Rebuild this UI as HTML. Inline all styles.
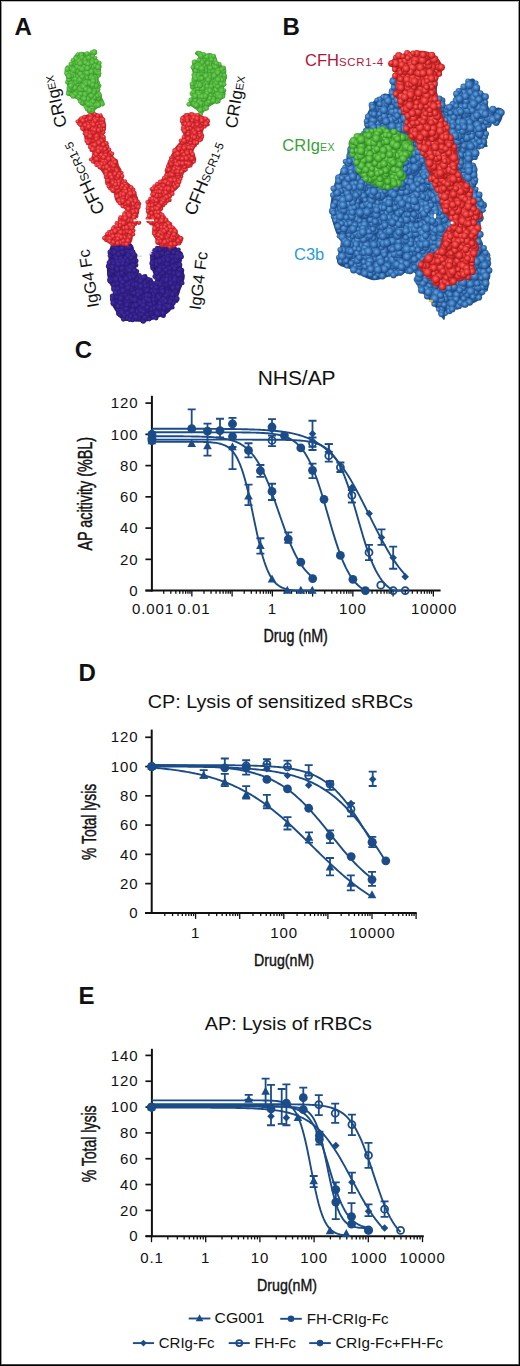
<!DOCTYPE html>
<html><head><meta charset="utf-8"><title>Figure</title>
<style>html,body{margin:0;padding:0;background:#fff;width:520px;height:1366px;overflow:hidden}svg{display:block}</style>
</head><body>
<svg width="520" height="1366" viewBox="0 0 520 1366">
<defs>
<style>
text{font-family:"Liberation Sans",sans-serif;fill:#111}
.tk{font-size:15px;letter-spacing:0.9px}
.lab{font-size:24px;font-weight:bold}
</style>
</defs>
<rect x="0" y="0" width="520" height="1366" fill="#fff"/>
<defs><radialGradient id="bB" cx="0.42" cy="0.4" r="0.62"><stop offset="0" stop-color="#6aa6e0"/><stop offset="0.55" stop-color="#3572b5"/><stop offset="1" stop-color="#1a4580"/></radialGradient>
<radialGradient id="rB" cx="0.42" cy="0.4" r="0.62"><stop offset="0" stop-color="#ff6a6a"/><stop offset="0.55" stop-color="#e0302f"/><stop offset="1" stop-color="#9a1418"/></radialGradient>
<radialGradient id="gB" cx="0.42" cy="0.4" r="0.62"><stop offset="0" stop-color="#86d65e"/><stop offset="0.55" stop-color="#4cb33a"/><stop offset="1" stop-color="#2a7d1e"/></radialGradient>
<radialGradient id="gA" cx="0.42" cy="0.4" r="0.62"><stop offset="0" stop-color="#76d058"/><stop offset="0.55" stop-color="#52b93e"/><stop offset="1" stop-color="#399329"/></radialGradient>
<radialGradient id="rA" cx="0.42" cy="0.4" r="0.62"><stop offset="0" stop-color="#ff6666"/><stop offset="0.55" stop-color="#e22c32"/><stop offset="1" stop-color="#ad1a20"/></radialGradient>
<radialGradient id="iA" cx="0.42" cy="0.4" r="0.62"><stop offset="0" stop-color="#4231a0"/><stop offset="0.55" stop-color="#33208a"/><stop offset="1" stop-color="#261870"/></radialGradient><filter id="sb" x="-5%" y="-5%" width="110%" height="110%"><feGaussianBlur stdDeviation="0.45"/></filter></defs>
<path d="M110.4,247.1 C112.1,244.7 116.1,243.7 119.0,242.8 C121.9,241.9 125.4,241.5 127.7,241.9 C130.0,242.3 131.8,243.7 132.9,245.4 C134.1,247.1 133.9,250.0 134.6,252.3 C135.3,254.6 136.9,256.6 137.2,259.2 C137.5,261.8 135.9,265.3 136.3,267.9 C136.7,270.5 138.1,273.4 139.8,274.8 C141.5,276.2 144.7,275.6 146.7,276.5 C148.7,277.4 150.7,278.3 151.9,280.0 C153.1,281.7 153.1,286.9 153.7,286.9 C154.3,286.9 155.7,282.9 155.4,280.0 C155.1,277.1 152.8,272.8 151.9,269.6 C151.0,266.4 150.2,263.6 150.2,261.0 C150.2,258.4 150.8,256.3 151.9,254.0 C153.1,251.7 155.1,248.8 157.1,247.1 C159.1,245.4 161.4,244.3 164.0,243.7 C166.6,243.1 170.4,242.8 172.7,243.7 C175.0,244.5 176.2,247.1 177.9,248.8 C179.6,250.5 182.5,251.4 183.1,254.0 C183.7,256.6 181.0,260.6 181.3,264.4 C181.6,268.1 184.8,272.8 184.8,276.5 C184.8,280.2 182.5,283.4 181.3,286.9 C180.2,290.4 179.3,293.8 177.9,297.3 C176.5,300.8 174.7,304.8 172.7,307.7 C170.7,310.6 168.4,312.9 165.8,314.6 C163.2,316.3 160.3,317.0 157.1,318.1 C153.9,319.2 150.4,320.9 146.7,321.5 C142.9,322.1 138.6,321.8 134.6,321.5 C130.6,321.2 125.7,321.5 122.5,319.8 C119.3,318.1 117.6,314.4 115.6,311.2 C113.6,308.0 110.7,304.0 110.4,300.8 C110.1,297.6 114.1,295.3 113.8,292.1 C113.5,288.9 109.8,285.4 108.7,281.7 C107.6,277.9 106.9,273.6 106.9,269.6 C106.9,265.6 108.1,261.2 108.7,257.5 C109.3,253.8 108.7,249.5 110.4,247.1Z" fill="#2a1a78"/>
<g fill="url(#iA)" filter="url(#sb)"><circle cx="118.2" cy="294.3" r="2.8"/><circle cx="115.1" cy="285.2" r="3.2"/><circle cx="152.0" cy="290.7" r="2.5"/><circle cx="122.5" cy="294.5" r="3.0"/><circle cx="167.7" cy="300.0" r="2.9"/><circle cx="119.2" cy="312.9" r="3.2"/><circle cx="156.7" cy="263.0" r="3.0"/><circle cx="142.9" cy="320.9" r="2.5"/><circle cx="120.7" cy="258.4" r="3.0"/><circle cx="110.0" cy="253.3" r="2.1"/><circle cx="142.2" cy="296.2" r="3.1"/><circle cx="155.1" cy="283.3" r="2.2"/><circle cx="157.1" cy="307.5" r="2.6"/><circle cx="128.1" cy="262.7" r="2.4"/><circle cx="121.4" cy="274.6" r="3.0"/><circle cx="108.5" cy="266.2" r="2.6"/><circle cx="113.0" cy="246.6" r="2.5"/><circle cx="164.4" cy="250.1" r="3.0"/><circle cx="122.8" cy="266.9" r="2.9"/><circle cx="170.8" cy="299.2" r="3.2"/><circle cx="123.6" cy="274.4" r="2.6"/><circle cx="160.3" cy="311.9" r="3.0"/><circle cx="132.5" cy="273.9" r="2.3"/><circle cx="163.3" cy="315.6" r="2.5"/><circle cx="175.2" cy="264.4" r="2.7"/><circle cx="144.9" cy="290.1" r="2.8"/><circle cx="115.5" cy="256.4" r="3.1"/><circle cx="115.6" cy="274.0" r="3.0"/><circle cx="120.0" cy="267.0" r="2.9"/><circle cx="177.5" cy="253.3" r="3.0"/><circle cx="178.7" cy="285.8" r="3.1"/><circle cx="155.4" cy="311.1" r="2.6"/><circle cx="166.8" cy="297.3" r="2.5"/><circle cx="114.3" cy="288.7" r="3.2"/><circle cx="165.3" cy="248.3" r="2.7"/><circle cx="128.1" cy="267.4" r="3.1"/><circle cx="131.7" cy="286.8" r="2.4"/><circle cx="113.9" cy="274.7" r="2.7"/><circle cx="171.1" cy="305.6" r="3.0"/><circle cx="139.5" cy="275.3" r="2.2"/><circle cx="170.4" cy="269.3" r="2.7"/><circle cx="167.8" cy="280.6" r="2.5"/><circle cx="139.9" cy="288.9" r="3.0"/><circle cx="125.1" cy="282.2" r="2.8"/><circle cx="126.2" cy="292.5" r="2.9"/><circle cx="174.7" cy="276.7" r="2.8"/><circle cx="138.8" cy="299.8" r="2.8"/><circle cx="156.5" cy="300.0" r="3.0"/><circle cx="129.5" cy="283.6" r="2.7"/><circle cx="165.4" cy="267.7" r="2.5"/><circle cx="156.6" cy="284.0" r="2.6"/><circle cx="126.2" cy="258.2" r="3.0"/><circle cx="125.3" cy="244.4" r="2.3"/><circle cx="123.0" cy="297.7" r="2.7"/><circle cx="161.0" cy="300.0" r="2.7"/><circle cx="154.8" cy="276.5" r="2.4"/><circle cx="173.8" cy="250.0" r="3.2"/><circle cx="145.9" cy="287.2" r="2.4"/><circle cx="176.2" cy="292.7" r="3.1"/><circle cx="169.2" cy="249.2" r="2.9"/><circle cx="138.6" cy="313.4" r="2.6"/><circle cx="139.6" cy="277.7" r="2.8"/><circle cx="173.2" cy="303.3" r="2.4"/><circle cx="146.1" cy="281.8" r="3.1"/><circle cx="140.3" cy="303.1" r="2.8"/><circle cx="128.2" cy="295.0" r="2.3"/><circle cx="116.5" cy="247.8" r="2.5"/><circle cx="134.9" cy="305.6" r="2.9"/><circle cx="126.9" cy="285.4" r="2.6"/><circle cx="163.7" cy="299.4" r="3.1"/><circle cx="134.4" cy="316.1" r="3.0"/><circle cx="119.2" cy="286.0" r="3.1"/><circle cx="145.2" cy="298.8" r="2.6"/><circle cx="126.3" cy="271.6" r="2.7"/><circle cx="118.4" cy="274.1" r="2.3"/><circle cx="180.7" cy="255.1" r="2.4"/><circle cx="118.4" cy="277.1" r="2.3"/><circle cx="160.5" cy="267.1" r="2.7"/><circle cx="121.0" cy="287.7" r="2.9"/><circle cx="117.7" cy="244.5" r="2.2"/><circle cx="118.4" cy="249.5" r="2.5"/><circle cx="127.1" cy="308.5" r="2.7"/><circle cx="123.8" cy="271.2" r="2.7"/><circle cx="161.7" cy="282.1" r="2.6"/><circle cx="151.4" cy="307.1" r="3.1"/><circle cx="178.9" cy="282.9" r="2.9"/><circle cx="126.5" cy="301.6" r="2.6"/><circle cx="112.3" cy="261.4" r="2.4"/><circle cx="147.0" cy="295.7" r="3.0"/><circle cx="112.1" cy="274.4" r="2.8"/><circle cx="172.8" cy="263.4" r="3.2"/><circle cx="116.1" cy="302.4" r="2.6"/><circle cx="153.5" cy="317.1" r="2.4"/><circle cx="135.7" cy="282.4" r="2.8"/><circle cx="129.1" cy="256.0" r="2.7"/><circle cx="120.6" cy="300.7" r="2.8"/><circle cx="127.9" cy="261.5" r="3.2"/><circle cx="133.2" cy="306.2" r="2.4"/><circle cx="142.6" cy="308.8" r="3.0"/><circle cx="113.8" cy="284.4" r="2.3"/><circle cx="124.1" cy="287.5" r="2.6"/><circle cx="157.7" cy="274.2" r="2.8"/><circle cx="156.1" cy="318.1" r="2.4"/><circle cx="139.3" cy="308.8" r="3.1"/><circle cx="143.6" cy="321.4" r="2.2"/><circle cx="125.2" cy="251.9" r="2.6"/><circle cx="149.3" cy="287.1" r="2.8"/><circle cx="112.2" cy="252.7" r="2.9"/><circle cx="126.7" cy="311.4" r="3.2"/><circle cx="168.9" cy="246.4" r="2.9"/><circle cx="159.7" cy="255.9" r="2.5"/><circle cx="116.5" cy="258.4" r="2.3"/><circle cx="162.2" cy="251.0" r="3.1"/><circle cx="114.7" cy="280.5" r="2.4"/><circle cx="166.6" cy="276.9" r="2.9"/><circle cx="132.5" cy="281.5" r="2.6"/><circle cx="134.9" cy="255.7" r="2.7"/><circle cx="121.0" cy="248.7" r="2.8"/><circle cx="174.6" cy="283.8" r="2.5"/><circle cx="136.8" cy="271.5" r="2.4"/><circle cx="181.6" cy="270.3" r="2.6"/><circle cx="144.5" cy="282.9" r="2.8"/><circle cx="136.0" cy="260.8" r="2.5"/><circle cx="120.8" cy="244.7" r="2.9"/><circle cx="115.4" cy="304.2" r="2.4"/><circle cx="175.4" cy="286.9" r="2.6"/><circle cx="160.7" cy="314.1" r="2.6"/><circle cx="161.3" cy="309.7" r="3.1"/><circle cx="116.6" cy="296.5" r="2.6"/><circle cx="163.1" cy="303.3" r="2.9"/><circle cx="157.0" cy="247.9" r="2.1"/><circle cx="155.9" cy="298.6" r="3.1"/><circle cx="145.5" cy="314.1" r="2.6"/><circle cx="151.5" cy="313.2" r="2.7"/><circle cx="122.7" cy="280.4" r="2.9"/><circle cx="134.5" cy="279.2" r="3.1"/><circle cx="173.1" cy="266.5" r="3.0"/><circle cx="170.0" cy="284.4" r="3.0"/><circle cx="136.7" cy="311.9" r="2.8"/><circle cx="165.6" cy="256.8" r="2.7"/><circle cx="168.5" cy="267.6" r="2.8"/><circle cx="143.9" cy="277.7" r="2.5"/><circle cx="112.5" cy="296.1" r="2.7"/><circle cx="177.7" cy="287.6" r="3.0"/><circle cx="166.9" cy="305.4" r="2.8"/><circle cx="169.3" cy="292.1" r="2.4"/><circle cx="163.1" cy="313.2" r="2.9"/><circle cx="175.7" cy="294.7" r="2.4"/><circle cx="132.4" cy="320.0" r="2.2"/><circle cx="149.3" cy="303.7" r="3.1"/><circle cx="164.4" cy="280.9" r="2.6"/><circle cx="163.4" cy="278.3" r="3.1"/><circle cx="166.8" cy="287.5" r="2.9"/><circle cx="135.8" cy="287.0" r="2.6"/><circle cx="162.1" cy="253.4" r="2.8"/><circle cx="128.9" cy="305.1" r="2.6"/><circle cx="121.8" cy="285.6" r="3.2"/><circle cx="110.2" cy="280.0" r="3.1"/><circle cx="126.4" cy="278.9" r="3.2"/><circle cx="172.6" cy="307.4" r="2.0"/><circle cx="118.9" cy="309.4" r="3.1"/><circle cx="109.7" cy="273.9" r="2.6"/><circle cx="122.4" cy="305.1" r="2.8"/><circle cx="158.2" cy="296.0" r="2.6"/><circle cx="122.6" cy="249.9" r="3.0"/><circle cx="175.1" cy="257.7" r="3.0"/><circle cx="163.2" cy="275.4" r="2.8"/><circle cx="118.7" cy="292.1" r="2.5"/><circle cx="171.8" cy="257.1" r="2.9"/><circle cx="159.2" cy="297.5" r="2.3"/><circle cx="139.7" cy="296.8" r="3.0"/><circle cx="112.0" cy="270.3" r="3.1"/><circle cx="136.5" cy="278.7" r="3.0"/><circle cx="172.4" cy="298.1" r="2.8"/><circle cx="146.9" cy="309.6" r="3.0"/><circle cx="111.9" cy="273.0" r="3.1"/><circle cx="176.1" cy="300.6" r="2.5"/><circle cx="116.7" cy="266.5" r="3.0"/><circle cx="154.6" cy="250.4" r="2.4"/><circle cx="135.8" cy="264.9" r="2.5"/><circle cx="122.5" cy="252.5" r="3.1"/><circle cx="134.1" cy="285.0" r="2.9"/><circle cx="130.1" cy="297.9" r="2.8"/><circle cx="120.4" cy="279.7" r="3.0"/><circle cx="133.0" cy="312.1" r="3.0"/><circle cx="122.0" cy="309.1" r="2.6"/><circle cx="160.0" cy="303.7" r="2.7"/><circle cx="177.9" cy="273.5" r="3.0"/><circle cx="165.7" cy="301.2" r="2.8"/><circle cx="166.4" cy="271.3" r="2.6"/><circle cx="174.8" cy="290.4" r="3.1"/><circle cx="147.2" cy="300.4" r="2.4"/><circle cx="123.4" cy="319.3" r="2.4"/><circle cx="130.5" cy="259.2" r="2.5"/><circle cx="137.6" cy="291.8" r="2.8"/><circle cx="135.1" cy="275.6" r="2.5"/><circle cx="149.3" cy="319.3" r="2.1"/><circle cx="163.3" cy="266.8" r="2.5"/><circle cx="170.4" cy="249.6" r="3.1"/><circle cx="160.3" cy="249.2" r="2.9"/><circle cx="152.9" cy="260.6" r="2.5"/><circle cx="159.8" cy="275.5" r="2.8"/><circle cx="155.1" cy="253.3" r="2.6"/><circle cx="156.8" cy="261.7" r="2.4"/><circle cx="114.0" cy="302.5" r="2.5"/><circle cx="140.5" cy="315.0" r="2.6"/><circle cx="154.4" cy="288.6" r="2.9"/><circle cx="137.0" cy="306.5" r="2.3"/><circle cx="167.5" cy="309.1" r="2.7"/><circle cx="119.8" cy="315.1" r="2.3"/><circle cx="147.9" cy="285.8" r="2.6"/><circle cx="133.6" cy="292.1" r="2.9"/><circle cx="152.2" cy="257.6" r="2.3"/><circle cx="125.2" cy="294.4" r="3.1"/><circle cx="173.7" cy="252.6" r="2.4"/><circle cx="168.8" cy="244.4" r="2.2"/><circle cx="131.4" cy="310.7" r="2.3"/><circle cx="171.1" cy="275.2" r="2.6"/><circle cx="181.9" cy="275.3" r="2.4"/><circle cx="170.3" cy="301.9" r="2.4"/><circle cx="116.8" cy="261.5" r="2.6"/><circle cx="114.0" cy="252.4" r="2.5"/><circle cx="136.3" cy="284.5" r="2.6"/><circle cx="132.0" cy="293.2" r="2.9"/><circle cx="123.3" cy="315.0" r="2.3"/><circle cx="152.4" cy="268.6" r="2.0"/><circle cx="128.0" cy="250.2" r="3.1"/><circle cx="173.3" cy="273.3" r="2.9"/><circle cx="151.4" cy="282.7" r="2.6"/><circle cx="131.4" cy="291.9" r="3.1"/><circle cx="144.2" cy="287.8" r="2.7"/><circle cx="122.0" cy="312.6" r="3.1"/><circle cx="118.0" cy="306.2" r="2.8"/><circle cx="127.3" cy="318.0" r="2.9"/><circle cx="169.6" cy="271.8" r="3.1"/><circle cx="134.2" cy="313.6" r="2.5"/><circle cx="113.7" cy="280.0" r="2.4"/><circle cx="175.9" cy="260.6" r="2.7"/><circle cx="179.9" cy="269.5" r="2.8"/><circle cx="153.9" cy="302.8" r="2.5"/><circle cx="157.6" cy="270.9" r="2.5"/><circle cx="114.4" cy="252.4" r="3.2"/><circle cx="133.1" cy="262.1" r="3.0"/><circle cx="162.2" cy="273.1" r="2.8"/><circle cx="169.2" cy="268.4" r="2.9"/><circle cx="172.7" cy="294.5" r="2.9"/><circle cx="138.7" cy="318.4" r="2.7"/><circle cx="162.7" cy="247.3" r="2.6"/><circle cx="126.1" cy="308.8" r="3.0"/><circle cx="140.8" cy="292.8" r="2.9"/><circle cx="144.0" cy="301.8" r="2.9"/><circle cx="147.4" cy="315.2" r="2.4"/><circle cx="173.0" cy="285.2" r="2.3"/><circle cx="172.3" cy="261.5" r="3.2"/><circle cx="121.4" cy="306.2" r="2.6"/><circle cx="126.9" cy="247.1" r="2.9"/><circle cx="113.4" cy="263.6" r="2.5"/><circle cx="120.6" cy="303.1" r="2.7"/><circle cx="162.1" cy="294.2" r="2.9"/><circle cx="165.6" cy="285.3" r="3.1"/><circle cx="166.6" cy="254.3" r="2.5"/><circle cx="156.0" cy="264.9" r="2.8"/><circle cx="131.3" cy="269.7" r="2.4"/><circle cx="158.5" cy="255.1" r="3.1"/><circle cx="131.8" cy="299.9" r="2.7"/><circle cx="128.6" cy="300.8" r="2.8"/><circle cx="127.1" cy="304.9" r="2.5"/><circle cx="169.7" cy="279.6" r="2.8"/><circle cx="115.6" cy="292.9" r="2.9"/><circle cx="147.2" cy="299.3" r="3.0"/><circle cx="128.9" cy="247.0" r="3.2"/><circle cx="133.4" cy="265.7" r="2.9"/><circle cx="120.1" cy="261.4" r="2.6"/><circle cx="153.3" cy="296.2" r="2.7"/><circle cx="117.1" cy="269.4" r="3.0"/><circle cx="131.2" cy="267.5" r="2.8"/><circle cx="153.9" cy="308.5" r="2.7"/><circle cx="145.0" cy="317.5" r="3.1"/><circle cx="121.0" cy="298.3" r="3.0"/><circle cx="176.9" cy="298.8" r="2.7"/><circle cx="163.8" cy="308.4" r="3.0"/><circle cx="111.9" cy="298.9" r="2.1"/><circle cx="161.5" cy="263.3" r="2.9"/><circle cx="162.9" cy="287.8" r="2.9"/><circle cx="167.0" cy="292.1" r="2.3"/><circle cx="162.4" cy="286.5" r="3.2"/><circle cx="151.9" cy="286.6" r="2.4"/><circle cx="153.9" cy="294.2" r="2.4"/><circle cx="149.3" cy="295.7" r="2.5"/><circle cx="157.8" cy="291.1" r="2.9"/><circle cx="142.6" cy="314.0" r="2.5"/><circle cx="145.2" cy="276.4" r="2.3"/><circle cx="129.4" cy="254.3" r="3.2"/><circle cx="112.6" cy="270.9" r="2.9"/><circle cx="109.5" cy="262.7" r="2.8"/><circle cx="133.0" cy="260.4" r="3.0"/><circle cx="122.0" cy="273.3" r="2.4"/><circle cx="136.2" cy="305.2" r="2.9"/><circle cx="179.7" cy="279.8" r="3.0"/><circle cx="176.0" cy="267.0" r="2.9"/><circle cx="132.5" cy="310.8" r="3.0"/><circle cx="109.9" cy="255.8" r="2.3"/><circle cx="112.6" cy="267.2" r="3.1"/><circle cx="127.6" cy="243.5" r="2.4"/><circle cx="137.1" cy="296.5" r="2.3"/><circle cx="179.9" cy="274.3" r="2.4"/><circle cx="122.2" cy="268.6" r="2.9"/><circle cx="156.4" cy="249.5" r="2.2"/><circle cx="166.6" cy="280.2" r="3.1"/><circle cx="135.9" cy="319.0" r="2.3"/><circle cx="170.9" cy="283.3" r="2.8"/><circle cx="127.6" cy="298.5" r="2.5"/><circle cx="179.0" cy="274.7" r="3.1"/><circle cx="130.7" cy="316.2" r="2.7"/><circle cx="166.0" cy="270.0" r="2.6"/><circle cx="178.6" cy="249.6" r="2.1"/><circle cx="152.7" cy="266.2" r="2.6"/><circle cx="153.6" cy="299.8" r="2.4"/><circle cx="131.4" cy="274.1" r="2.3"/><circle cx="172.8" cy="247.7" r="2.6"/><circle cx="122.8" cy="282.3" r="2.8"/><circle cx="164.1" cy="262.4" r="2.3"/><circle cx="168.5" cy="256.2" r="2.3"/><circle cx="129.7" cy="319.8" r="2.2"/><circle cx="117.1" cy="283.4" r="3.0"/><circle cx="141.3" cy="310.7" r="2.4"/><circle cx="147.2" cy="290.6" r="2.7"/><circle cx="150.5" cy="280.2" r="2.4"/><circle cx="155.6" cy="291.5" r="2.7"/><circle cx="178.1" cy="280.6" r="2.5"/><circle cx="169.0" cy="306.9" r="3.2"/><circle cx="179.7" cy="264.9" r="2.6"/><circle cx="132.4" cy="252.3" r="3.1"/><circle cx="110.0" cy="252.1" r="2.5"/><circle cx="138.1" cy="294.7" r="2.6"/><circle cx="173.3" cy="287.9" r="2.8"/><circle cx="167.4" cy="263.7" r="3.1"/><circle cx="118.8" cy="254.3" r="2.7"/><circle cx="159.8" cy="307.5" r="3.1"/><circle cx="169.7" cy="259.1" r="2.6"/><circle cx="131.0" cy="257.8" r="2.9"/><circle cx="117.8" cy="288.8" r="2.4"/><circle cx="157.7" cy="314.0" r="3.2"/><circle cx="167.9" cy="294.3" r="2.6"/><circle cx="167.8" cy="259.8" r="3.0"/><circle cx="145.6" cy="285.9" r="2.4"/><circle cx="134.0" cy="254.6" r="2.5"/><circle cx="143.8" cy="277.4" r="2.8"/><circle cx="162.1" cy="288.2" r="2.3"/><circle cx="135.9" cy="317.4" r="3.0"/><circle cx="126.1" cy="264.2" r="2.8"/><circle cx="152.2" cy="311.9" r="2.4"/><circle cx="143.6" cy="311.7" r="2.5"/><circle cx="157.6" cy="278.6" r="3.1"/><circle cx="129.8" cy="270.4" r="2.8"/><circle cx="174.9" cy="268.5" r="2.5"/><circle cx="149.3" cy="300.5" r="2.6"/><circle cx="152.4" cy="254.4" r="2.7"/><circle cx="179.5" cy="259.6" r="2.5"/><circle cx="123.8" cy="261.0" r="2.8"/><circle cx="163.3" cy="260.0" r="3.1"/><circle cx="113.4" cy="303.2" r="2.9"/><circle cx="143.5" cy="305.4" r="2.9"/><circle cx="131.1" cy="289.6" r="2.9"/><circle cx="118.3" cy="264.3" r="3.0"/><circle cx="160.0" cy="261.3" r="2.9"/><circle cx="151.1" cy="309.4" r="2.5"/><circle cx="166.1" cy="295.6" r="2.4"/><circle cx="178.1" cy="257.1" r="2.7"/><circle cx="135.3" cy="298.9" r="2.4"/><circle cx="127.7" cy="313.6" r="2.3"/><circle cx="122.8" cy="263.5" r="2.7"/><circle cx="129.3" cy="275.3" r="2.4"/><circle cx="181.6" cy="256.8" r="2.4"/><circle cx="124.4" cy="315.7" r="2.7"/><circle cx="122.2" cy="248.2" r="2.7"/><circle cx="162.8" cy="291.7" r="3.1"/><circle cx="156.4" cy="287.4" r="2.8"/><circle cx="157.2" cy="283.1" r="2.6"/><circle cx="158.6" cy="277.0" r="2.6"/><circle cx="148.7" cy="279.1" r="2.0"/><circle cx="174.9" cy="280.0" r="3.0"/><circle cx="128.4" cy="287.9" r="2.8"/><circle cx="182.3" cy="283.0" r="2.3"/><circle cx="110.4" cy="281.1" r="2.6"/><circle cx="116.0" cy="279.3" r="3.2"/><circle cx="133.1" cy="276.9" r="3.1"/><circle cx="134.1" cy="293.2" r="2.4"/><circle cx="157.0" cy="273.2" r="2.5"/><circle cx="160.4" cy="284.3" r="2.8"/><circle cx="128.2" cy="255.5" r="2.4"/><circle cx="134.5" cy="270.3" r="2.6"/><circle cx="157.5" cy="255.7" r="2.6"/><circle cx="150.7" cy="304.8" r="2.5"/><circle cx="135.3" cy="300.0" r="3.0"/><circle cx="152.1" cy="263.2" r="2.7"/><circle cx="130.4" cy="277.9" r="2.4"/><circle cx="123.1" cy="291.0" r="3.2"/><circle cx="159.4" cy="270.3" r="3.0"/><circle cx="141.0" cy="286.2" r="3.1"/><circle cx="168.3" cy="253.1" r="2.4"/><circle cx="140.8" cy="281.1" r="2.9"/><circle cx="147.6" cy="307.7" r="2.7"/></g>
<path d="M94.0,49.6 C95.0,49.7 96.8,50.9 96.9,51.9 C97.0,52.9 94.4,54.0 94.6,55.4 C94.8,56.8 97.0,58.6 98.1,60.0 C99.2,61.4 100.7,62.1 101.0,63.5 C101.3,64.8 99.9,66.6 99.8,68.1 C99.7,69.6 100.6,71.0 100.4,72.7 C100.2,74.4 98.8,76.4 98.7,78.5 C98.6,80.6 99.5,82.9 99.8,85.4 C100.1,87.9 99.6,90.6 100.4,93.5 C101.2,96.4 104.0,100.8 104.4,102.7 C104.8,104.6 104.1,103.8 102.7,105.0 C101.3,106.2 97.2,108.2 95.8,109.6 C94.4,110.9 95.9,112.5 94.6,113.1 C93.2,113.7 89.2,114.1 87.7,113.1 C86.2,112.1 86.6,108.6 85.4,107.3 C84.2,106.0 82.2,106.3 80.8,105.0 C79.4,103.7 78.8,100.5 77.3,99.2 C75.8,97.9 73.2,97.7 71.5,96.9 C69.8,96.1 67.7,96.5 66.9,94.6 C66.1,92.7 67.0,88.1 66.9,85.4 C66.8,82.7 66.7,80.8 66.3,78.5 C65.9,76.2 64.6,73.6 64.6,71.5 C64.6,69.4 65.3,66.8 66.3,65.8 C67.3,64.8 69.3,66.2 70.4,65.2 C71.5,64.2 72.0,61.6 72.7,60.0 C73.4,58.4 73.1,56.8 74.4,55.4 C75.8,54.0 78.6,52.3 80.8,51.9 C83.0,51.5 86.0,53.2 87.7,53.1 C89.4,53.0 90.2,51.9 91.2,51.3 C92.2,50.7 93.0,49.5 94.0,49.6Z" fill="#44a033"/>
<g fill="url(#gA)" filter="url(#sb)"><circle cx="75.1" cy="63.3" r="3.0"/><circle cx="81.8" cy="59.6" r="2.5"/><circle cx="95.4" cy="77.2" r="2.5"/><circle cx="72.0" cy="69.7" r="2.6"/><circle cx="97.6" cy="83.1" r="2.5"/><circle cx="67.1" cy="73.3" r="2.8"/><circle cx="84.9" cy="70.5" r="2.5"/><circle cx="68.2" cy="93.4" r="2.4"/><circle cx="92.8" cy="56.0" r="2.3"/><circle cx="77.5" cy="84.3" r="2.4"/><circle cx="78.8" cy="57.9" r="2.4"/><circle cx="76.9" cy="61.9" r="2.8"/><circle cx="81.9" cy="54.7" r="2.3"/><circle cx="82.9" cy="81.7" r="2.8"/><circle cx="89.9" cy="109.2" r="2.3"/><circle cx="84.6" cy="83.4" r="2.3"/><circle cx="79.0" cy="68.6" r="2.6"/><circle cx="67.1" cy="82.2" r="2.1"/><circle cx="87.3" cy="74.7" r="2.5"/><circle cx="71.6" cy="67.4" r="2.8"/><circle cx="98.2" cy="89.5" r="2.3"/><circle cx="76.9" cy="76.6" r="2.3"/><circle cx="88.9" cy="60.0" r="2.4"/><circle cx="76.9" cy="71.3" r="2.6"/><circle cx="93.1" cy="86.3" r="2.4"/><circle cx="85.5" cy="61.7" r="2.4"/><circle cx="73.6" cy="78.4" r="2.9"/><circle cx="89.3" cy="84.2" r="2.4"/><circle cx="77.5" cy="90.6" r="2.7"/><circle cx="86.4" cy="82.4" r="2.8"/><circle cx="89.9" cy="70.7" r="2.7"/><circle cx="76.0" cy="58.8" r="2.9"/><circle cx="87.1" cy="102.1" r="2.5"/><circle cx="99.4" cy="63.0" r="2.3"/><circle cx="83.4" cy="66.8" r="3.0"/><circle cx="81.5" cy="87.3" r="2.6"/><circle cx="91.7" cy="75.2" r="2.2"/><circle cx="99.0" cy="93.7" r="2.3"/><circle cx="69.5" cy="87.3" r="2.6"/><circle cx="70.8" cy="72.0" r="2.7"/><circle cx="95.6" cy="78.6" r="2.3"/><circle cx="85.5" cy="76.7" r="2.9"/><circle cx="70.1" cy="68.3" r="2.8"/><circle cx="98.7" cy="75.4" r="2.2"/><circle cx="90.7" cy="69.7" r="2.2"/><circle cx="89.5" cy="83.0" r="2.8"/><circle cx="77.8" cy="62.5" r="2.7"/><circle cx="82.0" cy="102.9" r="2.3"/><circle cx="91.5" cy="102.1" r="2.6"/><circle cx="99.5" cy="95.5" r="2.6"/><circle cx="90.7" cy="59.4" r="2.4"/><circle cx="98.2" cy="98.1" r="2.7"/><circle cx="92.8" cy="66.7" r="2.7"/><circle cx="82.7" cy="98.5" r="2.5"/><circle cx="99.2" cy="85.7" r="2.2"/><circle cx="94.3" cy="71.9" r="2.8"/><circle cx="77.2" cy="66.9" r="2.5"/><circle cx="72.9" cy="60.2" r="2.3"/><circle cx="84.3" cy="71.3" r="3.0"/><circle cx="84.8" cy="59.2" r="2.3"/><circle cx="75.7" cy="82.1" r="2.5"/><circle cx="94.1" cy="98.4" r="2.7"/><circle cx="72.8" cy="73.3" r="3.0"/><circle cx="74.1" cy="75.8" r="2.2"/><circle cx="85.8" cy="83.9" r="2.5"/><circle cx="71.8" cy="89.7" r="2.9"/><circle cx="85.5" cy="62.5" r="2.6"/><circle cx="71.4" cy="76.3" r="2.5"/><circle cx="101.7" cy="102.9" r="2.2"/><circle cx="79.8" cy="67.8" r="2.4"/><circle cx="96.8" cy="96.0" r="2.6"/><circle cx="97.0" cy="103.4" r="2.3"/><circle cx="95.5" cy="71.0" r="2.3"/><circle cx="95.7" cy="81.3" r="2.5"/><circle cx="76.8" cy="93.7" r="2.4"/><circle cx="92.6" cy="61.1" r="2.6"/><circle cx="79.7" cy="89.1" r="2.9"/><circle cx="85.4" cy="106.7" r="1.9"/><circle cx="94.7" cy="91.2" r="2.6"/><circle cx="95.7" cy="105.3" r="3.0"/><circle cx="71.0" cy="82.6" r="2.4"/><circle cx="92.3" cy="52.4" r="2.4"/><circle cx="86.6" cy="77.9" r="2.4"/><circle cx="77.2" cy="96.3" r="2.7"/><circle cx="92.8" cy="98.0" r="2.7"/><circle cx="79.2" cy="98.8" r="2.2"/><circle cx="86.8" cy="96.2" r="2.6"/><circle cx="88.6" cy="55.8" r="2.2"/><circle cx="79.2" cy="60.8" r="2.6"/><circle cx="92.1" cy="108.6" r="3.0"/><circle cx="89.5" cy="66.1" r="2.6"/><circle cx="81.1" cy="54.8" r="2.8"/><circle cx="80.0" cy="101.6" r="2.0"/><circle cx="77.6" cy="54.3" r="2.0"/><circle cx="98.1" cy="86.6" r="2.3"/><circle cx="91.7" cy="110.9" r="3.0"/><circle cx="80.5" cy="74.0" r="2.7"/><circle cx="94.8" cy="65.3" r="2.3"/><circle cx="91.5" cy="77.6" r="2.9"/><circle cx="87.3" cy="89.0" r="2.7"/><circle cx="97.2" cy="71.9" r="2.8"/><circle cx="92.8" cy="94.6" r="2.7"/><circle cx="84.6" cy="95.6" r="2.5"/><circle cx="82.1" cy="57.5" r="2.3"/><circle cx="96.5" cy="85.5" r="2.2"/><circle cx="69.9" cy="89.5" r="2.6"/><circle cx="80.3" cy="83.6" r="2.5"/><circle cx="96.3" cy="61.4" r="2.4"/><circle cx="72.2" cy="95.0" r="2.4"/><circle cx="72.9" cy="84.8" r="2.4"/><circle cx="80.7" cy="93.8" r="2.7"/><circle cx="83.7" cy="78.2" r="2.4"/><circle cx="99.1" cy="66.5" r="2.5"/><circle cx="82.3" cy="69.1" r="2.9"/><circle cx="88.6" cy="104.1" r="2.7"/><circle cx="75.4" cy="94.1" r="2.7"/><circle cx="95.5" cy="57.8" r="1.9"/><circle cx="88.7" cy="57.7" r="2.6"/><circle cx="87.4" cy="73.1" r="2.9"/><circle cx="80.4" cy="63.4" r="2.9"/><circle cx="87.2" cy="53.8" r="2.5"/><circle cx="75.3" cy="79.1" r="2.5"/><circle cx="98.6" cy="69.8" r="2.5"/><circle cx="94.3" cy="52.2" r="2.9"/><circle cx="85.4" cy="94.3" r="2.8"/><circle cx="102.3" cy="104.2" r="2.4"/><circle cx="79.2" cy="81.2" r="2.9"/><circle cx="73.3" cy="96.2" r="2.5"/><circle cx="80.0" cy="79.8" r="2.8"/><circle cx="71.8" cy="87.1" r="2.9"/><circle cx="93.1" cy="78.3" r="2.5"/><circle cx="82.4" cy="76.7" r="2.5"/><circle cx="86.8" cy="108.7" r="2.2"/><circle cx="94.1" cy="97.4" r="2.6"/><circle cx="88.3" cy="92.1" r="2.8"/><circle cx="87.9" cy="99.3" r="2.5"/><circle cx="75.1" cy="87.9" r="2.6"/><circle cx="73.6" cy="70.0" r="3.0"/><circle cx="91.3" cy="71.6" r="2.9"/><circle cx="87.6" cy="68.2" r="2.9"/><circle cx="67.4" cy="69.0" r="2.7"/><circle cx="93.3" cy="81.1" r="2.7"/><circle cx="91.6" cy="104.3" r="2.4"/><circle cx="81.0" cy="89.5" r="2.6"/><circle cx="93.1" cy="101.5" r="2.4"/><circle cx="71.0" cy="64.0" r="2.5"/><circle cx="82.2" cy="89.4" r="2.3"/><circle cx="78.7" cy="97.1" r="2.4"/><circle cx="89.7" cy="110.1" r="2.5"/><circle cx="96.1" cy="86.1" r="2.3"/><circle cx="92.1" cy="62.6" r="2.4"/><circle cx="92.7" cy="85.0" r="2.5"/><circle cx="99.2" cy="73.2" r="2.2"/><circle cx="93.8" cy="92.6" r="2.3"/><circle cx="88.1" cy="63.9" r="2.4"/><circle cx="83.6" cy="86.4" r="3.0"/><circle cx="71.0" cy="85.8" r="2.8"/><circle cx="69.1" cy="79.2" r="2.8"/><circle cx="85.8" cy="89.2" r="2.4"/><circle cx="98.2" cy="67.2" r="2.9"/><circle cx="91.4" cy="95.6" r="2.8"/><circle cx="84.4" cy="98.7" r="2.8"/><circle cx="69.0" cy="76.3" r="2.8"/><circle cx="89.7" cy="90.9" r="2.9"/><circle cx="98.2" cy="104.9" r="2.9"/></g>
<path d="M197.3,50.8 C198.3,50.5 199.7,51.3 200.8,51.9 C202.0,52.5 202.7,54.0 204.2,54.2 C205.7,54.4 208.1,52.7 210.0,53.1 C211.9,53.5 214.5,55.0 215.8,56.5 C217.2,58.0 216.9,60.8 218.1,62.3 C219.2,63.8 221.4,64.8 222.7,65.8 C223.9,66.8 225.0,65.8 225.6,68.1 C226.2,70.4 226.5,76.5 226.2,79.6 C225.9,82.7 223.9,84.2 223.8,86.5 C223.7,88.8 225.6,91.6 225.6,93.5 C225.6,95.4 225.1,96.8 223.8,98.1 C222.6,99.4 220.0,100.3 218.1,101.5 C216.2,102.7 214.2,103.8 212.3,105.0 C210.4,106.2 208.0,107.2 206.5,108.5 C205.0,109.8 204.2,112.1 203.1,113.1 C202.0,114.0 201.2,114.6 200.2,114.2 C199.2,113.8 198.6,112.0 197.3,110.8 C196.1,109.6 194.2,108.5 192.7,107.3 C191.2,106.1 188.3,105.5 188.1,103.8 C187.9,102.1 190.7,99.4 191.5,96.9 C192.3,94.4 192.7,91.7 192.7,88.8 C192.7,85.9 191.5,82.1 191.5,79.6 C191.5,77.1 192.7,75.7 192.7,73.8 C192.7,71.9 191.5,69.8 191.5,68.1 C191.5,66.4 191.5,65.2 192.7,63.5 C193.9,61.8 198.1,59.3 198.5,57.7 C198.9,56.1 195.2,54.9 195.0,53.7 C194.8,52.6 196.3,51.1 197.3,50.8Z" fill="#44a033"/>
<g fill="url(#gA)" filter="url(#sb)"><circle cx="214.6" cy="75.4" r="2.7"/><circle cx="194.1" cy="96.6" r="2.6"/><circle cx="197.3" cy="70.7" r="2.7"/><circle cx="209.5" cy="63.1" r="2.7"/><circle cx="201.1" cy="91.7" r="2.7"/><circle cx="205.9" cy="94.7" r="2.3"/><circle cx="193.7" cy="74.7" r="2.3"/><circle cx="192.7" cy="67.2" r="2.2"/><circle cx="205.4" cy="67.4" r="2.4"/><circle cx="201.2" cy="62.0" r="2.4"/><circle cx="195.6" cy="61.7" r="2.3"/><circle cx="195.4" cy="74.3" r="2.2"/><circle cx="204.5" cy="109.0" r="2.3"/><circle cx="196.2" cy="64.3" r="2.8"/><circle cx="205.5" cy="106.8" r="2.2"/><circle cx="203.8" cy="65.4" r="2.4"/><circle cx="223.4" cy="70.7" r="2.9"/><circle cx="215.4" cy="71.7" r="2.3"/><circle cx="204.3" cy="59.1" r="2.7"/><circle cx="210.1" cy="81.0" r="2.9"/><circle cx="213.3" cy="97.4" r="2.2"/><circle cx="190.7" cy="99.9" r="2.4"/><circle cx="217.5" cy="82.2" r="2.7"/><circle cx="207.9" cy="58.8" r="2.5"/><circle cx="198.1" cy="83.6" r="2.3"/><circle cx="208.5" cy="71.7" r="2.5"/><circle cx="198.9" cy="74.9" r="2.2"/><circle cx="222.8" cy="76.0" r="2.4"/><circle cx="200.7" cy="113.8" r="2.4"/><circle cx="201.1" cy="64.7" r="2.4"/><circle cx="211.9" cy="82.0" r="2.7"/><circle cx="195.6" cy="70.7" r="2.3"/><circle cx="207.3" cy="89.7" r="2.8"/><circle cx="222.8" cy="84.5" r="2.8"/><circle cx="203.9" cy="88.1" r="2.3"/><circle cx="212.5" cy="66.4" r="2.9"/><circle cx="203.0" cy="95.8" r="2.5"/><circle cx="203.9" cy="86.1" r="2.3"/><circle cx="194.2" cy="103.8" r="2.9"/><circle cx="213.8" cy="79.9" r="2.8"/><circle cx="224.6" cy="77.2" r="2.5"/><circle cx="204.7" cy="83.1" r="2.7"/><circle cx="211.9" cy="77.4" r="2.9"/><circle cx="200.2" cy="99.2" r="2.3"/><circle cx="223.0" cy="80.6" r="2.7"/><circle cx="202.4" cy="104.3" r="2.7"/><circle cx="200.4" cy="54.4" r="3.0"/><circle cx="215.4" cy="94.5" r="2.7"/><circle cx="216.8" cy="92.0" r="3.0"/><circle cx="209.1" cy="104.2" r="2.2"/><circle cx="219.5" cy="64.1" r="2.1"/><circle cx="194.2" cy="62.0" r="2.5"/><circle cx="220.9" cy="85.7" r="2.4"/><circle cx="209.4" cy="63.8" r="2.9"/><circle cx="204.1" cy="90.2" r="2.8"/><circle cx="197.8" cy="76.7" r="2.3"/><circle cx="218.1" cy="101.0" r="2.5"/><circle cx="214.5" cy="61.7" r="2.3"/><circle cx="214.4" cy="66.6" r="2.2"/><circle cx="199.6" cy="78.9" r="2.5"/><circle cx="221.2" cy="88.9" r="2.7"/><circle cx="207.7" cy="63.2" r="2.3"/><circle cx="216.5" cy="65.4" r="2.2"/><circle cx="201.3" cy="69.0" r="2.9"/><circle cx="204.1" cy="99.2" r="2.2"/><circle cx="207.0" cy="82.4" r="2.5"/><circle cx="200.9" cy="105.2" r="2.3"/><circle cx="212.5" cy="70.9" r="2.4"/><circle cx="214.9" cy="84.8" r="2.5"/><circle cx="214.9" cy="60.1" r="2.2"/><circle cx="196.2" cy="103.3" r="2.4"/><circle cx="200.4" cy="59.8" r="3.0"/><circle cx="199.3" cy="65.6" r="2.6"/><circle cx="215.9" cy="67.0" r="2.3"/><circle cx="220.9" cy="84.1" r="2.9"/><circle cx="192.1" cy="93.6" r="2.5"/><circle cx="195.7" cy="96.8" r="2.3"/><circle cx="198.1" cy="92.3" r="2.4"/><circle cx="207.2" cy="86.3" r="2.3"/><circle cx="199.0" cy="94.2" r="2.8"/><circle cx="220.0" cy="77.0" r="2.6"/><circle cx="194.6" cy="76.6" r="2.5"/><circle cx="224.6" cy="75.4" r="2.2"/><circle cx="207.4" cy="103.3" r="2.6"/><circle cx="200.5" cy="83.9" r="2.4"/><circle cx="188.8" cy="104.3" r="2.4"/><circle cx="224.3" cy="84.2" r="2.1"/><circle cx="216.0" cy="89.8" r="2.8"/><circle cx="194.1" cy="89.6" r="2.5"/><circle cx="216.6" cy="102.0" r="1.9"/><circle cx="210.3" cy="67.9" r="2.6"/><circle cx="192.6" cy="87.4" r="2.2"/><circle cx="218.1" cy="94.6" r="2.8"/><circle cx="219.0" cy="87.7" r="2.5"/><circle cx="214.2" cy="75.7" r="2.8"/><circle cx="198.9" cy="102.1" r="2.7"/><circle cx="200.9" cy="103.5" r="2.4"/><circle cx="202.2" cy="62.3" r="2.4"/><circle cx="210.9" cy="94.7" r="2.8"/><circle cx="202.9" cy="80.8" r="2.3"/><circle cx="217.7" cy="86.2" r="2.6"/><circle cx="216.4" cy="63.1" r="2.4"/><circle cx="207.3" cy="91.7" r="2.6"/><circle cx="194.2" cy="84.0" r="2.5"/><circle cx="204.6" cy="55.9" r="2.6"/><circle cx="209.0" cy="75.1" r="2.7"/><circle cx="221.8" cy="93.8" r="2.9"/><circle cx="195.3" cy="100.2" r="2.3"/><circle cx="199.7" cy="96.7" r="2.2"/><circle cx="212.2" cy="91.8" r="2.7"/><circle cx="200.4" cy="110.0" r="2.8"/><circle cx="205.8" cy="72.6" r="2.9"/><circle cx="209.3" cy="77.5" r="2.6"/><circle cx="197.8" cy="88.5" r="2.6"/><circle cx="216.7" cy="82.6" r="2.6"/><circle cx="197.6" cy="67.1" r="2.8"/><circle cx="209.0" cy="101.9" r="2.4"/><circle cx="223.8" cy="67.5" r="2.1"/><circle cx="220.4" cy="74.7" r="2.3"/><circle cx="223.3" cy="96.5" r="1.9"/><circle cx="202.5" cy="88.4" r="2.9"/><circle cx="194.3" cy="80.2" r="2.4"/><circle cx="221.8" cy="79.8" r="2.4"/><circle cx="210.4" cy="56.6" r="3.0"/><circle cx="210.9" cy="87.9" r="2.5"/><circle cx="205.5" cy="70.9" r="2.5"/><circle cx="210.1" cy="90.8" r="2.6"/><circle cx="193.4" cy="92.0" r="2.3"/><circle cx="195.7" cy="78.5" r="2.6"/><circle cx="213.3" cy="100.6" r="2.8"/><circle cx="201.7" cy="78.4" r="2.5"/><circle cx="218.5" cy="70.8" r="2.9"/><circle cx="207.1" cy="93.4" r="2.4"/><circle cx="198.9" cy="60.0" r="2.2"/><circle cx="197.1" cy="105.3" r="2.7"/><circle cx="192.5" cy="86.6" r="2.5"/><circle cx="224.2" cy="90.4" r="2.1"/><circle cx="202.2" cy="72.8" r="2.9"/><circle cx="199.3" cy="53.5" r="2.4"/><circle cx="211.5" cy="59.5" r="2.4"/><circle cx="202.6" cy="70.7" r="2.8"/><circle cx="206.9" cy="56.7" r="2.7"/><circle cx="218.4" cy="96.8" r="2.3"/><circle cx="221.9" cy="69.2" r="2.3"/><circle cx="209.9" cy="98.3" r="2.2"/><circle cx="201.9" cy="68.5" r="2.9"/><circle cx="201.1" cy="55.7" r="3.0"/><circle cx="203.8" cy="54.2" r="2.1"/><circle cx="202.2" cy="96.7" r="2.6"/><circle cx="205.9" cy="75.9" r="2.8"/><circle cx="218.1" cy="79.6" r="2.8"/><circle cx="197.1" cy="86.0" r="2.3"/><circle cx="211.4" cy="86.3" r="2.3"/><circle cx="206.6" cy="108.3" r="2.4"/><circle cx="213.6" cy="56.1" r="2.4"/><circle cx="196.3" cy="105.4" r="2.7"/><circle cx="208.3" cy="79.9" r="2.7"/><circle cx="200.0" cy="85.4" r="2.8"/><circle cx="217.9" cy="72.6" r="2.8"/><circle cx="220.3" cy="96.7" r="2.7"/><circle cx="205.5" cy="96.2" r="2.6"/><circle cx="195.2" cy="96.0" r="2.8"/><circle cx="221.6" cy="90.7" r="2.8"/><circle cx="192.1" cy="84.0" r="2.5"/></g>
<path d="M76.4,120.9 C77.4,119.9 80.0,117.7 82.2,116.5 C84.4,115.3 87.0,114.3 89.4,113.7 C91.8,113.1 94.4,112.6 96.6,112.9 C98.8,113.2 101.0,114.5 102.4,115.8 C103.9,117.1 104.7,118.9 105.3,120.9 C105.9,123.0 106.2,125.7 106.0,128.1 C105.8,130.5 103.8,133.1 103.8,135.3 C103.8,137.5 105.0,138.9 106.0,141.1 C107.0,143.3 108.3,145.7 109.6,148.3 C110.9,150.9 112.6,155.0 113.9,156.9 C115.2,158.8 116.8,158.4 117.6,159.8 C118.4,161.2 118.3,163.9 119.0,165.6 C119.7,167.3 120.7,167.7 121.5,170.0 C122.3,172.3 122.2,176.7 123.8,179.2 C125.3,181.7 128.9,182.9 130.8,185.0 C132.7,187.1 134.0,188.8 135.4,191.9 C136.8,195.0 138.8,199.8 139.4,203.5 C140.0,207.2 139.4,211.3 138.8,213.8 C138.2,216.3 135.9,217.1 136.0,218.5 C136.1,219.9 139.7,221.6 139.4,222.5 C139.1,223.4 135.2,222.2 134.2,224.2 C133.1,226.2 133.5,231.7 133.1,234.6 C132.7,237.5 132.7,239.8 131.9,241.5 C131.1,243.2 130.8,243.9 128.5,244.5 C126.2,245.1 120.5,244.8 118.0,245.0 C115.5,245.2 115.8,246.3 113.5,245.5 C111.2,244.7 105.9,241.8 104.2,240.4 C102.5,239.0 102.3,238.4 103.1,236.9 C103.9,235.4 106.7,233.3 108.8,231.2 C110.9,229.1 113.9,226.5 115.8,224.2 C117.7,221.9 118.9,219.4 120.4,217.3 C121.9,215.2 124.4,213.0 125.0,211.5 C125.6,210.0 125.3,209.8 123.8,208.1 C122.3,206.4 117.5,203.7 115.8,201.2 C114.1,198.7 114.8,195.3 113.5,193.0 C112.2,190.7 108.9,189.2 107.7,187.3 C106.5,185.4 107.4,183.9 106.5,181.5 C105.6,179.1 104.1,175.5 102.4,172.8 C100.8,170.2 98.3,167.3 96.6,165.6 C94.9,163.9 93.2,163.7 92.3,162.7 C91.3,161.7 90.9,161.5 90.9,159.8 C90.9,158.1 92.5,154.8 92.3,152.6 C92.0,150.4 90.6,148.7 89.4,146.8 C88.2,144.9 86.0,143.3 85.1,141.1 C84.1,138.9 84.4,136.0 83.7,133.8 C83.0,131.6 82.0,130.0 80.8,128.1 C79.6,126.2 77.1,123.5 76.4,122.3 C75.7,121.1 75.4,121.9 76.4,120.9Z" fill="#c4242a"/>
<g fill="url(#rA)" filter="url(#sb)"><circle cx="135.1" cy="198.5" r="2.7"/><circle cx="116.7" cy="239.9" r="2.3"/><circle cx="93.7" cy="135.1" r="2.0"/><circle cx="128.7" cy="228.5" r="2.3"/><circle cx="98.2" cy="153.2" r="2.3"/><circle cx="103.6" cy="139.0" r="2.2"/><circle cx="95.5" cy="148.2" r="2.2"/><circle cx="99.9" cy="163.8" r="2.6"/><circle cx="128.3" cy="192.8" r="2.5"/><circle cx="83.3" cy="127.1" r="2.5"/><circle cx="122.3" cy="181.8" r="2.1"/><circle cx="103.8" cy="129.2" r="2.1"/><circle cx="129.3" cy="236.0" r="2.5"/><circle cx="99.7" cy="158.8" r="2.6"/><circle cx="104.9" cy="159.9" r="2.5"/><circle cx="103.3" cy="161.1" r="2.6"/><circle cx="92.5" cy="144.4" r="2.7"/><circle cx="124.6" cy="229.1" r="2.3"/><circle cx="109.4" cy="149.5" r="1.9"/><circle cx="139.2" cy="203.9" r="2.1"/><circle cx="118.2" cy="192.4" r="2.4"/><circle cx="134.5" cy="213.3" r="2.3"/><circle cx="88.7" cy="119.2" r="2.7"/><circle cx="116.2" cy="228.0" r="2.2"/><circle cx="99.0" cy="145.3" r="2.4"/><circle cx="107.3" cy="182.9" r="2.3"/><circle cx="109.6" cy="165.2" r="2.3"/><circle cx="136.0" cy="206.0" r="2.2"/><circle cx="120.0" cy="180.1" r="2.4"/><circle cx="133.0" cy="234.2" r="2.2"/><circle cx="109.2" cy="155.6" r="2.7"/><circle cx="108.9" cy="156.3" r="2.1"/><circle cx="135.0" cy="196.0" r="2.0"/><circle cx="125.3" cy="183.8" r="2.5"/><circle cx="86.7" cy="140.7" r="2.3"/><circle cx="124.1" cy="225.3" r="2.3"/><circle cx="91.5" cy="135.7" r="2.2"/><circle cx="130.1" cy="210.2" r="2.4"/><circle cx="101.4" cy="134.2" r="2.6"/><circle cx="99.0" cy="157.0" r="2.3"/><circle cx="124.1" cy="191.0" r="2.3"/><circle cx="129.4" cy="213.2" r="2.8"/><circle cx="126.1" cy="200.6" r="2.4"/><circle cx="110.3" cy="188.3" r="2.2"/><circle cx="136.3" cy="216.1" r="2.2"/><circle cx="109.1" cy="231.7" r="2.0"/><circle cx="116.9" cy="191.3" r="2.5"/><circle cx="94.9" cy="142.6" r="2.4"/><circle cx="128.0" cy="239.0" r="2.2"/><circle cx="94.4" cy="119.0" r="2.4"/><circle cx="118.2" cy="197.6" r="2.4"/><circle cx="79.7" cy="119.5" r="1.7"/><circle cx="125.0" cy="221.6" r="2.1"/><circle cx="108.8" cy="179.0" r="2.4"/><circle cx="111.7" cy="158.6" r="2.2"/><circle cx="107.2" cy="176.3" r="2.4"/><circle cx="109.5" cy="234.1" r="2.5"/><circle cx="106.6" cy="166.1" r="2.6"/><circle cx="93.0" cy="125.9" r="2.2"/><circle cx="99.8" cy="132.4" r="2.2"/><circle cx="90.2" cy="146.9" r="2.3"/><circle cx="114.8" cy="187.9" r="2.6"/><circle cx="94.7" cy="151.7" r="2.4"/><circle cx="118.4" cy="241.3" r="2.5"/><circle cx="78.6" cy="123.6" r="1.8"/><circle cx="121.9" cy="172.8" r="1.7"/><circle cx="133.1" cy="194.6" r="2.7"/><circle cx="107.7" cy="180.4" r="2.8"/><circle cx="112.6" cy="180.4" r="2.3"/><circle cx="121.7" cy="187.6" r="2.5"/><circle cx="134.9" cy="214.9" r="2.7"/><circle cx="95.1" cy="126.8" r="2.8"/><circle cx="109.5" cy="170.2" r="2.8"/><circle cx="125.1" cy="206.7" r="2.3"/><circle cx="118.5" cy="190.3" r="2.3"/><circle cx="115.0" cy="176.6" r="2.5"/><circle cx="85.1" cy="133.4" r="2.4"/><circle cx="112.7" cy="183.8" r="2.5"/><circle cx="106.1" cy="161.5" r="2.5"/><circle cx="120.3" cy="219.8" r="2.6"/><circle cx="101.3" cy="154.9" r="2.5"/><circle cx="137.6" cy="203.6" r="2.1"/><circle cx="101.1" cy="143.0" r="2.1"/><circle cx="123.0" cy="217.9" r="2.4"/><circle cx="107.3" cy="146.3" r="2.0"/><circle cx="99.9" cy="126.1" r="2.3"/><circle cx="133.4" cy="207.2" r="2.3"/><circle cx="126.6" cy="211.4" r="2.2"/><circle cx="94.8" cy="114.0" r="1.7"/><circle cx="106.3" cy="143.4" r="2.4"/><circle cx="90.0" cy="114.9" r="2.2"/><circle cx="124.7" cy="223.3" r="2.6"/><circle cx="101.2" cy="123.2" r="2.5"/><circle cx="113.6" cy="159.7" r="2.1"/><circle cx="102.5" cy="122.4" r="2.1"/><circle cx="107.1" cy="238.9" r="2.7"/><circle cx="96.3" cy="157.9" r="2.2"/><circle cx="126.5" cy="186.6" r="2.5"/><circle cx="101.3" cy="141.0" r="2.8"/><circle cx="96.9" cy="136.1" r="2.6"/><circle cx="87.0" cy="125.8" r="2.7"/><circle cx="135.9" cy="221.9" r="2.1"/><circle cx="100.1" cy="150.3" r="2.3"/><circle cx="122.4" cy="185.8" r="2.2"/><circle cx="117.0" cy="187.4" r="2.6"/><circle cx="113.9" cy="226.9" r="1.9"/><circle cx="137.8" cy="201.5" r="2.1"/><circle cx="125.5" cy="197.0" r="2.2"/><circle cx="102.9" cy="125.8" r="2.3"/><circle cx="114.2" cy="238.0" r="2.1"/><circle cx="113.2" cy="162.6" r="2.8"/><circle cx="106.4" cy="176.7" r="2.6"/><circle cx="128.3" cy="196.2" r="2.4"/><circle cx="124.1" cy="212.9" r="1.7"/><circle cx="124.1" cy="228.1" r="2.2"/><circle cx="83.4" cy="128.0" r="2.0"/><circle cx="91.0" cy="159.5" r="2.1"/><circle cx="113.8" cy="170.2" r="2.5"/><circle cx="97.2" cy="163.5" r="2.4"/><circle cx="122.6" cy="206.3" r="2.0"/><circle cx="113.0" cy="190.1" r="2.8"/><circle cx="108.9" cy="185.8" r="2.4"/><circle cx="87.0" cy="132.2" r="2.1"/><circle cx="121.2" cy="193.8" r="2.2"/><circle cx="120.5" cy="222.9" r="2.6"/><circle cx="81.6" cy="118.9" r="2.6"/><circle cx="105.7" cy="151.3" r="2.6"/><circle cx="121.4" cy="198.6" r="2.6"/><circle cx="120.2" cy="195.7" r="2.1"/><circle cx="112.4" cy="241.9" r="2.7"/><circle cx="133.2" cy="227.0" r="1.9"/><circle cx="86.3" cy="119.8" r="2.3"/><circle cx="106.3" cy="171.8" r="2.6"/><circle cx="128.2" cy="214.1" r="2.5"/><circle cx="112.1" cy="232.3" r="2.1"/><circle cx="133.8" cy="217.4" r="2.4"/><circle cx="96.8" cy="136.3" r="2.7"/><circle cx="133.4" cy="230.6" r="2.1"/><circle cx="92.8" cy="133.1" r="2.5"/><circle cx="84.4" cy="116.9" r="2.2"/><circle cx="134.1" cy="210.9" r="2.1"/><circle cx="108.0" cy="156.6" r="2.5"/><circle cx="88.1" cy="123.9" r="2.3"/><circle cx="116.2" cy="169.3" r="2.1"/><circle cx="104.3" cy="163.5" r="2.4"/><circle cx="105.7" cy="155.6" r="2.6"/><circle cx="94.3" cy="156.1" r="2.0"/><circle cx="108.7" cy="158.9" r="2.7"/><circle cx="120.4" cy="217.5" r="2.2"/><circle cx="110.7" cy="152.6" r="1.9"/><circle cx="112.9" cy="169.0" r="2.4"/><circle cx="115.4" cy="182.3" r="2.2"/><circle cx="98.3" cy="120.1" r="2.4"/><circle cx="85.2" cy="125.0" r="2.5"/><circle cx="113.0" cy="228.4" r="2.1"/><circle cx="129.9" cy="199.9" r="2.7"/><circle cx="129.4" cy="218.0" r="2.6"/><circle cx="97.5" cy="123.5" r="2.1"/><circle cx="116.6" cy="236.1" r="2.0"/><circle cx="98.4" cy="147.3" r="2.0"/><circle cx="92.9" cy="161.7" r="1.9"/><circle cx="90.4" cy="140.9" r="2.8"/><circle cx="114.4" cy="174.7" r="2.7"/><circle cx="117.2" cy="196.5" r="2.6"/><circle cx="98.3" cy="148.1" r="2.3"/><circle cx="129.9" cy="237.0" r="2.2"/><circle cx="120.7" cy="242.7" r="2.2"/><circle cx="105.5" cy="240.0" r="1.7"/><circle cx="87.4" cy="136.6" r="2.2"/><circle cx="119.3" cy="200.7" r="2.7"/><circle cx="91.2" cy="116.7" r="2.3"/><circle cx="96.3" cy="165.1" r="2.0"/><circle cx="133.2" cy="189.6" r="2.2"/><circle cx="131.2" cy="200.5" r="2.5"/><circle cx="124.8" cy="215.1" r="2.6"/><circle cx="102.8" cy="150.1" r="2.2"/><circle cx="103.8" cy="157.3" r="2.6"/><circle cx="129.0" cy="206.7" r="2.1"/><circle cx="118.8" cy="181.6" r="2.7"/><circle cx="98.4" cy="165.0" r="2.5"/><circle cx="92.0" cy="123.5" r="2.7"/><circle cx="126.0" cy="240.2" r="2.2"/><circle cx="101.7" cy="164.3" r="2.4"/><circle cx="125.3" cy="234.4" r="2.3"/><circle cx="103.8" cy="125.5" r="2.4"/><circle cx="110.3" cy="238.4" r="2.6"/><circle cx="89.5" cy="133.2" r="2.2"/><circle cx="96.7" cy="159.2" r="2.7"/><circle cx="100.7" cy="115.2" r="1.9"/><circle cx="119.4" cy="233.6" r="2.4"/><circle cx="110.7" cy="163.8" r="2.7"/><circle cx="123.8" cy="233.7" r="2.6"/><circle cx="94.3" cy="132.4" r="2.2"/><circle cx="127.2" cy="231.0" r="2.6"/><circle cx="103.1" cy="132.3" r="2.3"/><circle cx="129.8" cy="190.0" r="2.3"/><circle cx="118.5" cy="229.1" r="2.3"/><circle cx="128.0" cy="240.8" r="2.5"/><circle cx="125.1" cy="203.4" r="2.5"/><circle cx="106.1" cy="174.6" r="2.1"/><circle cx="104.8" cy="149.1" r="2.3"/><circle cx="94.9" cy="145.0" r="2.7"/><circle cx="125.2" cy="188.7" r="2.4"/><circle cx="133.0" cy="204.1" r="2.6"/><circle cx="117.6" cy="178.1" r="2.4"/><circle cx="80.5" cy="124.6" r="2.3"/><circle cx="123.6" cy="232.6" r="2.3"/><circle cx="110.5" cy="174.9" r="2.6"/><circle cx="118.8" cy="184.1" r="2.1"/><circle cx="138.4" cy="207.1" r="2.3"/><circle cx="120.0" cy="203.4" r="2.1"/><circle cx="131.3" cy="220.6" r="2.3"/><circle cx="128.2" cy="220.3" r="2.4"/><circle cx="124.4" cy="237.4" r="2.4"/><circle cx="124.9" cy="199.0" r="2.7"/><circle cx="126.6" cy="197.9" r="2.2"/><circle cx="123.5" cy="223.2" r="2.7"/><circle cx="103.4" cy="167.5" r="2.1"/><circle cx="77.5" cy="121.6" r="2.0"/><circle cx="82.5" cy="128.5" r="2.4"/><circle cx="136.5" cy="211.3" r="2.5"/><circle cx="93.1" cy="139.9" r="2.8"/><circle cx="134.0" cy="193.1" r="2.6"/><circle cx="111.8" cy="177.5" r="2.4"/><circle cx="129.0" cy="204.1" r="2.8"/><circle cx="100.6" cy="129.7" r="2.6"/><circle cx="112.9" cy="182.8" r="2.2"/><circle cx="112.4" cy="164.2" r="2.6"/><circle cx="83.1" cy="120.8" r="2.7"/><circle cx="133.3" cy="211.8" r="2.4"/><circle cx="126.0" cy="191.6" r="2.4"/><circle cx="101.2" cy="148.6" r="2.2"/><circle cx="117.0" cy="170.7" r="2.3"/><circle cx="90.0" cy="120.9" r="2.0"/><circle cx="92.2" cy="128.6" r="2.7"/><circle cx="96.4" cy="154.2" r="2.6"/><circle cx="97.9" cy="138.2" r="2.0"/><circle cx="123.9" cy="243.3" r="2.7"/><circle cx="128.4" cy="209.0" r="2.6"/><circle cx="87.1" cy="128.1" r="2.0"/><circle cx="93.4" cy="121.8" r="2.1"/><circle cx="103.4" cy="144.7" r="2.5"/><circle cx="119.4" cy="174.4" r="2.6"/><circle cx="88.2" cy="142.7" r="2.5"/><circle cx="138.9" cy="222.6" r="2.3"/><circle cx="102.8" cy="136.6" r="2.2"/><circle cx="103.9" cy="137.0" r="1.9"/><circle cx="117.7" cy="243.3" r="2.5"/><circle cx="126.8" cy="227.7" r="2.7"/><circle cx="110.7" cy="169.8" r="2.4"/><circle cx="122.2" cy="176.1" r="2.2"/><circle cx="119.9" cy="225.5" r="2.4"/><circle cx="123.6" cy="197.1" r="2.4"/><circle cx="107.0" cy="167.0" r="2.7"/><circle cx="95.7" cy="120.5" r="2.6"/><circle cx="120.8" cy="232.4" r="2.6"/><circle cx="119.1" cy="236.1" r="2.5"/><circle cx="131.3" cy="187.5" r="2.2"/><circle cx="116.9" cy="223.4" r="2.3"/><circle cx="135.1" cy="223.7" r="2.2"/><circle cx="133.1" cy="225.1" r="2.3"/><circle cx="130.5" cy="193.7" r="2.8"/><circle cx="130.3" cy="232.4" r="2.4"/><circle cx="130.1" cy="225.1" r="2.4"/><circle cx="113.8" cy="165.7" r="2.4"/><circle cx="104.3" cy="237.9" r="2.2"/><circle cx="97.6" cy="118.6" r="2.2"/><circle cx="135.6" cy="201.0" r="2.4"/><circle cx="91.3" cy="150.0" r="1.9"/><circle cx="123.6" cy="194.3" r="2.5"/><circle cx="93.4" cy="124.7" r="2.6"/><circle cx="109.6" cy="241.2" r="2.4"/><circle cx="90.3" cy="118.5" r="2.6"/><circle cx="125.4" cy="218.3" r="2.7"/><circle cx="115.3" cy="231.2" r="2.7"/><circle cx="130.1" cy="203.9" r="2.1"/><circle cx="100.1" cy="166.9" r="2.5"/><circle cx="123.3" cy="241.0" r="2.4"/><circle cx="118.2" cy="176.2" r="2.2"/><circle cx="91.8" cy="137.7" r="2.5"/><circle cx="101.6" cy="119.4" r="2.1"/><circle cx="109.4" cy="169.3" r="2.1"/><circle cx="125.3" cy="181.1" r="1.8"/><circle cx="92.9" cy="149.3" r="2.8"/><circle cx="115.6" cy="184.5" r="2.4"/><circle cx="112.3" cy="243.7" r="2.2"/><circle cx="96.4" cy="139.0" r="2.2"/><circle cx="113.0" cy="236.3" r="2.4"/><circle cx="103.3" cy="119.7" r="2.1"/><circle cx="121.2" cy="237.3" r="2.5"/><circle cx="108.4" cy="186.7" r="1.7"/><circle cx="115.1" cy="173.8" r="2.2"/><circle cx="97.8" cy="115.8" r="2.1"/><circle cx="129.4" cy="215.5" r="2.7"/><circle cx="98.5" cy="151.3" r="2.6"/><circle cx="98.5" cy="130.3" r="2.6"/><circle cx="86.6" cy="134.4" r="2.7"/><circle cx="135.0" cy="221.5" r="2.7"/><circle cx="122.9" cy="201.1" r="2.8"/><circle cx="112.3" cy="153.8" r="2.0"/><circle cx="131.9" cy="227.8" r="2.4"/><circle cx="107.1" cy="233.7" r="2.0"/><circle cx="115.2" cy="162.2" r="2.4"/><circle cx="117.8" cy="238.9" r="2.3"/><circle cx="98.9" cy="142.7" r="2.7"/><circle cx="88.9" cy="126.7" r="2.7"/><circle cx="126.7" cy="244.2" r="2.2"/><circle cx="128.5" cy="202.6" r="2.6"/><circle cx="90.2" cy="136.4" r="2.8"/><circle cx="113.4" cy="242.2" r="2.3"/><circle cx="116.7" cy="225.9" r="2.3"/><circle cx="94.6" cy="129.9" r="2.5"/></g>
<path d="M180.4,119.4 C180.5,117.2 181.6,116.2 183.3,115.1 C185.0,114.0 187.6,112.9 190.5,112.9 C193.4,112.9 197.5,114.0 200.6,115.1 C203.7,116.2 208.0,117.7 209.2,119.4 C210.4,121.1 208.8,123.5 207.8,125.2 C206.9,126.9 204.5,127.1 203.5,129.5 C202.5,131.9 203.2,136.9 202.0,139.6 C200.8,142.2 197.7,143.2 196.3,145.4 C194.9,147.6 193.4,150.2 193.4,152.6 C193.4,155.0 196.6,157.6 196.3,159.8 C196.1,162.0 193.8,163.7 191.9,165.6 C190.0,167.5 186.8,168.7 185.0,171.0 C183.2,173.3 182.2,176.5 181.2,179.2 C180.2,181.9 180.2,185.0 178.8,187.3 C177.5,189.6 174.6,191.0 173.1,193.1 C171.6,195.2 171.3,197.5 169.6,200.0 C167.9,202.5 164.2,206.2 162.7,208.1 C161.2,210.0 160.0,210.2 160.4,211.5 C160.8,212.8 163.5,214.5 165.0,216.2 C166.5,217.9 167.9,219.8 169.6,221.9 C171.3,224.0 173.9,226.7 175.4,228.8 C176.9,230.9 177.5,233.1 178.8,234.6 C180.2,236.1 183.3,236.6 183.5,238.1 C183.7,239.6 181.7,242.3 180.0,243.8 C178.3,245.3 176.2,246.9 173.1,247.3 C170.0,247.7 164.2,246.8 161.5,246.2 C158.8,245.6 158.1,245.4 156.9,243.8 C155.8,242.2 155.4,239.0 154.6,236.9 C153.8,234.8 152.7,233.1 152.3,231.2 C151.9,229.3 153.3,226.9 152.3,225.4 C151.3,223.9 147.3,223.4 146.5,221.9 C145.7,220.4 147.7,219.5 147.7,216.2 C147.7,212.9 145.9,205.6 146.5,202.3 C147.1,199.0 150.4,198.8 151.2,196.5 C152.0,194.2 149.9,191.0 151.2,188.5 C152.5,186.0 157.2,183.4 159.2,181.5 C161.2,179.6 162.0,179.0 163.1,177.1 C164.2,175.2 165.3,172.3 166.0,169.9 C166.7,167.5 166.7,164.9 167.4,162.7 C168.1,160.5 169.1,159.3 170.3,156.9 C171.5,154.5 172.9,150.9 174.6,148.3 C176.3,145.7 178.9,143.5 180.4,141.1 C181.9,138.7 183.0,136.0 183.3,133.8 C183.7,131.6 183.0,130.5 182.5,128.1 C182.0,125.7 180.3,121.6 180.4,119.4Z" fill="#c4242a"/>
<g fill="url(#rA)" filter="url(#sb)"><circle cx="178.7" cy="159.1" r="2.4"/><circle cx="154.8" cy="232.8" r="2.8"/><circle cx="183.8" cy="170.1" r="2.6"/><circle cx="166.9" cy="170.4" r="2.3"/><circle cx="163.7" cy="217.5" r="2.3"/><circle cx="173.7" cy="184.4" r="2.4"/><circle cx="184.7" cy="146.8" r="2.7"/><circle cx="197.3" cy="137.9" r="2.6"/><circle cx="183.7" cy="127.4" r="2.6"/><circle cx="194.9" cy="144.7" r="2.3"/><circle cx="186.2" cy="115.6" r="2.6"/><circle cx="173.8" cy="229.6" r="2.5"/><circle cx="175.3" cy="166.5" r="2.4"/><circle cx="158.1" cy="242.1" r="2.8"/><circle cx="158.1" cy="199.6" r="2.5"/><circle cx="155.1" cy="191.8" r="2.5"/><circle cx="167.1" cy="175.1" r="2.1"/><circle cx="162.3" cy="234.5" r="2.4"/><circle cx="152.4" cy="201.5" r="2.3"/><circle cx="168.1" cy="194.4" r="2.1"/><circle cx="191.6" cy="139.4" r="2.2"/><circle cx="173.8" cy="239.2" r="2.5"/><circle cx="162.6" cy="199.6" r="2.7"/><circle cx="181.6" cy="176.6" r="1.7"/><circle cx="192.3" cy="132.0" r="2.5"/><circle cx="168.1" cy="179.9" r="2.7"/><circle cx="168.1" cy="181.5" r="2.7"/><circle cx="171.0" cy="235.3" r="2.3"/><circle cx="188.5" cy="132.8" r="2.3"/><circle cx="163.4" cy="189.2" r="2.1"/><circle cx="156.8" cy="237.3" r="2.1"/><circle cx="190.6" cy="145.5" r="2.5"/><circle cx="181.8" cy="152.9" r="2.3"/><circle cx="160.8" cy="183.7" r="2.7"/><circle cx="172.0" cy="238.2" r="2.4"/><circle cx="181.3" cy="149.8" r="2.2"/><circle cx="157.7" cy="228.5" r="2.4"/><circle cx="163.6" cy="185.4" r="2.4"/><circle cx="192.6" cy="136.1" r="2.3"/><circle cx="173.9" cy="177.3" r="2.1"/><circle cx="171.0" cy="188.4" r="2.6"/><circle cx="170.7" cy="161.8" r="2.4"/><circle cx="167.7" cy="169.2" r="2.5"/><circle cx="195.6" cy="134.7" r="2.2"/><circle cx="200.6" cy="118.1" r="2.4"/><circle cx="159.2" cy="187.1" r="2.5"/><circle cx="190.6" cy="152.1" r="2.7"/><circle cx="158.5" cy="210.3" r="2.3"/><circle cx="157.0" cy="226.8" r="2.2"/><circle cx="187.1" cy="146.4" r="2.4"/><circle cx="156.5" cy="223.9" r="2.2"/><circle cx="157.2" cy="184.0" r="2.2"/><circle cx="190.9" cy="113.8" r="1.9"/><circle cx="154.7" cy="228.5" r="2.4"/><circle cx="192.3" cy="114.7" r="2.4"/><circle cx="174.9" cy="237.5" r="2.0"/><circle cx="173.4" cy="170.9" r="2.4"/><circle cx="172.3" cy="157.8" r="2.3"/><circle cx="158.9" cy="239.1" r="2.0"/><circle cx="165.4" cy="245.6" r="1.8"/><circle cx="153.5" cy="222.7" r="2.4"/><circle cx="192.8" cy="156.4" r="2.5"/><circle cx="201.5" cy="119.0" r="2.7"/><circle cx="184.4" cy="156.0" r="2.6"/><circle cx="152.2" cy="214.1" r="2.5"/><circle cx="207.8" cy="124.4" r="1.9"/><circle cx="151.3" cy="208.0" r="2.1"/><circle cx="191.5" cy="123.7" r="2.2"/><circle cx="188.0" cy="144.2" r="2.3"/><circle cx="166.8" cy="236.8" r="2.1"/><circle cx="192.3" cy="136.7" r="2.0"/><circle cx="201.4" cy="128.4" r="2.3"/><circle cx="151.4" cy="223.2" r="2.2"/><circle cx="164.2" cy="234.4" r="2.4"/><circle cx="155.9" cy="203.2" r="2.2"/><circle cx="171.5" cy="191.3" r="2.2"/><circle cx="161.7" cy="192.4" r="2.5"/><circle cx="147.4" cy="202.1" r="2.1"/><circle cx="162.8" cy="182.2" r="2.1"/><circle cx="169.5" cy="200.1" r="2.2"/><circle cx="174.9" cy="150.7" r="2.6"/><circle cx="185.5" cy="158.4" r="2.6"/><circle cx="147.6" cy="218.7" r="2.1"/><circle cx="182.6" cy="118.5" r="2.4"/><circle cx="193.4" cy="146.0" r="2.2"/><circle cx="193.2" cy="159.5" r="2.3"/><circle cx="194.0" cy="161.7" r="1.8"/><circle cx="166.0" cy="177.3" r="2.4"/><circle cx="169.4" cy="175.3" r="2.2"/><circle cx="163.0" cy="204.9" r="2.4"/><circle cx="181.1" cy="174.2" r="2.3"/><circle cx="163.8" cy="177.9" r="2.0"/><circle cx="188.9" cy="156.8" r="2.2"/><circle cx="187.2" cy="133.8" r="2.2"/><circle cx="170.9" cy="182.2" r="2.2"/><circle cx="177.4" cy="179.8" r="2.7"/><circle cx="199.6" cy="133.1" r="2.4"/><circle cx="187.0" cy="115.1" r="1.8"/><circle cx="169.7" cy="240.0" r="2.7"/><circle cx="150.5" cy="198.7" r="2.3"/><circle cx="175.2" cy="187.0" r="2.1"/><circle cx="195.9" cy="116.3" r="2.8"/><circle cx="196.5" cy="130.6" r="2.2"/><circle cx="154.0" cy="221.4" r="2.7"/><circle cx="152.7" cy="199.0" r="2.8"/><circle cx="201.9" cy="123.9" r="2.4"/><circle cx="185.6" cy="169.4" r="2.2"/><circle cx="196.6" cy="139.7" r="2.1"/><circle cx="183.3" cy="123.0" r="2.4"/><circle cx="204.9" cy="126.9" r="1.7"/><circle cx="149.2" cy="205.6" r="2.4"/><circle cx="189.3" cy="118.5" r="2.6"/><circle cx="155.4" cy="235.2" r="2.2"/><circle cx="199.7" cy="125.6" r="2.7"/><circle cx="161.7" cy="223.2" r="2.7"/><circle cx="167.2" cy="200.5" r="2.4"/><circle cx="157.6" cy="189.1" r="2.1"/><circle cx="179.8" cy="238.4" r="2.1"/><circle cx="178.4" cy="176.3" r="2.6"/><circle cx="179.2" cy="243.5" r="2.1"/><circle cx="197.6" cy="115.2" r="2.2"/><circle cx="188.5" cy="165.8" r="2.1"/><circle cx="171.0" cy="180.1" r="2.7"/><circle cx="169.9" cy="184.2" r="2.7"/><circle cx="165.5" cy="181.9" r="2.7"/><circle cx="165.3" cy="203.3" r="2.0"/><circle cx="190.3" cy="165.4" r="2.2"/><circle cx="163.3" cy="229.8" r="2.4"/><circle cx="159.7" cy="195.6" r="2.6"/><circle cx="164.7" cy="198.7" r="2.5"/><circle cx="182.8" cy="129.5" r="2.0"/><circle cx="155.5" cy="212.1" r="2.5"/><circle cx="175.5" cy="161.2" r="2.2"/><circle cx="170.9" cy="174.5" r="2.6"/><circle cx="169.8" cy="195.9" r="2.4"/><circle cx="194.6" cy="137.5" r="2.5"/><circle cx="171.5" cy="163.9" r="2.6"/><circle cx="173.1" cy="175.5" r="2.0"/><circle cx="160.4" cy="208.4" r="2.7"/><circle cx="194.7" cy="142.7" r="2.6"/><circle cx="176.5" cy="171.2" r="2.4"/><circle cx="154.1" cy="186.1" r="1.8"/><circle cx="196.7" cy="126.7" r="2.6"/><circle cx="196.4" cy="128.5" r="2.4"/><circle cx="176.6" cy="167.7" r="2.1"/><circle cx="172.4" cy="193.8" r="2.2"/><circle cx="152.5" cy="194.6" r="2.4"/><circle cx="149.4" cy="209.3" r="2.6"/><circle cx="167.8" cy="166.1" r="1.9"/><circle cx="194.8" cy="119.7" r="2.4"/><circle cx="180.8" cy="140.5" r="2.0"/><circle cx="147.9" cy="208.3" r="2.3"/><circle cx="180.7" cy="179.1" r="1.8"/><circle cx="174.1" cy="245.2" r="2.4"/><circle cx="188.3" cy="134.0" r="2.1"/><circle cx="201.8" cy="135.3" r="2.3"/><circle cx="187.9" cy="159.8" r="2.5"/><circle cx="165.6" cy="220.2" r="2.8"/><circle cx="153.9" cy="194.7" r="2.2"/><circle cx="170.4" cy="224.0" r="1.9"/><circle cx="204.5" cy="120.5" r="2.1"/><circle cx="152.9" cy="209.0" r="2.7"/><circle cx="168.5" cy="223.8" r="2.7"/><circle cx="160.7" cy="204.7" r="2.4"/><circle cx="198.6" cy="122.6" r="2.8"/><circle cx="166.5" cy="188.9" r="2.8"/><circle cx="176.6" cy="235.9" r="2.2"/><circle cx="160.1" cy="221.7" r="2.4"/><circle cx="168.7" cy="191.1" r="2.7"/><circle cx="161.9" cy="229.8" r="2.3"/><circle cx="189.2" cy="147.7" r="2.5"/><circle cx="164.5" cy="194.6" r="2.2"/><circle cx="198.6" cy="129.9" r="2.4"/><circle cx="160.4" cy="214.1" r="2.5"/><circle cx="169.9" cy="227.1" r="2.7"/><circle cx="175.8" cy="182.4" r="2.1"/><circle cx="180.0" cy="240.9" r="2.5"/><circle cx="171.0" cy="232.7" r="2.3"/><circle cx="177.9" cy="174.2" r="2.3"/><circle cx="187.2" cy="152.1" r="2.7"/><circle cx="158.8" cy="206.6" r="2.8"/><circle cx="161.9" cy="245.2" r="2.0"/><circle cx="163.0" cy="243.5" r="2.6"/><circle cx="201.8" cy="120.6" r="2.7"/><circle cx="179.8" cy="158.5" r="2.6"/><circle cx="169.2" cy="169.5" r="2.3"/><circle cx="184.5" cy="164.2" r="2.3"/><circle cx="182.3" cy="151.8" r="2.1"/><circle cx="192.1" cy="147.9" r="2.1"/><circle cx="177.9" cy="151.4" r="2.1"/><circle cx="172.8" cy="227.3" r="1.9"/><circle cx="155.9" cy="191.3" r="2.2"/><circle cx="193.8" cy="117.6" r="2.7"/><circle cx="160.2" cy="181.9" r="2.3"/><circle cx="197.2" cy="121.1" r="2.8"/><circle cx="148.9" cy="216.0" r="2.2"/><circle cx="190.5" cy="142.5" r="2.2"/><circle cx="207.6" cy="121.0" r="2.4"/><circle cx="160.1" cy="232.8" r="2.4"/><circle cx="184.1" cy="154.7" r="2.1"/><circle cx="186.3" cy="158.4" r="2.8"/><circle cx="197.2" cy="118.6" r="2.8"/><circle cx="148.5" cy="212.1" r="2.3"/><circle cx="156.7" cy="220.7" r="2.1"/><circle cx="160.1" cy="241.6" r="2.5"/><circle cx="175.9" cy="163.9" r="2.2"/><circle cx="180.8" cy="238.6" r="2.4"/><circle cx="158.8" cy="235.0" r="2.5"/><circle cx="168.6" cy="244.7" r="2.8"/><circle cx="178.0" cy="158.0" r="2.7"/><circle cx="184.4" cy="166.9" r="2.2"/><circle cx="186.1" cy="119.4" r="2.3"/><circle cx="175.2" cy="231.4" r="2.6"/><circle cx="166.8" cy="243.7" r="2.3"/><circle cx="162.9" cy="233.4" r="2.4"/><circle cx="153.8" cy="201.2" r="2.0"/><circle cx="156.9" cy="215.7" r="2.8"/><circle cx="152.7" cy="217.8" r="2.3"/><circle cx="201.2" cy="139.3" r="1.9"/><circle cx="156.4" cy="188.7" r="2.1"/><circle cx="184.6" cy="130.9" r="2.7"/><circle cx="164.5" cy="231.2" r="2.8"/><circle cx="185.4" cy="124.0" r="2.4"/><circle cx="179.5" cy="163.4" r="2.6"/><circle cx="181.6" cy="171.7" r="2.5"/><circle cx="194.6" cy="126.4" r="2.3"/><circle cx="162.7" cy="214.9" r="1.9"/><circle cx="177.9" cy="185.1" r="2.4"/><circle cx="162.2" cy="218.3" r="2.6"/><circle cx="172.4" cy="161.4" r="2.3"/><circle cx="178.8" cy="168.8" r="2.3"/><circle cx="165.9" cy="192.6" r="2.6"/><circle cx="186.3" cy="141.8" r="2.5"/><circle cx="182.6" cy="142.9" r="2.0"/><circle cx="155.8" cy="208.2" r="2.4"/><circle cx="169.0" cy="169.9" r="2.0"/><circle cx="154.3" cy="233.4" r="2.1"/><circle cx="158.7" cy="217.3" r="2.2"/><circle cx="186.2" cy="163.0" r="2.2"/><circle cx="161.4" cy="188.8" r="2.3"/><circle cx="161.5" cy="227.3" r="2.2"/><circle cx="187.2" cy="140.9" r="2.2"/><circle cx="192.1" cy="158.5" r="2.4"/><circle cx="168.6" cy="188.7" r="2.8"/><circle cx="184.3" cy="148.0" r="2.5"/><circle cx="167.5" cy="237.3" r="2.6"/><circle cx="184.2" cy="140.8" r="2.8"/><circle cx="163.4" cy="201.0" r="2.5"/><circle cx="187.4" cy="118.5" r="2.6"/><circle cx="153.4" cy="218.8" r="2.1"/><circle cx="177.9" cy="171.7" r="2.2"/><circle cx="190.6" cy="140.0" r="2.1"/><circle cx="197.4" cy="124.4" r="2.2"/><circle cx="180.0" cy="146.5" r="2.3"/><circle cx="151.4" cy="189.1" r="1.9"/><circle cx="205.6" cy="118.6" r="2.2"/><circle cx="155.6" cy="199.4" r="2.8"/><circle cx="192.9" cy="130.4" r="2.4"/><circle cx="182.0" cy="121.1" r="2.2"/><circle cx="183.7" cy="137.0" r="2.1"/><circle cx="197.0" cy="142.7" r="2.2"/><circle cx="188.2" cy="138.8" r="2.5"/><circle cx="170.1" cy="246.6" r="2.3"/><circle cx="157.7" cy="241.9" r="2.1"/><circle cx="200.1" cy="140.5" r="1.7"/><circle cx="187.9" cy="125.8" r="2.6"/><circle cx="158.5" cy="216.2" r="2.3"/><circle cx="174.9" cy="180.1" r="2.3"/><circle cx="177.5" cy="164.6" r="2.2"/><circle cx="178.3" cy="240.9" r="2.4"/><circle cx="174.1" cy="168.8" r="2.2"/><circle cx="161.7" cy="202.8" r="2.3"/><circle cx="172.3" cy="175.0" r="2.2"/><circle cx="150.8" cy="222.0" r="2.0"/><circle cx="168.6" cy="235.5" r="2.2"/><circle cx="190.3" cy="128.2" r="2.5"/><circle cx="156.7" cy="195.7" r="2.7"/><circle cx="153.9" cy="194.1" r="2.2"/><circle cx="206.1" cy="123.9" r="2.6"/><circle cx="167.6" cy="241.3" r="2.4"/><circle cx="169.5" cy="233.4" r="2.1"/><circle cx="192.5" cy="125.4" r="2.4"/><circle cx="171.7" cy="159.4" r="2.4"/><circle cx="158.5" cy="191.8" r="2.2"/><circle cx="147.8" cy="211.2" r="1.9"/><circle cx="175.9" cy="155.1" r="2.5"/><circle cx="156.6" cy="200.6" r="2.3"/><circle cx="170.9" cy="230.5" r="2.3"/><circle cx="172.7" cy="189.8" r="2.1"/><circle cx="164.9" cy="242.0" r="2.6"/><circle cx="187.4" cy="153.1" r="2.4"/><circle cx="179.2" cy="150.5" r="2.1"/><circle cx="183.0" cy="164.5" r="2.1"/><circle cx="177.9" cy="153.8" r="2.7"/><circle cx="189.0" cy="163.7" r="2.4"/><circle cx="174.2" cy="234.6" r="2.6"/><circle cx="168.4" cy="183.6" r="2.2"/><circle cx="202.1" cy="137.0" r="2.0"/><circle cx="152.3" cy="205.2" r="2.2"/><circle cx="166.7" cy="197.1" r="2.4"/><circle cx="187.8" cy="128.8" r="2.0"/><circle cx="151.6" cy="213.3" r="2.1"/><circle cx="171.1" cy="244.2" r="2.5"/><circle cx="187.5" cy="120.6" r="2.1"/><circle cx="192.7" cy="154.4" r="2.3"/><circle cx="192.3" cy="120.5" r="2.0"/><circle cx="200.0" cy="135.4" r="2.1"/><circle cx="152.9" cy="188.7" r="2.3"/><circle cx="182.6" cy="163.5" r="2.5"/><circle cx="161.8" cy="220.7" r="2.7"/><circle cx="157.3" cy="208.6" r="2.4"/><circle cx="161.9" cy="237.2" r="2.4"/><circle cx="165.4" cy="225.1" r="2.2"/><circle cx="189.1" cy="124.4" r="2.7"/><circle cx="174.8" cy="243.9" r="2.2"/><circle cx="158.1" cy="225.9" r="2.1"/><circle cx="170.9" cy="157.4" r="1.7"/><circle cx="164.7" cy="227.0" r="2.1"/><circle cx="179.0" cy="148.8" r="2.6"/><circle cx="158.4" cy="212.2" r="2.2"/><circle cx="166.7" cy="229.3" r="2.3"/><circle cx="194.7" cy="132.7" r="2.3"/><circle cx="182.4" cy="158.8" r="2.4"/><circle cx="179.2" cy="181.8" r="2.3"/><circle cx="160.0" cy="191.8" r="2.2"/></g>
<rect x="133.5" y="219.4" width="20.5" height="1.7" fill="#fff" opacity="0.9"/>
<path d="M392.5,79.0 C390.9,82.5 392.1,90.5 390.6,92.9 C389.1,95.4 385.7,92.8 383.7,93.7 C381.7,94.6 380.2,96.8 378.5,98.1 C376.8,99.4 374.8,99.8 373.3,101.5 C371.9,103.2 371.0,106.2 369.8,108.5 C368.6,110.8 367.2,113.1 366.3,115.4 C365.4,117.7 364.8,119.7 364.6,122.3 C364.4,124.9 365.9,128.6 365.0,130.8 C364.1,133.0 361.4,133.9 359.2,135.4 C357.0,136.9 353.9,137.6 352.0,140.0 C350.1,142.4 349.0,146.7 348.0,150.0 C347.0,153.3 346.8,157.1 346.0,160.0 C345.2,162.9 344.7,164.5 343.1,167.7 C341.5,170.9 337.9,175.3 336.2,179.2 C334.5,183.0 333.7,185.5 332.7,190.8 C331.7,196.1 329.9,204.0 330.4,210.8 C330.9,217.6 333.9,226.3 335.6,231.5 C337.3,236.7 340.5,236.7 340.8,241.9 C341.1,247.1 335.6,258.1 337.3,262.7 C339.0,267.3 345.4,266.7 351.2,269.6 C357.0,272.5 365.6,278.9 371.9,280.0 C378.2,281.1 384.5,277.4 389.2,276.5 C393.9,275.6 397.2,275.2 400.0,274.6 C402.8,274.0 403.6,273.3 405.8,272.7 C408.1,272.1 411.9,270.5 413.5,270.8 C415.1,271.1 414.8,272.4 415.4,274.6 C416.0,276.8 416.0,281.0 417.3,284.2 C418.6,287.4 420.5,290.6 423.1,293.8 C425.7,297.0 429.8,300.0 432.7,303.5 C435.6,307.0 438.5,312.2 440.4,315.0 C442.3,317.8 443.2,320.3 444.2,320.0 C445.2,319.7 444.6,314.9 446.2,313.1 C447.8,311.3 450.9,310.5 453.8,309.2 C456.7,307.9 459.6,306.7 463.5,305.4 C467.4,304.1 473.4,303.8 476.9,301.5 C480.4,299.2 482.7,295.1 484.6,291.9 C486.5,288.7 487.5,285.8 488.5,282.3 C489.5,278.8 490.4,275.0 490.4,270.8 C490.4,266.6 489.5,261.2 488.5,257.3 C487.5,253.5 485.9,250.9 484.6,247.7 C483.3,244.5 481.4,242.5 480.8,238.0 C480.2,233.5 480.2,225.9 480.8,220.8 C481.4,215.7 484.3,210.8 484.6,207.3 C484.9,203.8 483.9,202.5 482.7,199.6 C481.5,196.7 478.5,192.5 477.4,190.0 C476.2,187.5 475.8,186.7 475.8,184.4 C475.8,182.1 477.4,178.9 477.4,176.2 C477.4,173.5 476.9,170.8 475.8,168.1 C474.7,165.4 470.6,161.8 470.9,159.9 C471.2,158.0 476.0,158.0 477.4,156.6 C478.8,155.2 479.6,153.3 479.0,151.7 C478.4,150.1 472.7,147.6 474.1,146.8 C475.5,146.0 485.3,147.6 487.2,146.8 C489.1,146.0 485.6,143.8 485.6,141.9 C485.6,140.0 486.9,137.8 487.2,135.4 C487.5,133.0 486.6,129.4 487.2,127.2 C487.8,125.0 489.4,122.8 490.5,122.3 C491.6,121.8 492.3,123.6 493.7,123.9 C495.1,124.2 497.3,124.7 498.7,123.9 C500.1,123.1 501.1,121.2 501.9,119.0 C502.7,116.8 504.1,112.8 503.6,110.9 C503.1,109.0 500.9,107.9 498.7,107.6 C496.5,107.3 492.4,110.0 490.5,109.2 C488.6,108.4 488.0,105.2 487.2,102.7 C486.4,100.2 486.7,96.4 485.6,94.5 C484.5,92.6 482.1,92.8 480.7,91.2 C479.3,89.6 478.5,86.7 477.4,84.7 C476.3,82.7 475.5,79.8 474.1,79.0 C472.7,78.2 471.1,78.6 469.2,79.8 C467.3,81.0 465.1,83.8 462.7,86.3 C460.2,88.8 455.9,92.0 454.5,94.5 C453.1,97.0 455.6,98.8 454.5,101.0 C453.4,103.2 449.9,107.0 448.0,107.6 C446.1,108.1 444.2,105.9 443.1,104.3 C442.0,102.7 442.5,98.9 441.4,97.8 C440.3,96.7 437.4,100.8 436.5,97.8 C435.6,94.8 438.8,84.3 436.0,80.0 C433.2,75.7 426.0,73.3 420.0,72.0 C414.0,70.7 404.6,70.8 400.0,72.0 C395.4,73.2 394.1,75.5 392.5,79.0Z" fill="#1f4d86"/>
<g fill="url(#bB)" filter="url(#sb)"><circle cx="476.3" cy="294.1" r="4.1"/><circle cx="444.6" cy="224.2" r="3.8"/><circle cx="401.4" cy="174.5" r="3.1"/><circle cx="424.3" cy="136.9" r="4.3"/><circle cx="421.4" cy="147.6" r="4.4"/><circle cx="383.2" cy="111.7" r="3.6"/><circle cx="372.5" cy="207.4" r="3.9"/><circle cx="467.2" cy="118.6" r="3.8"/><circle cx="396.2" cy="136.1" r="3.9"/><circle cx="375.2" cy="266.0" r="4.2"/><circle cx="430.1" cy="169.9" r="3.6"/><circle cx="427.2" cy="213.5" r="3.5"/><circle cx="432.6" cy="95.2" r="3.1"/><circle cx="445.9" cy="152.5" r="3.5"/><circle cx="421.2" cy="99.9" r="3.4"/><circle cx="392.6" cy="203.5" r="3.3"/><circle cx="375.1" cy="137.5" r="4.2"/><circle cx="381.5" cy="161.0" r="4.1"/><circle cx="417.6" cy="257.0" r="3.5"/><circle cx="393.6" cy="142.7" r="4.2"/><circle cx="430.1" cy="201.2" r="4.0"/><circle cx="380.1" cy="202.1" r="3.5"/><circle cx="403.1" cy="138.4" r="3.1"/><circle cx="474.7" cy="297.3" r="4.0"/><circle cx="427.5" cy="224.5" r="2.8"/><circle cx="409.9" cy="161.4" r="2.6"/><circle cx="463.7" cy="174.8" r="4.2"/><circle cx="473.8" cy="287.2" r="2.7"/><circle cx="346.2" cy="229.2" r="3.2"/><circle cx="474.3" cy="231.2" r="2.8"/><circle cx="451.0" cy="285.0" r="3.9"/><circle cx="351.2" cy="193.2" r="3.0"/><circle cx="401.0" cy="178.7" r="3.3"/><circle cx="479.8" cy="218.5" r="3.1"/><circle cx="353.9" cy="259.5" r="2.8"/><circle cx="460.6" cy="160.8" r="2.8"/><circle cx="471.8" cy="283.0" r="4.3"/><circle cx="401.7" cy="73.7" r="3.0"/><circle cx="485.1" cy="111.0" r="3.8"/><circle cx="393.0" cy="158.3" r="4.3"/><circle cx="366.3" cy="131.1" r="3.5"/><circle cx="465.0" cy="252.6" r="2.9"/><circle cx="471.4" cy="151.9" r="3.5"/><circle cx="454.7" cy="243.5" r="2.8"/><circle cx="450.2" cy="271.7" r="3.5"/><circle cx="457.4" cy="192.6" r="4.3"/><circle cx="355.7" cy="147.1" r="4.1"/><circle cx="445.6" cy="313.5" r="2.4"/><circle cx="460.0" cy="101.8" r="3.2"/><circle cx="378.3" cy="125.7" r="4.2"/><circle cx="379.3" cy="187.2" r="4.2"/><circle cx="335.7" cy="210.5" r="3.2"/><circle cx="421.5" cy="285.6" r="4.1"/><circle cx="344.8" cy="260.8" r="3.7"/><circle cx="410.8" cy="173.3" r="3.8"/><circle cx="347.4" cy="211.8" r="4.1"/><circle cx="425.4" cy="277.8" r="2.7"/><circle cx="409.8" cy="227.3" r="4.3"/><circle cx="339.0" cy="214.5" r="4.0"/><circle cx="468.5" cy="280.7" r="2.6"/><circle cx="381.8" cy="154.5" r="3.1"/><circle cx="481.4" cy="265.2" r="3.2"/><circle cx="408.0" cy="113.9" r="3.5"/><circle cx="421.2" cy="221.3" r="2.6"/><circle cx="424.5" cy="126.0" r="3.2"/><circle cx="445.2" cy="201.0" r="2.7"/><circle cx="451.0" cy="221.8" r="3.3"/><circle cx="408.2" cy="138.6" r="3.4"/><circle cx="435.5" cy="147.7" r="2.9"/><circle cx="473.0" cy="220.9" r="3.5"/><circle cx="424.8" cy="287.4" r="3.3"/><circle cx="365.2" cy="215.2" r="3.3"/><circle cx="478.9" cy="249.6" r="3.2"/><circle cx="458.8" cy="270.0" r="3.2"/><circle cx="407.1" cy="187.6" r="2.9"/><circle cx="469.4" cy="95.0" r="3.7"/><circle cx="376.5" cy="177.6" r="3.1"/><circle cx="369.0" cy="157.0" r="3.8"/><circle cx="407.3" cy="192.0" r="4.0"/><circle cx="467.4" cy="291.0" r="2.7"/><circle cx="398.8" cy="236.6" r="3.9"/><circle cx="439.3" cy="173.0" r="2.9"/><circle cx="469.4" cy="217.3" r="3.6"/><circle cx="390.5" cy="213.1" r="3.5"/><circle cx="403.9" cy="81.7" r="3.7"/><circle cx="368.8" cy="119.5" r="2.6"/><circle cx="459.0" cy="172.6" r="2.7"/><circle cx="386.3" cy="135.0" r="4.3"/><circle cx="421.9" cy="153.5" r="2.8"/><circle cx="434.8" cy="261.4" r="4.3"/><circle cx="434.4" cy="96.5" r="3.6"/><circle cx="432.4" cy="237.1" r="3.2"/><circle cx="479.0" cy="297.5" r="3.1"/><circle cx="485.5" cy="269.9" r="2.8"/><circle cx="400.5" cy="193.2" r="3.6"/><circle cx="408.7" cy="135.9" r="3.8"/><circle cx="368.0" cy="116.6" r="3.1"/><circle cx="448.5" cy="293.6" r="3.1"/><circle cx="472.6" cy="113.8" r="4.2"/><circle cx="468.0" cy="89.6" r="4.0"/><circle cx="344.4" cy="198.9" r="4.3"/><circle cx="350.0" cy="155.7" r="3.6"/><circle cx="364.7" cy="256.1" r="3.8"/><circle cx="439.0" cy="264.0" r="2.8"/><circle cx="369.7" cy="185.6" r="3.4"/><circle cx="404.7" cy="142.9" r="3.3"/><circle cx="448.8" cy="307.0" r="3.0"/><circle cx="466.7" cy="152.7" r="3.2"/><circle cx="403.3" cy="199.9" r="4.4"/><circle cx="441.1" cy="222.6" r="2.8"/><circle cx="430.0" cy="231.4" r="3.5"/><circle cx="419.9" cy="193.9" r="4.2"/><circle cx="437.7" cy="259.2" r="4.0"/><circle cx="426.7" cy="109.7" r="4.1"/><circle cx="451.2" cy="143.9" r="4.0"/><circle cx="463.9" cy="177.3" r="3.0"/><circle cx="356.4" cy="221.8" r="2.6"/><circle cx="460.6" cy="223.4" r="3.8"/><circle cx="428.1" cy="248.1" r="3.6"/><circle cx="380.1" cy="235.8" r="3.2"/><circle cx="381.9" cy="124.9" r="3.1"/><circle cx="466.4" cy="235.4" r="3.7"/><circle cx="385.7" cy="189.7" r="3.4"/><circle cx="413.0" cy="107.8" r="3.7"/><circle cx="460.9" cy="107.4" r="3.7"/><circle cx="472.2" cy="186.0" r="3.2"/><circle cx="401.0" cy="151.6" r="4.4"/><circle cx="441.3" cy="120.7" r="3.2"/><circle cx="387.5" cy="174.6" r="3.7"/><circle cx="484.7" cy="136.8" r="3.3"/><circle cx="419.4" cy="129.4" r="4.1"/><circle cx="409.2" cy="151.0" r="4.2"/><circle cx="436.8" cy="107.0" r="3.9"/><circle cx="419.5" cy="197.9" r="3.5"/><circle cx="421.3" cy="202.0" r="2.8"/><circle cx="468.1" cy="100.6" r="2.6"/><circle cx="438.3" cy="248.8" r="2.7"/><circle cx="359.6" cy="146.0" r="3.2"/><circle cx="463.2" cy="244.2" r="3.2"/><circle cx="379.5" cy="107.8" r="2.7"/><circle cx="442.5" cy="253.2" r="4.1"/><circle cx="380.7" cy="229.4" r="3.3"/><circle cx="421.5" cy="140.1" r="2.8"/><circle cx="444.4" cy="128.3" r="3.5"/><circle cx="398.3" cy="87.1" r="3.7"/><circle cx="470.9" cy="186.4" r="3.7"/><circle cx="429.4" cy="285.8" r="3.1"/><circle cx="470.0" cy="194.7" r="3.6"/><circle cx="465.1" cy="303.0" r="3.7"/><circle cx="410.3" cy="115.6" r="4.3"/><circle cx="424.6" cy="128.8" r="3.6"/><circle cx="350.7" cy="205.9" r="3.0"/><circle cx="473.3" cy="176.9" r="2.9"/><circle cx="395.8" cy="226.7" r="3.6"/><circle cx="417.8" cy="103.2" r="3.4"/><circle cx="427.9" cy="185.8" r="2.9"/><circle cx="380.1" cy="226.2" r="3.9"/><circle cx="479.3" cy="275.8" r="3.7"/><circle cx="380.6" cy="165.2" r="3.4"/><circle cx="455.3" cy="196.7" r="3.4"/><circle cx="393.2" cy="198.7" r="2.9"/><circle cx="343.1" cy="231.5" r="3.2"/><circle cx="389.5" cy="115.8" r="2.8"/><circle cx="408.3" cy="226.0" r="4.1"/><circle cx="383.3" cy="97.2" r="2.9"/><circle cx="452.8" cy="176.6" r="3.3"/><circle cx="428.1" cy="254.3" r="3.3"/><circle cx="440.9" cy="136.1" r="3.6"/><circle cx="424.5" cy="132.3" r="2.8"/><circle cx="374.8" cy="241.6" r="3.8"/><circle cx="351.0" cy="220.8" r="3.4"/><circle cx="472.3" cy="166.5" r="4.0"/><circle cx="465.4" cy="115.7" r="2.8"/><circle cx="477.6" cy="103.3" r="2.7"/><circle cx="381.2" cy="215.7" r="4.1"/><circle cx="377.5" cy="274.2" r="3.3"/><circle cx="450.7" cy="241.3" r="4.3"/><circle cx="452.5" cy="201.2" r="3.0"/><circle cx="449.1" cy="282.4" r="4.2"/><circle cx="452.0" cy="295.6" r="3.2"/><circle cx="393.3" cy="133.1" r="3.8"/><circle cx="401.6" cy="90.1" r="4.2"/><circle cx="426.7" cy="164.8" r="4.1"/><circle cx="436.3" cy="224.0" r="3.9"/><circle cx="447.6" cy="222.8" r="3.2"/><circle cx="349.0" cy="184.4" r="3.9"/><circle cx="352.7" cy="256.3" r="2.7"/><circle cx="463.8" cy="110.3" r="3.6"/><circle cx="386.7" cy="232.3" r="4.0"/><circle cx="369.1" cy="149.3" r="3.6"/><circle cx="444.2" cy="296.7" r="3.4"/><circle cx="359.8" cy="198.5" r="3.4"/><circle cx="467.6" cy="113.0" r="4.3"/><circle cx="384.2" cy="104.4" r="4.3"/><circle cx="405.8" cy="203.6" r="4.2"/><circle cx="426.4" cy="288.9" r="3.2"/><circle cx="368.0" cy="142.3" r="3.8"/><circle cx="351.9" cy="142.7" r="3.1"/><circle cx="484.0" cy="256.1" r="3.4"/><circle cx="405.1" cy="75.2" r="2.7"/><circle cx="373.5" cy="154.5" r="4.3"/><circle cx="420.6" cy="187.8" r="3.1"/><circle cx="355.0" cy="156.0" r="2.6"/><circle cx="480.0" cy="283.1" r="3.0"/><circle cx="412.8" cy="191.1" r="4.4"/><circle cx="426.5" cy="117.4" r="3.3"/><circle cx="406.0" cy="258.7" r="2.7"/><circle cx="361.4" cy="150.4" r="2.7"/><circle cx="445.9" cy="133.4" r="3.2"/><circle cx="434.3" cy="82.0" r="3.3"/><circle cx="357.1" cy="217.2" r="3.6"/><circle cx="433.4" cy="188.8" r="2.6"/><circle cx="481.3" cy="103.0" r="3.0"/><circle cx="423.1" cy="139.8" r="3.4"/><circle cx="478.6" cy="111.4" r="4.4"/><circle cx="370.8" cy="245.2" r="4.3"/><circle cx="378.2" cy="217.6" r="4.3"/><circle cx="346.2" cy="247.4" r="3.9"/><circle cx="465.2" cy="154.9" r="3.2"/><circle cx="439.4" cy="159.8" r="4.0"/><circle cx="418.7" cy="257.3" r="2.8"/><circle cx="364.4" cy="271.6" r="3.0"/><circle cx="446.8" cy="147.9" r="3.4"/><circle cx="401.9" cy="104.0" r="2.7"/><circle cx="344.0" cy="201.8" r="3.2"/><circle cx="461.6" cy="140.0" r="3.6"/><circle cx="474.2" cy="224.1" r="2.8"/><circle cx="386.2" cy="213.0" r="3.0"/><circle cx="438.4" cy="205.0" r="2.7"/><circle cx="363.1" cy="133.3" r="2.2"/><circle cx="422.9" cy="144.5" r="3.4"/><circle cx="454.3" cy="159.9" r="4.3"/><circle cx="399.4" cy="120.9" r="3.0"/><circle cx="424.7" cy="95.9" r="4.2"/><circle cx="374.9" cy="147.6" r="2.8"/><circle cx="338.6" cy="257.4" r="2.6"/><circle cx="412.4" cy="236.1" r="2.9"/><circle cx="441.2" cy="295.1" r="2.7"/><circle cx="470.5" cy="284.1" r="4.0"/><circle cx="346.3" cy="174.2" r="4.0"/><circle cx="440.3" cy="272.7" r="3.0"/><circle cx="395.3" cy="252.9" r="3.3"/><circle cx="445.4" cy="216.9" r="4.1"/><circle cx="391.7" cy="241.0" r="3.0"/><circle cx="458.9" cy="250.4" r="4.3"/><circle cx="432.3" cy="228.1" r="3.5"/><circle cx="441.3" cy="310.1" r="3.4"/><circle cx="431.4" cy="136.5" r="4.2"/><circle cx="377.0" cy="263.6" r="4.2"/><circle cx="355.9" cy="263.3" r="3.6"/><circle cx="372.0" cy="255.8" r="4.3"/><circle cx="344.8" cy="167.3" r="2.5"/><circle cx="446.7" cy="184.4" r="4.2"/><circle cx="487.3" cy="255.2" r="3.0"/><circle cx="340.9" cy="187.8" r="2.8"/><circle cx="344.1" cy="255.1" r="4.2"/><circle cx="383.7" cy="249.1" r="3.2"/><circle cx="461.1" cy="150.0" r="3.8"/><circle cx="464.7" cy="192.3" r="3.0"/><circle cx="404.3" cy="115.5" r="3.7"/><circle cx="425.1" cy="271.1" r="3.4"/><circle cx="372.1" cy="223.4" r="4.0"/><circle cx="469.7" cy="139.8" r="2.8"/><circle cx="415.9" cy="174.1" r="3.8"/><circle cx="370.5" cy="142.9" r="3.2"/><circle cx="375.2" cy="167.3" r="3.4"/><circle cx="382.1" cy="259.8" r="3.5"/><circle cx="466.7" cy="297.1" r="3.5"/><circle cx="388.2" cy="126.8" r="3.1"/><circle cx="424.7" cy="121.7" r="3.5"/><circle cx="450.7" cy="297.6" r="3.2"/><circle cx="459.0" cy="181.9" r="3.2"/><circle cx="400.8" cy="112.0" r="2.7"/><circle cx="405.9" cy="208.4" r="3.6"/><circle cx="410.9" cy="221.7" r="4.2"/><circle cx="371.9" cy="218.2" r="3.5"/><circle cx="414.2" cy="143.2" r="3.0"/><circle cx="456.0" cy="131.2" r="3.3"/><circle cx="388.8" cy="273.7" r="2.9"/><circle cx="442.9" cy="172.5" r="3.8"/><circle cx="433.5" cy="213.7" r="3.9"/><circle cx="483.6" cy="142.2" r="3.6"/><circle cx="465.7" cy="138.5" r="3.0"/><circle cx="472.6" cy="274.5" r="4.3"/><circle cx="361.8" cy="159.0" r="4.2"/><circle cx="438.3" cy="180.1" r="3.6"/><circle cx="447.0" cy="184.9" r="2.8"/><circle cx="480.6" cy="123.9" r="2.9"/><circle cx="484.7" cy="106.4" r="3.3"/><circle cx="395.1" cy="196.7" r="4.0"/><circle cx="437.1" cy="237.3" r="2.6"/><circle cx="366.3" cy="193.3" r="2.7"/><circle cx="393.7" cy="268.6" r="4.0"/><circle cx="454.0" cy="228.6" r="3.2"/><circle cx="416.8" cy="279.5" r="3.1"/><circle cx="393.5" cy="244.1" r="3.1"/><circle cx="446.1" cy="113.2" r="2.6"/><circle cx="356.5" cy="218.8" r="3.1"/><circle cx="374.3" cy="258.3" r="4.1"/><circle cx="430.0" cy="196.7" r="4.0"/><circle cx="379.9" cy="133.1" r="2.7"/><circle cx="405.4" cy="132.0" r="3.8"/><circle cx="428.4" cy="152.1" r="4.1"/><circle cx="450.1" cy="205.7" r="3.8"/><circle cx="419.2" cy="281.4" r="3.9"/><circle cx="411.2" cy="226.2" r="3.7"/><circle cx="358.0" cy="142.1" r="4.2"/><circle cx="349.7" cy="238.7" r="3.2"/><circle cx="468.1" cy="81.3" r="2.9"/><circle cx="439.3" cy="252.5" r="3.4"/><circle cx="474.2" cy="141.0" r="3.3"/><circle cx="459.9" cy="151.3" r="3.3"/><circle cx="371.1" cy="199.5" r="3.6"/><circle cx="399.3" cy="169.6" r="3.0"/><circle cx="456.1" cy="186.6" r="3.1"/><circle cx="339.3" cy="203.6" r="3.1"/><circle cx="368.4" cy="191.8" r="3.9"/><circle cx="487.6" cy="275.9" r="2.8"/><circle cx="396.9" cy="202.2" r="2.6"/><circle cx="397.4" cy="127.7" r="4.3"/><circle cx="369.6" cy="238.0" r="3.7"/><circle cx="419.2" cy="256.6" r="3.8"/><circle cx="441.4" cy="312.8" r="3.3"/><circle cx="457.7" cy="248.8" r="4.4"/><circle cx="345.7" cy="179.2" r="3.0"/><circle cx="444.4" cy="271.9" r="4.3"/><circle cx="365.2" cy="168.1" r="4.3"/><circle cx="473.4" cy="94.9" r="2.6"/><circle cx="402.8" cy="245.6" r="3.2"/><circle cx="396.3" cy="121.0" r="2.9"/><circle cx="396.7" cy="157.1" r="3.8"/><circle cx="472.2" cy="183.4" r="4.3"/><circle cx="405.2" cy="159.9" r="3.9"/><circle cx="415.4" cy="219.3" r="3.5"/><circle cx="426.4" cy="191.7" r="2.9"/><circle cx="450.1" cy="294.6" r="2.9"/><circle cx="366.6" cy="245.2" r="4.3"/><circle cx="342.0" cy="194.4" r="3.2"/><circle cx="408.9" cy="128.1" r="2.9"/><circle cx="358.9" cy="209.1" r="3.7"/><circle cx="439.7" cy="303.0" r="4.1"/><circle cx="407.9" cy="196.0" r="3.1"/><circle cx="454.5" cy="276.2" r="3.0"/><circle cx="389.1" cy="264.7" r="3.8"/><circle cx="481.1" cy="119.8" r="4.1"/><circle cx="355.3" cy="165.8" r="3.0"/><circle cx="358.3" cy="160.5" r="2.8"/><circle cx="443.0" cy="196.3" r="4.3"/><circle cx="392.5" cy="241.1" r="4.0"/><circle cx="357.4" cy="144.6" r="4.2"/><circle cx="421.6" cy="172.9" r="3.5"/><circle cx="408.5" cy="167.0" r="4.3"/><circle cx="429.1" cy="141.7" r="2.9"/><circle cx="352.8" cy="265.1" r="2.8"/><circle cx="419.1" cy="90.4" r="3.2"/><circle cx="388.4" cy="220.7" r="2.6"/><circle cx="410.4" cy="261.5" r="2.9"/><circle cx="412.1" cy="154.3" r="2.7"/><circle cx="461.1" cy="293.4" r="4.2"/><circle cx="382.3" cy="226.7" r="3.6"/><circle cx="439.2" cy="166.1" r="4.3"/><circle cx="472.0" cy="133.9" r="4.1"/><circle cx="377.0" cy="265.9" r="3.6"/><circle cx="483.6" cy="127.0" r="3.1"/><circle cx="438.3" cy="123.9" r="3.6"/><circle cx="432.4" cy="250.4" r="3.5"/><circle cx="389.3" cy="159.2" r="3.3"/><circle cx="350.7" cy="153.2" r="2.6"/><circle cx="431.3" cy="291.3" r="3.5"/><circle cx="456.2" cy="208.8" r="2.6"/><circle cx="352.2" cy="236.0" r="3.1"/><circle cx="386.2" cy="125.7" r="2.7"/><circle cx="480.9" cy="219.5" r="2.3"/><circle cx="348.4" cy="191.0" r="2.8"/><circle cx="405.8" cy="177.6" r="3.5"/><circle cx="391.0" cy="272.1" r="3.4"/><circle cx="398.0" cy="90.1" r="3.2"/><circle cx="381.8" cy="212.5" r="2.9"/><circle cx="456.4" cy="241.6" r="4.3"/><circle cx="401.2" cy="136.9" r="4.3"/><circle cx="341.4" cy="208.5" r="4.0"/><circle cx="434.5" cy="145.9" r="2.8"/><circle cx="407.0" cy="111.6" r="3.9"/><circle cx="478.4" cy="271.5" r="3.6"/><circle cx="451.1" cy="258.3" r="4.3"/><circle cx="478.5" cy="288.6" r="3.0"/><circle cx="425.4" cy="280.7" r="3.2"/><circle cx="446.9" cy="207.9" r="3.6"/><circle cx="441.1" cy="131.6" r="4.1"/><circle cx="453.2" cy="288.4" r="3.1"/><circle cx="460.9" cy="266.3" r="4.3"/><circle cx="334.2" cy="216.2" r="3.4"/><circle cx="353.4" cy="161.1" r="4.1"/><circle cx="463.2" cy="279.1" r="3.3"/><circle cx="412.4" cy="194.1" r="3.5"/><circle cx="430.1" cy="194.8" r="3.7"/><circle cx="458.5" cy="117.2" r="3.2"/><circle cx="409.8" cy="190.6" r="3.5"/><circle cx="475.3" cy="292.4" r="3.4"/><circle cx="404.1" cy="135.6" r="3.3"/><circle cx="362.6" cy="144.3" r="3.2"/><circle cx="348.6" cy="201.6" r="4.3"/><circle cx="472.0" cy="241.0" r="2.8"/><circle cx="468.8" cy="175.3" r="2.9"/><circle cx="439.5" cy="191.1" r="3.8"/><circle cx="343.7" cy="244.0" r="2.9"/><circle cx="481.2" cy="217.8" r="2.6"/><circle cx="411.5" cy="249.5" r="4.2"/><circle cx="460.0" cy="264.0" r="3.9"/><circle cx="462.7" cy="233.9" r="3.3"/><circle cx="355.3" cy="174.5" r="3.0"/><circle cx="381.5" cy="269.4" r="2.7"/><circle cx="467.3" cy="294.2" r="4.0"/><circle cx="368.1" cy="271.3" r="3.6"/><circle cx="366.1" cy="200.3" r="3.5"/><circle cx="462.2" cy="123.8" r="3.8"/><circle cx="433.0" cy="195.4" r="3.3"/><circle cx="455.7" cy="172.7" r="2.9"/><circle cx="392.0" cy="266.3" r="3.3"/><circle cx="401.4" cy="209.7" r="3.8"/><circle cx="404.5" cy="250.1" r="2.9"/><circle cx="426.5" cy="168.6" r="4.1"/><circle cx="418.9" cy="144.5" r="3.9"/><circle cx="412.5" cy="218.8" r="3.6"/><circle cx="483.1" cy="264.3" r="4.3"/><circle cx="479.6" cy="244.1" r="3.3"/><circle cx="417.0" cy="168.2" r="3.8"/><circle cx="414.5" cy="242.8" r="3.4"/><circle cx="354.8" cy="241.8" r="3.2"/><circle cx="431.9" cy="139.2" r="2.7"/><circle cx="456.7" cy="100.8" r="4.1"/><circle cx="417.6" cy="175.0" r="3.4"/><circle cx="417.7" cy="164.3" r="4.1"/><circle cx="486.2" cy="133.7" r="2.8"/><circle cx="391.0" cy="256.2" r="4.0"/><circle cx="339.3" cy="230.1" r="2.7"/><circle cx="354.9" cy="177.9" r="2.6"/><circle cx="444.2" cy="219.2" r="4.3"/><circle cx="381.8" cy="141.0" r="2.8"/><circle cx="467.7" cy="110.1" r="4.4"/><circle cx="399.4" cy="188.2" r="3.9"/><circle cx="476.8" cy="201.4" r="3.6"/><circle cx="418.6" cy="206.8" r="3.2"/><circle cx="424.3" cy="223.4" r="3.1"/><circle cx="454.5" cy="283.6" r="3.5"/><circle cx="409.0" cy="146.6" r="3.3"/><circle cx="395.0" cy="101.4" r="4.0"/><circle cx="429.2" cy="149.2" r="3.0"/><circle cx="397.2" cy="74.6" r="2.3"/><circle cx="346.8" cy="266.2" r="2.4"/><circle cx="378.1" cy="123.1" r="3.5"/><circle cx="457.1" cy="159.2" r="2.9"/><circle cx="362.4" cy="210.9" r="3.4"/><circle cx="459.2" cy="284.0" r="3.7"/><circle cx="471.6" cy="86.8" r="4.2"/><circle cx="373.2" cy="141.8" r="4.0"/><circle cx="474.6" cy="156.9" r="3.2"/><circle cx="439.9" cy="289.4" r="4.1"/><circle cx="461.8" cy="190.8" r="3.7"/><circle cx="445.8" cy="117.9" r="2.9"/><circle cx="405.6" cy="215.7" r="3.4"/><circle cx="423.3" cy="202.4" r="2.6"/><circle cx="360.7" cy="167.9" r="3.0"/><circle cx="469.5" cy="302.1" r="3.6"/><circle cx="381.8" cy="152.1" r="2.7"/><circle cx="425.7" cy="128.8" r="3.2"/><circle cx="459.1" cy="277.4" r="2.6"/><circle cx="414.6" cy="261.2" r="4.1"/><circle cx="440.0" cy="215.9" r="4.0"/><circle cx="357.4" cy="240.3" r="3.4"/><circle cx="411.3" cy="98.5" r="3.2"/><circle cx="447.3" cy="175.4" r="3.5"/><circle cx="450.1" cy="129.7" r="2.8"/><circle cx="441.9" cy="202.5" r="3.8"/><circle cx="397.9" cy="242.2" r="2.9"/><circle cx="384.6" cy="154.8" r="3.6"/><circle cx="450.6" cy="194.9" r="2.6"/><circle cx="357.4" cy="198.4" r="3.6"/><circle cx="346.6" cy="259.7" r="2.7"/><circle cx="477.1" cy="255.1" r="3.6"/><circle cx="456.6" cy="179.6" r="4.3"/><circle cx="474.1" cy="126.5" r="3.1"/><circle cx="410.2" cy="231.0" r="4.3"/><circle cx="394.5" cy="150.8" r="3.4"/><circle cx="426.7" cy="233.1" r="3.7"/><circle cx="438.6" cy="209.4" r="4.2"/><circle cx="478.6" cy="211.8" r="2.9"/><circle cx="409.0" cy="103.9" r="3.7"/><circle cx="476.8" cy="138.4" r="3.1"/><circle cx="446.6" cy="145.9" r="3.3"/><circle cx="386.5" cy="112.0" r="3.4"/><circle cx="437.9" cy="222.3" r="4.3"/><circle cx="344.5" cy="189.0" r="4.4"/><circle cx="408.5" cy="106.0" r="3.5"/><circle cx="357.6" cy="201.3" r="2.7"/><circle cx="443.9" cy="241.6" r="3.5"/><circle cx="484.5" cy="257.1" r="3.3"/><circle cx="421.7" cy="74.2" r="3.1"/><circle cx="448.8" cy="262.0" r="2.8"/><circle cx="422.6" cy="92.5" r="2.6"/><circle cx="417.7" cy="121.2" r="3.1"/><circle cx="379.4" cy="99.6" r="3.1"/><circle cx="460.3" cy="233.0" r="3.1"/><circle cx="454.9" cy="236.8" r="2.6"/><circle cx="370.3" cy="159.4" r="4.0"/><circle cx="345.2" cy="182.9" r="3.6"/><circle cx="364.9" cy="158.9" r="3.6"/><circle cx="342.3" cy="211.2" r="3.6"/><circle cx="380.8" cy="241.6" r="3.4"/><circle cx="367.6" cy="163.8" r="3.5"/><circle cx="460.0" cy="253.3" r="2.9"/><circle cx="432.0" cy="257.4" r="3.7"/><circle cx="390.3" cy="234.1" r="4.1"/><circle cx="394.5" cy="179.5" r="2.9"/><circle cx="408.1" cy="270.9" r="2.9"/><circle cx="348.9" cy="234.8" r="2.7"/><circle cx="442.0" cy="161.3" r="2.9"/><circle cx="488.2" cy="124.3" r="3.4"/><circle cx="431.2" cy="263.7" r="3.7"/><circle cx="410.3" cy="208.9" r="3.0"/><circle cx="445.2" cy="299.2" r="3.2"/><circle cx="403.7" cy="104.3" r="2.9"/><circle cx="414.6" cy="171.7" r="4.3"/><circle cx="458.4" cy="241.4" r="2.9"/><circle cx="474.2" cy="181.6" r="3.7"/><circle cx="415.8" cy="246.5" r="2.7"/><circle cx="445.1" cy="268.3" r="3.4"/><circle cx="457.0" cy="283.5" r="2.9"/><circle cx="364.7" cy="183.8" r="3.1"/><circle cx="388.6" cy="145.6" r="3.7"/><circle cx="394.8" cy="232.9" r="2.6"/><circle cx="426.3" cy="80.9" r="4.2"/><circle cx="398.4" cy="95.5" r="4.0"/><circle cx="386.7" cy="164.1" r="2.6"/><circle cx="445.7" cy="275.9" r="3.9"/><circle cx="453.0" cy="148.2" r="4.2"/><circle cx="426.0" cy="114.6" r="4.2"/><circle cx="474.8" cy="216.6" r="3.6"/><circle cx="402.4" cy="231.8" r="3.6"/><circle cx="413.2" cy="169.6" r="4.3"/><circle cx="476.4" cy="225.2" r="4.2"/><circle cx="411.2" cy="177.3" r="2.7"/><circle cx="465.3" cy="270.3" r="2.9"/><circle cx="395.7" cy="172.4" r="3.1"/><circle cx="470.6" cy="85.7" r="2.6"/><circle cx="336.5" cy="196.7" r="4.1"/><circle cx="485.6" cy="102.2" r="2.6"/><circle cx="365.3" cy="174.9" r="2.6"/><circle cx="481.7" cy="259.2" r="4.2"/><circle cx="447.4" cy="227.5" r="3.7"/><circle cx="435.1" cy="288.6" r="2.7"/><circle cx="462.6" cy="180.5" r="3.7"/><circle cx="390.5" cy="108.3" r="3.5"/><circle cx="364.4" cy="141.3" r="4.2"/><circle cx="403.2" cy="161.5" r="4.2"/><circle cx="407.1" cy="80.4" r="2.7"/><circle cx="431.5" cy="280.9" r="3.5"/><circle cx="470.9" cy="291.4" r="4.2"/><circle cx="480.6" cy="203.4" r="3.8"/><circle cx="464.1" cy="228.4" r="3.2"/><circle cx="469.3" cy="276.3" r="4.3"/><circle cx="476.1" cy="206.3" r="3.0"/><circle cx="405.4" cy="228.7" r="3.5"/><circle cx="463.8" cy="170.0" r="3.1"/><circle cx="332.8" cy="195.0" r="2.8"/><circle cx="413.5" cy="138.1" r="3.1"/><circle cx="353.4" cy="198.6" r="3.9"/><circle cx="378.7" cy="127.8" r="3.5"/><circle cx="394.1" cy="93.7" r="3.8"/><circle cx="478.9" cy="277.0" r="2.8"/><circle cx="443.4" cy="179.2" r="2.8"/><circle cx="448.8" cy="161.6" r="4.2"/><circle cx="433.5" cy="164.7" r="2.7"/><circle cx="405.9" cy="198.8" r="3.8"/><circle cx="462.8" cy="149.4" r="3.9"/><circle cx="375.1" cy="277.3" r="2.7"/><circle cx="481.0" cy="116.1" r="2.8"/><circle cx="388.6" cy="167.2" r="3.4"/><circle cx="471.9" cy="100.2" r="3.0"/><circle cx="489.6" cy="114.9" r="3.7"/><circle cx="483.6" cy="272.1" r="3.7"/><circle cx="472.4" cy="228.5" r="3.7"/><circle cx="393.0" cy="248.7" r="3.0"/><circle cx="442.6" cy="108.1" r="3.4"/><circle cx="473.9" cy="255.3" r="2.8"/><circle cx="335.4" cy="217.4" r="2.6"/><circle cx="377.6" cy="249.0" r="3.8"/><circle cx="428.2" cy="249.5" r="3.1"/><circle cx="405.0" cy="216.5" r="3.3"/><circle cx="429.5" cy="108.1" r="3.7"/><circle cx="419.1" cy="212.8" r="3.3"/><circle cx="469.2" cy="235.8" r="3.9"/><circle cx="463.3" cy="198.0" r="4.0"/><circle cx="401.1" cy="93.7" r="3.6"/><circle cx="449.0" cy="184.2" r="4.3"/><circle cx="348.2" cy="219.7" r="3.9"/><circle cx="439.4" cy="144.3" r="3.5"/><circle cx="483.2" cy="205.3" r="3.7"/><circle cx="391.4" cy="181.4" r="2.8"/><circle cx="430.9" cy="98.7" r="3.8"/><circle cx="421.5" cy="237.7" r="4.2"/><circle cx="339.0" cy="187.2" r="4.3"/><circle cx="385.8" cy="252.3" r="2.9"/><circle cx="430.0" cy="161.5" r="3.8"/><circle cx="366.5" cy="176.9" r="4.1"/><circle cx="455.1" cy="153.7" r="4.1"/><circle cx="399.7" cy="241.9" r="4.2"/><circle cx="424.9" cy="148.0" r="3.6"/><circle cx="434.8" cy="302.8" r="3.1"/><circle cx="420.9" cy="274.5" r="3.0"/><circle cx="353.9" cy="184.4" r="4.3"/><circle cx="401.3" cy="133.4" r="4.0"/><circle cx="366.1" cy="257.3" r="2.7"/><circle cx="466.2" cy="266.2" r="2.7"/><circle cx="467.2" cy="224.2" r="3.9"/><circle cx="413.4" cy="149.1" r="3.1"/><circle cx="406.6" cy="94.8" r="2.7"/><circle cx="362.0" cy="148.3" r="3.6"/><circle cx="477.4" cy="288.5" r="2.8"/><circle cx="491.7" cy="111.8" r="2.8"/><circle cx="361.0" cy="230.4" r="3.9"/><circle cx="470.9" cy="189.8" r="3.2"/><circle cx="349.3" cy="166.7" r="3.6"/><circle cx="412.8" cy="253.2" r="4.0"/><circle cx="463.7" cy="91.0" r="4.3"/><circle cx="467.3" cy="122.8" r="3.0"/><circle cx="356.4" cy="165.1" r="3.1"/><circle cx="362.6" cy="206.0" r="3.1"/><circle cx="348.9" cy="203.8" r="4.4"/><circle cx="332.6" cy="211.0" r="3.7"/><circle cx="408.9" cy="266.4" r="4.0"/><circle cx="443.8" cy="281.5" r="4.1"/><circle cx="485.5" cy="289.2" r="2.5"/><circle cx="391.4" cy="119.8" r="3.6"/><circle cx="353.7" cy="191.9" r="3.5"/><circle cx="465.7" cy="161.8" r="3.0"/><circle cx="450.9" cy="154.8" r="2.9"/><circle cx="400.9" cy="230.2" r="4.4"/><circle cx="472.6" cy="252.5" r="3.3"/><circle cx="427.2" cy="96.7" r="3.5"/><circle cx="472.8" cy="192.2" r="4.2"/><circle cx="441.1" cy="183.4" r="3.4"/><circle cx="438.7" cy="269.0" r="3.9"/><circle cx="442.3" cy="268.6" r="4.0"/><circle cx="392.8" cy="262.3" r="3.6"/><circle cx="415.9" cy="118.6" r="3.2"/><circle cx="439.2" cy="279.4" r="4.2"/><circle cx="456.9" cy="306.8" r="2.9"/><circle cx="367.0" cy="226.3" r="3.3"/><circle cx="474.1" cy="103.3" r="3.2"/><circle cx="476.6" cy="229.7" r="3.3"/><circle cx="401.9" cy="188.7" r="2.6"/><circle cx="471.0" cy="271.5" r="3.8"/><circle cx="396.7" cy="217.6" r="3.2"/><circle cx="496.2" cy="122.6" r="3.4"/><circle cx="380.3" cy="164.2" r="3.4"/><circle cx="463.2" cy="222.4" r="3.4"/><circle cx="401.3" cy="224.2" r="3.6"/><circle cx="450.3" cy="190.3" r="3.1"/><circle cx="399.4" cy="269.8" r="3.2"/><circle cx="410.0" cy="254.3" r="3.5"/><circle cx="419.4" cy="218.9" r="2.6"/><circle cx="388.6" cy="127.9" r="3.5"/><circle cx="374.0" cy="247.7" r="3.1"/><circle cx="451.0" cy="117.7" r="3.0"/><circle cx="410.0" cy="90.5" r="2.8"/><circle cx="448.3" cy="270.4" r="3.8"/><circle cx="360.1" cy="245.5" r="3.6"/><circle cx="380.3" cy="190.7" r="4.4"/><circle cx="377.7" cy="202.8" r="2.9"/><circle cx="497.4" cy="116.4" r="3.8"/><circle cx="386.7" cy="259.3" r="2.6"/><circle cx="463.5" cy="98.7" r="3.0"/><circle cx="427.2" cy="296.3" r="3.2"/><circle cx="384.4" cy="264.5" r="3.8"/><circle cx="366.8" cy="249.2" r="2.8"/><circle cx="406.1" cy="181.1" r="3.2"/><circle cx="406.6" cy="219.6" r="4.2"/><circle cx="392.9" cy="259.9" r="4.4"/><circle cx="398.8" cy="241.6" r="3.1"/><circle cx="431.0" cy="273.8" r="3.4"/><circle cx="448.2" cy="256.7" r="3.9"/><circle cx="400.7" cy="220.6" r="3.3"/><circle cx="415.5" cy="89.2" r="3.6"/><circle cx="452.9" cy="141.4" r="4.1"/><circle cx="356.0" cy="189.5" r="3.9"/><circle cx="373.7" cy="165.0" r="2.9"/><circle cx="374.1" cy="206.0" r="2.9"/><circle cx="343.1" cy="250.2" r="3.7"/><circle cx="448.7" cy="237.4" r="3.7"/><circle cx="377.6" cy="144.5" r="2.6"/><circle cx="391.5" cy="171.0" r="3.2"/><circle cx="417.3" cy="187.1" r="4.1"/><circle cx="432.6" cy="175.4" r="2.7"/><circle cx="385.7" cy="200.7" r="3.8"/><circle cx="382.4" cy="276.1" r="3.4"/><circle cx="424.7" cy="254.1" r="3.7"/><circle cx="407.7" cy="171.1" r="4.3"/><circle cx="364.7" cy="248.5" r="3.6"/><circle cx="363.7" cy="197.3" r="3.6"/><circle cx="449.3" cy="120.2" r="4.3"/><circle cx="362.0" cy="179.2" r="2.6"/><circle cx="382.0" cy="255.7" r="3.6"/><circle cx="423.8" cy="188.2" r="4.2"/><circle cx="458.7" cy="305.9" r="3.2"/><circle cx="464.7" cy="239.7" r="2.8"/><circle cx="437.8" cy="285.3" r="3.2"/><circle cx="478.5" cy="209.3" r="4.1"/><circle cx="485.0" cy="286.4" r="3.6"/><circle cx="433.8" cy="246.6" r="4.3"/><circle cx="373.4" cy="120.1" r="4.2"/><circle cx="446.4" cy="241.7" r="3.3"/><circle cx="431.0" cy="96.2" r="3.8"/><circle cx="441.5" cy="116.3" r="4.0"/><circle cx="436.6" cy="118.5" r="3.4"/><circle cx="409.6" cy="234.9" r="3.9"/><circle cx="482.4" cy="291.9" r="3.0"/><circle cx="355.1" cy="266.6" r="3.8"/><circle cx="360.4" cy="272.6" r="2.9"/><circle cx="449.3" cy="311.3" r="3.0"/><circle cx="438.1" cy="185.8" r="4.2"/><circle cx="431.8" cy="292.9" r="4.2"/><circle cx="439.4" cy="115.3" r="2.6"/><circle cx="467.1" cy="220.4" r="3.7"/><circle cx="379.8" cy="104.0" r="3.1"/><circle cx="384.7" cy="205.9" r="3.1"/><circle cx="371.8" cy="127.5" r="2.8"/><circle cx="422.8" cy="251.5" r="2.9"/><circle cx="483.4" cy="210.3" r="2.4"/><circle cx="377.2" cy="206.9" r="2.7"/><circle cx="460.7" cy="287.7" r="3.7"/><circle cx="489.5" cy="122.8" r="2.3"/><circle cx="379.2" cy="222.2" r="3.1"/><circle cx="418.1" cy="86.0" r="3.4"/><circle cx="374.9" cy="180.6" r="3.9"/><circle cx="476.3" cy="82.8" r="2.3"/><circle cx="368.3" cy="229.3" r="3.3"/><circle cx="450.7" cy="168.7" r="3.5"/><circle cx="359.9" cy="266.1" r="3.8"/><circle cx="437.1" cy="283.5" r="3.3"/><circle cx="411.0" cy="144.4" r="3.0"/><circle cx="454.2" cy="113.4" r="3.4"/><circle cx="443.3" cy="167.2" r="4.2"/><circle cx="454.6" cy="251.8" r="2.7"/><circle cx="436.6" cy="293.0" r="4.1"/><circle cx="378.2" cy="133.0" r="3.5"/><circle cx="366.5" cy="171.4" r="3.7"/><circle cx="453.5" cy="127.1" r="2.8"/><circle cx="420.2" cy="237.2" r="4.2"/><circle cx="465.4" cy="201.4" r="4.1"/><circle cx="464.0" cy="291.5" r="3.1"/><circle cx="428.4" cy="292.1" r="4.2"/><circle cx="428.0" cy="156.3" r="3.1"/><circle cx="462.9" cy="246.5" r="3.9"/><circle cx="385.7" cy="105.1" r="3.6"/><circle cx="369.3" cy="182.6" r="3.1"/><circle cx="422.6" cy="204.2" r="3.4"/><circle cx="399.2" cy="199.2" r="4.0"/><circle cx="430.3" cy="166.8" r="4.2"/><circle cx="429.1" cy="260.0" r="4.3"/><circle cx="416.0" cy="233.7" r="3.8"/><circle cx="485.6" cy="276.9" r="4.3"/><circle cx="463.8" cy="93.0" r="4.3"/><circle cx="333.4" cy="212.9" r="2.8"/><circle cx="423.3" cy="260.0" r="3.6"/><circle cx="459.8" cy="93.8" r="3.3"/><circle cx="454.1" cy="287.0" r="3.6"/><circle cx="464.0" cy="166.2" r="3.5"/><circle cx="425.9" cy="203.7" r="3.3"/><circle cx="391.5" cy="90.6" r="2.6"/><circle cx="366.7" cy="237.7" r="3.4"/><circle cx="436.6" cy="232.3" r="4.3"/><circle cx="373.4" cy="184.8" r="3.2"/><circle cx="466.3" cy="101.0" r="3.3"/><circle cx="375.7" cy="184.3" r="4.0"/><circle cx="451.2" cy="230.6" r="3.8"/><circle cx="474.4" cy="257.0" r="2.7"/><circle cx="365.4" cy="266.3" r="3.5"/><circle cx="479.1" cy="134.9" r="3.4"/><circle cx="364.9" cy="273.5" r="3.6"/><circle cx="421.2" cy="103.1" r="4.4"/><circle cx="465.7" cy="145.6" r="3.8"/><circle cx="411.5" cy="100.3" r="3.6"/><circle cx="476.0" cy="129.2" r="4.3"/><circle cx="342.2" cy="256.4" r="4.1"/><circle cx="462.6" cy="287.7" r="3.6"/><circle cx="360.0" cy="135.8" r="2.6"/><circle cx="390.9" cy="127.4" r="2.8"/><circle cx="406.3" cy="244.2" r="3.6"/><circle cx="435.8" cy="173.3" r="4.3"/><circle cx="457.2" cy="216.5" r="3.8"/><circle cx="438.4" cy="138.8" r="2.7"/><circle cx="418.8" cy="97.2" r="4.2"/><circle cx="451.5" cy="245.8" r="3.9"/><circle cx="401.7" cy="192.3" r="3.7"/><circle cx="359.2" cy="264.3" r="2.8"/><circle cx="435.3" cy="109.4" r="3.4"/><circle cx="487.5" cy="263.4" r="3.7"/><circle cx="480.6" cy="133.3" r="3.2"/><circle cx="470.5" cy="196.3" r="3.4"/><circle cx="399.6" cy="211.0" r="3.2"/><circle cx="442.1" cy="100.5" r="3.3"/><circle cx="379.1" cy="179.8" r="4.4"/><circle cx="381.4" cy="192.8" r="4.3"/><circle cx="455.5" cy="110.4" r="3.1"/><circle cx="415.6" cy="182.6" r="2.9"/><circle cx="420.1" cy="123.7" r="2.6"/><circle cx="420.7" cy="246.8" r="4.4"/><circle cx="375.7" cy="153.3" r="3.2"/><circle cx="406.7" cy="191.9" r="3.3"/><circle cx="456.1" cy="298.8" r="3.5"/><circle cx="349.5" cy="254.8" r="3.9"/><circle cx="445.6" cy="212.4" r="3.8"/><circle cx="458.6" cy="208.1" r="2.9"/><circle cx="459.3" cy="122.3" r="4.0"/><circle cx="470.6" cy="92.3" r="3.7"/><circle cx="453.9" cy="117.1" r="3.7"/><circle cx="396.4" cy="273.2" r="3.1"/><circle cx="463.3" cy="236.6" r="3.6"/><circle cx="393.6" cy="87.4" r="2.8"/><circle cx="428.8" cy="215.6" r="3.0"/><circle cx="434.8" cy="206.5" r="3.2"/><circle cx="427.8" cy="238.9" r="3.9"/><circle cx="476.5" cy="230.7" r="3.8"/><circle cx="375.4" cy="172.6" r="4.4"/><circle cx="397.9" cy="104.0" r="4.3"/><circle cx="474.6" cy="263.2" r="3.7"/><circle cx="458.8" cy="148.0" r="2.8"/><circle cx="367.7" cy="124.3" r="3.5"/><circle cx="396.3" cy="257.2" r="3.5"/><circle cx="464.1" cy="208.7" r="3.4"/><circle cx="463.8" cy="274.5" r="4.3"/><circle cx="347.7" cy="230.6" r="2.9"/><circle cx="451.7" cy="188.3" r="4.3"/><circle cx="431.8" cy="145.8" r="3.6"/><circle cx="479.2" cy="245.8" r="2.8"/><circle cx="355.8" cy="244.8" r="4.3"/><circle cx="477.4" cy="112.3" r="3.1"/><circle cx="351.3" cy="169.0" r="4.3"/><circle cx="399.9" cy="147.6" r="4.0"/><circle cx="466.4" cy="190.9" r="4.3"/><circle cx="438.6" cy="163.5" r="2.9"/><circle cx="454.5" cy="257.2" r="2.8"/><circle cx="394.5" cy="253.9" r="4.0"/><circle cx="421.3" cy="267.7" r="3.5"/><circle cx="394.9" cy="118.1" r="3.0"/><circle cx="478.3" cy="287.1" r="4.3"/><circle cx="335.3" cy="220.5" r="2.7"/><circle cx="471.0" cy="106.9" r="4.2"/><circle cx="463.7" cy="86.7" r="3.3"/><circle cx="391.7" cy="92.8" r="3.1"/><circle cx="357.8" cy="229.3" r="3.9"/><circle cx="459.8" cy="165.5" r="3.8"/><circle cx="355.9" cy="233.2" r="3.7"/><circle cx="401.1" cy="254.5" r="2.9"/><circle cx="339.6" cy="220.2" r="3.3"/><circle cx="417.2" cy="180.2" r="3.6"/><circle cx="369.8" cy="258.8" r="3.8"/><circle cx="427.7" cy="177.4" r="3.0"/><circle cx="397.5" cy="235.4" r="4.3"/><circle cx="441.2" cy="248.6" r="3.7"/><circle cx="369.9" cy="266.0" r="3.4"/><circle cx="424.3" cy="107.2" r="3.2"/><circle cx="489.3" cy="270.4" r="3.1"/><circle cx="362.3" cy="190.5" r="3.5"/><circle cx="428.9" cy="79.5" r="3.6"/><circle cx="372.5" cy="144.5" r="3.9"/><circle cx="446.8" cy="109.6" r="3.4"/><circle cx="402.3" cy="186.9" r="4.1"/><circle cx="475.7" cy="266.5" r="3.4"/><circle cx="372.7" cy="272.5" r="3.3"/><circle cx="390.6" cy="191.5" r="3.6"/><circle cx="373.9" cy="240.0" r="4.2"/><circle cx="367.2" cy="203.5" r="4.2"/><circle cx="432.5" cy="277.3" r="3.9"/><circle cx="422.6" cy="229.0" r="3.6"/><circle cx="440.6" cy="282.0" r="2.8"/><circle cx="435.5" cy="183.9" r="3.6"/><circle cx="355.8" cy="183.1" r="2.7"/><circle cx="407.1" cy="249.2" r="4.4"/><circle cx="412.8" cy="249.1" r="3.3"/><circle cx="447.8" cy="125.9" r="3.1"/><circle cx="355.3" cy="171.2" r="4.2"/><circle cx="370.4" cy="219.8" r="3.1"/><circle cx="380.1" cy="258.5" r="4.3"/><circle cx="411.0" cy="83.9" r="3.4"/><circle cx="365.4" cy="188.8" r="2.8"/><circle cx="435.6" cy="112.3" r="3.4"/><circle cx="460.0" cy="177.8" r="3.6"/><circle cx="445.6" cy="243.4" r="3.2"/><circle cx="404.7" cy="241.1" r="3.6"/><circle cx="456.0" cy="189.1" r="3.6"/><circle cx="356.9" cy="211.2" r="2.7"/><circle cx="376.6" cy="100.1" r="2.3"/><circle cx="424.0" cy="168.6" r="2.8"/><circle cx="438.2" cy="300.3" r="3.0"/><circle cx="414.9" cy="167.5" r="4.2"/><circle cx="467.1" cy="137.7" r="4.0"/><circle cx="381.8" cy="119.5" r="4.4"/><circle cx="356.0" cy="206.4" r="4.1"/><circle cx="345.5" cy="161.4" r="2.7"/><circle cx="471.8" cy="136.2" r="3.3"/><circle cx="451.6" cy="110.8" r="4.2"/><circle cx="446.3" cy="107.1" r="2.6"/><circle cx="450.8" cy="277.5" r="2.7"/><circle cx="458.6" cy="91.0" r="3.0"/><circle cx="344.8" cy="175.2" r="4.0"/><circle cx="413.1" cy="85.8" r="3.1"/><circle cx="472.5" cy="173.1" r="4.0"/><circle cx="486.1" cy="122.2" r="2.8"/><circle cx="404.8" cy="98.3" r="3.0"/><circle cx="413.6" cy="131.6" r="3.1"/><circle cx="463.6" cy="217.5" r="3.9"/><circle cx="475.3" cy="89.3" r="4.1"/><circle cx="374.9" cy="173.6" r="4.1"/><circle cx="350.1" cy="248.8" r="3.6"/><circle cx="443.6" cy="138.3" r="3.4"/><circle cx="436.7" cy="100.1" r="4.0"/><circle cx="454.4" cy="207.1" r="2.9"/><circle cx="447.4" cy="150.1" r="3.5"/><circle cx="371.6" cy="231.7" r="4.2"/><circle cx="492.9" cy="109.3" r="3.6"/><circle cx="470.7" cy="264.7" r="3.4"/><circle cx="481.4" cy="278.0" r="2.8"/><circle cx="402.0" cy="96.4" r="3.3"/><circle cx="375.3" cy="154.4" r="2.7"/><circle cx="410.9" cy="241.3" r="3.6"/><circle cx="382.8" cy="171.3" r="4.0"/><circle cx="396.0" cy="187.6" r="3.9"/><circle cx="478.3" cy="146.5" r="3.1"/><circle cx="475.5" cy="272.9" r="3.4"/><circle cx="432.2" cy="217.1" r="4.3"/><circle cx="474.1" cy="210.0" r="3.6"/><circle cx="380.0" cy="197.3" r="3.8"/><circle cx="341.1" cy="191.1" r="2.9"/><circle cx="472.4" cy="110.6" r="3.2"/><circle cx="390.3" cy="248.4" r="2.6"/><circle cx="470.5" cy="234.1" r="4.2"/><circle cx="445.1" cy="193.8" r="3.2"/><circle cx="404.8" cy="90.9" r="3.1"/><circle cx="418.8" cy="216.1" r="2.9"/><circle cx="371.7" cy="150.3" r="3.1"/><circle cx="467.6" cy="227.7" r="3.3"/><circle cx="408.8" cy="200.5" r="3.5"/><circle cx="371.8" cy="136.0" r="2.7"/><circle cx="446.3" cy="188.3" r="3.8"/><circle cx="351.4" cy="149.7" r="4.1"/><circle cx="421.8" cy="238.3" r="2.9"/><circle cx="360.5" cy="224.8" r="3.1"/><circle cx="446.7" cy="278.5" r="4.3"/><circle cx="424.7" cy="77.8" r="4.4"/><circle cx="478.6" cy="107.2" r="3.7"/><circle cx="421.2" cy="94.8" r="3.5"/><circle cx="441.4" cy="141.0" r="4.0"/><circle cx="449.9" cy="303.8" r="3.0"/><circle cx="436.2" cy="199.6" r="3.6"/><circle cx="474.8" cy="196.3" r="4.1"/><circle cx="343.9" cy="210.2" r="3.8"/><circle cx="409.9" cy="200.3" r="3.3"/><circle cx="433.0" cy="100.1" r="3.1"/><circle cx="456.9" cy="294.6" r="3.7"/><circle cx="375.8" cy="223.3" r="3.8"/><circle cx="386.7" cy="179.7" r="3.4"/><circle cx="416.8" cy="149.4" r="2.7"/><circle cx="443.6" cy="289.5" r="3.3"/><circle cx="454.5" cy="220.8" r="3.3"/><circle cx="435.3" cy="167.0" r="3.6"/><circle cx="407.9" cy="75.3" r="2.7"/><circle cx="455.7" cy="201.6" r="3.2"/><circle cx="466.0" cy="274.0" r="4.3"/><circle cx="357.6" cy="260.5" r="3.5"/><circle cx="438.8" cy="259.3" r="4.0"/><circle cx="344.0" cy="228.4" r="4.0"/><circle cx="450.2" cy="224.7" r="3.7"/><circle cx="357.5" cy="251.1" r="3.7"/><circle cx="400.1" cy="272.9" r="2.8"/><circle cx="415.7" cy="215.9" r="3.3"/><circle cx="460.2" cy="302.3" r="3.1"/><circle cx="391.0" cy="223.1" r="2.9"/><circle cx="498.6" cy="112.2" r="2.6"/><circle cx="443.4" cy="148.7" r="3.8"/><circle cx="387.1" cy="205.2" r="3.2"/><circle cx="363.7" cy="163.2" r="3.9"/><circle cx="338.8" cy="197.6" r="3.5"/><circle cx="434.9" cy="209.1" r="3.9"/><circle cx="358.7" cy="235.9" r="3.2"/><circle cx="428.0" cy="180.6" r="4.3"/><circle cx="357.2" cy="253.3" r="3.4"/><circle cx="457.1" cy="253.3" r="3.1"/><circle cx="378.8" cy="181.8" r="4.1"/><circle cx="386.0" cy="192.5" r="3.6"/><circle cx="380.1" cy="136.9" r="2.9"/><circle cx="381.0" cy="233.4" r="2.8"/><circle cx="443.2" cy="264.6" r="3.5"/><circle cx="362.9" cy="251.9" r="4.2"/><circle cx="421.6" cy="209.9" r="4.1"/><circle cx="488.2" cy="258.9" r="2.7"/><circle cx="379.8" cy="111.4" r="2.6"/><circle cx="461.2" cy="162.5" r="3.0"/><circle cx="480.3" cy="93.3" r="3.1"/><circle cx="433.8" cy="233.2" r="3.1"/><circle cx="348.5" cy="163.4" r="3.2"/><circle cx="344.0" cy="222.3" r="3.3"/><circle cx="425.2" cy="172.7" r="4.2"/><circle cx="459.8" cy="257.8" r="3.9"/><circle cx="371.9" cy="113.4" r="2.9"/><circle cx="364.4" cy="221.9" r="3.1"/><circle cx="346.4" cy="224.2" r="2.7"/><circle cx="384.0" cy="238.0" r="3.0"/><circle cx="364.4" cy="155.1" r="4.2"/><circle cx="370.3" cy="213.4" r="4.0"/><circle cx="369.6" cy="210.1" r="4.4"/><circle cx="431.3" cy="277.4" r="3.9"/><circle cx="408.8" cy="155.1" r="4.0"/><circle cx="476.6" cy="261.7" r="4.0"/><circle cx="459.5" cy="187.0" r="3.6"/><circle cx="453.4" cy="265.9" r="2.9"/><circle cx="417.8" cy="139.8" r="3.6"/><circle cx="349.7" cy="161.2" r="3.0"/><circle cx="386.3" cy="97.7" r="3.1"/><circle cx="457.1" cy="148.3" r="3.3"/><circle cx="483.6" cy="108.8" r="4.1"/><circle cx="446.0" cy="247.5" r="3.7"/><circle cx="363.6" cy="239.5" r="3.6"/><circle cx="457.4" cy="112.2" r="4.2"/><circle cx="429.2" cy="123.5" r="3.1"/><circle cx="442.4" cy="187.1" r="3.6"/><circle cx="422.0" cy="188.3" r="3.5"/><circle cx="441.4" cy="287.0" r="3.1"/><circle cx="434.8" cy="127.9" r="4.2"/><circle cx="383.6" cy="264.8" r="3.9"/><circle cx="402.5" cy="125.3" r="2.8"/><circle cx="417.2" cy="266.1" r="2.7"/><circle cx="442.3" cy="216.0" r="2.9"/><circle cx="450.6" cy="241.8" r="3.2"/><circle cx="469.3" cy="84.9" r="4.3"/><circle cx="383.8" cy="251.3" r="4.4"/><circle cx="459.8" cy="290.2" r="3.3"/><circle cx="375.6" cy="230.8" r="2.7"/><circle cx="423.0" cy="283.5" r="3.3"/><circle cx="452.6" cy="302.3" r="3.1"/><circle cx="405.4" cy="266.6" r="4.0"/><circle cx="459.0" cy="109.6" r="3.1"/><circle cx="424.1" cy="175.1" r="3.6"/><circle cx="384.5" cy="128.9" r="4.3"/><circle cx="351.4" cy="263.3" r="3.0"/><circle cx="365.9" cy="215.3" r="2.8"/><circle cx="476.5" cy="252.7" r="4.0"/><circle cx="402.8" cy="169.5" r="3.0"/><circle cx="392.5" cy="249.4" r="3.2"/><circle cx="399.5" cy="259.0" r="2.8"/><circle cx="417.1" cy="240.1" r="2.7"/><circle cx="472.7" cy="248.8" r="4.3"/><circle cx="414.2" cy="80.4" r="2.8"/><circle cx="341.7" cy="223.5" r="2.9"/><circle cx="339.0" cy="236.2" r="2.3"/><circle cx="418.1" cy="124.4" r="3.6"/><circle cx="475.8" cy="179.5" r="2.5"/><circle cx="467.9" cy="131.7" r="3.3"/><circle cx="460.8" cy="249.1" r="3.9"/><circle cx="437.1" cy="170.8" r="3.6"/><circle cx="475.3" cy="144.7" r="3.5"/><circle cx="414.0" cy="214.4" r="3.2"/><circle cx="473.2" cy="169.7" r="4.4"/><circle cx="470.0" cy="258.7" r="3.6"/><circle cx="396.4" cy="265.1" r="4.3"/><circle cx="452.7" cy="122.5" r="3.3"/><circle cx="456.7" cy="213.5" r="4.2"/><circle cx="363.6" cy="195.9" r="3.4"/><circle cx="457.8" cy="144.8" r="3.7"/><circle cx="451.4" cy="216.0" r="3.7"/><circle cx="373.2" cy="238.0" r="2.9"/><circle cx="415.0" cy="229.1" r="4.0"/><circle cx="435.4" cy="230.2" r="3.3"/><circle cx="363.2" cy="170.5" r="2.6"/><circle cx="450.5" cy="113.0" r="2.8"/><circle cx="435.0" cy="223.4" r="3.2"/><circle cx="476.1" cy="119.3" r="2.9"/><circle cx="357.8" cy="162.4" r="3.8"/><circle cx="454.1" cy="125.1" r="2.9"/><circle cx="443.6" cy="158.9" r="4.4"/><circle cx="424.5" cy="156.4" r="3.1"/><circle cx="381.0" cy="261.9" r="3.9"/><circle cx="380.6" cy="117.4" r="4.2"/><circle cx="371.8" cy="180.0" r="3.2"/><circle cx="386.5" cy="150.8" r="4.1"/><circle cx="429.7" cy="130.7" r="2.6"/><circle cx="384.2" cy="183.0" r="4.2"/><circle cx="361.4" cy="175.0" r="2.8"/><circle cx="357.7" cy="155.2" r="3.2"/><circle cx="392.1" cy="135.8" r="3.8"/><circle cx="459.5" cy="234.6" r="4.1"/><circle cx="394.0" cy="218.2" r="4.0"/><circle cx="396.5" cy="144.1" r="3.6"/><circle cx="460.8" cy="111.8" r="3.4"/><circle cx="451.9" cy="145.6" r="4.1"/><circle cx="395.0" cy="140.5" r="3.2"/><circle cx="349.6" cy="251.0" r="3.9"/><circle cx="432.4" cy="112.9" r="4.0"/><circle cx="452.6" cy="187.0" r="2.7"/><circle cx="340.4" cy="261.6" r="2.7"/><circle cx="446.5" cy="236.4" r="3.3"/><circle cx="481.8" cy="112.9" r="4.3"/><circle cx="357.7" cy="178.0" r="3.3"/><circle cx="342.5" cy="237.1" r="4.0"/><circle cx="384.6" cy="222.4" r="3.0"/><circle cx="350.8" cy="172.0" r="2.9"/><circle cx="474.5" cy="117.9" r="4.3"/><circle cx="433.0" cy="118.8" r="3.7"/><circle cx="464.3" cy="304.4" r="3.2"/><circle cx="393.1" cy="96.9" r="2.8"/><circle cx="468.0" cy="124.9" r="3.1"/><circle cx="388.7" cy="141.8" r="2.8"/><circle cx="414.1" cy="73.9" r="3.1"/><circle cx="397.1" cy="81.4" r="3.2"/><circle cx="350.9" cy="244.9" r="3.3"/><circle cx="469.4" cy="158.4" r="3.7"/><circle cx="475.1" cy="235.9" r="3.6"/><circle cx="485.5" cy="96.7" r="3.4"/><circle cx="392.6" cy="111.7" r="4.0"/><circle cx="448.4" cy="157.7" r="4.4"/><circle cx="478.7" cy="199.5" r="2.9"/><circle cx="431.8" cy="256.4" r="3.4"/><circle cx="465.5" cy="96.3" r="3.8"/><circle cx="410.5" cy="111.1" r="3.1"/><circle cx="378.5" cy="214.3" r="3.0"/><circle cx="351.3" cy="230.3" r="3.5"/><circle cx="432.6" cy="181.5" r="4.2"/><circle cx="432.0" cy="242.3" r="3.1"/><circle cx="420.1" cy="88.7" r="3.6"/><circle cx="405.1" cy="169.0" r="3.3"/><circle cx="426.6" cy="85.4" r="3.1"/><circle cx="463.1" cy="257.1" r="3.2"/><circle cx="390.1" cy="204.0" r="2.8"/><circle cx="483.5" cy="142.1" r="3.1"/><circle cx="420.6" cy="110.3" r="3.7"/><circle cx="419.5" cy="243.9" r="2.9"/><circle cx="418.9" cy="277.8" r="4.2"/><circle cx="420.1" cy="162.0" r="2.8"/><circle cx="428.5" cy="274.3" r="3.4"/><circle cx="471.7" cy="214.5" r="2.7"/><circle cx="371.8" cy="200.1" r="4.2"/><circle cx="428.8" cy="118.1" r="3.2"/><circle cx="403.4" cy="85.8" r="3.7"/><circle cx="429.4" cy="270.4" r="4.2"/><circle cx="419.1" cy="264.1" r="4.2"/><circle cx="351.1" cy="251.3" r="3.4"/><circle cx="419.6" cy="83.2" r="3.9"/><circle cx="345.2" cy="241.5" r="3.9"/><circle cx="470.6" cy="206.2" r="4.1"/><circle cx="420.1" cy="230.0" r="3.2"/><circle cx="351.7" cy="216.6" r="4.0"/><circle cx="399.9" cy="134.5" r="3.0"/><circle cx="457.4" cy="141.2" r="4.0"/><circle cx="370.4" cy="274.6" r="3.0"/><circle cx="482.8" cy="287.1" r="2.7"/><circle cx="406.2" cy="240.2" r="3.4"/><circle cx="408.5" cy="160.5" r="3.0"/><circle cx="469.7" cy="144.3" r="2.9"/><circle cx="398.0" cy="206.8" r="2.6"/><circle cx="371.8" cy="104.9" r="3.2"/><circle cx="360.0" cy="212.7" r="4.1"/><circle cx="345.8" cy="184.3" r="4.4"/><circle cx="445.6" cy="157.6" r="4.3"/><circle cx="350.1" cy="223.2" r="2.8"/><circle cx="376.4" cy="115.6" r="2.9"/><circle cx="441.4" cy="211.0" r="2.8"/><circle cx="449.7" cy="209.4" r="4.2"/><circle cx="425.9" cy="102.4" r="4.3"/><circle cx="431.3" cy="100.1" r="4.3"/><circle cx="381.3" cy="247.1" r="3.5"/><circle cx="406.0" cy="121.4" r="3.3"/><circle cx="452.5" cy="104.1" r="3.0"/><circle cx="480.1" cy="234.3" r="3.5"/><circle cx="410.7" cy="243.8" r="3.1"/><circle cx="416.7" cy="225.7" r="3.1"/><circle cx="364.1" cy="252.6" r="3.3"/><circle cx="351.6" cy="208.6" r="3.7"/><circle cx="424.1" cy="262.9" r="2.7"/><circle cx="413.4" cy="206.2" r="3.4"/><circle cx="437.0" cy="272.7" r="3.7"/><circle cx="460.9" cy="155.0" r="3.3"/><circle cx="487.3" cy="118.7" r="2.9"/><circle cx="419.2" cy="117.8" r="2.9"/><circle cx="376.3" cy="109.2" r="3.3"/><circle cx="338.6" cy="177.8" r="3.5"/><circle cx="446.6" cy="284.9" r="4.1"/><circle cx="441.2" cy="237.1" r="4.1"/><circle cx="436.4" cy="131.4" r="4.0"/><circle cx="355.0" cy="225.3" r="3.3"/><circle cx="463.7" cy="298.6" r="2.8"/><circle cx="416.7" cy="194.6" r="4.0"/><circle cx="397.5" cy="139.4" r="3.9"/><circle cx="398.4" cy="213.4" r="3.8"/><circle cx="436.3" cy="250.5" r="2.8"/><circle cx="388.7" cy="162.7" r="3.5"/><circle cx="436.0" cy="190.9" r="4.2"/><circle cx="373.8" cy="115.7" r="2.7"/><circle cx="381.7" cy="173.3" r="4.0"/><circle cx="386.8" cy="234.7" r="3.3"/><circle cx="430.9" cy="150.2" r="3.0"/><circle cx="408.6" cy="260.2" r="4.2"/><circle cx="338.7" cy="180.9" r="3.6"/><circle cx="450.7" cy="164.9" r="3.9"/><circle cx="435.6" cy="285.7" r="3.2"/><circle cx="437.7" cy="256.4" r="3.1"/><circle cx="450.5" cy="169.9" r="3.3"/><circle cx="439.1" cy="213.1" r="2.7"/><circle cx="408.4" cy="117.2" r="2.6"/><circle cx="463.7" cy="184.7" r="2.8"/><circle cx="364.6" cy="224.8" r="4.1"/><circle cx="470.1" cy="199.9" r="2.8"/><circle cx="460.0" cy="132.9" r="4.4"/><circle cx="451.9" cy="253.8" r="2.9"/><circle cx="367.4" cy="152.9" r="3.2"/><circle cx="435.2" cy="176.9" r="3.8"/><circle cx="352.6" cy="202.5" r="3.5"/><circle cx="399.1" cy="254.6" r="3.9"/><circle cx="444.1" cy="229.1" r="2.7"/><circle cx="427.5" cy="175.3" r="3.5"/><circle cx="386.8" cy="103.8" r="3.0"/><circle cx="460.9" cy="258.6" r="3.5"/><circle cx="403.9" cy="174.9" r="3.6"/><circle cx="383.6" cy="243.6" r="4.2"/><circle cx="467.2" cy="246.5" r="3.0"/><circle cx="428.3" cy="144.1" r="3.2"/><circle cx="354.1" cy="187.6" r="3.4"/><circle cx="372.6" cy="160.1" r="2.8"/><circle cx="389.2" cy="217.6" r="3.4"/><circle cx="401.5" cy="262.0" r="3.4"/><circle cx="469.6" cy="122.5" r="3.6"/><circle cx="389.4" cy="209.6" r="3.7"/><circle cx="384.3" cy="116.2" r="3.6"/><circle cx="490.3" cy="119.0" r="3.9"/><circle cx="371.8" cy="124.8" r="3.5"/><circle cx="396.7" cy="183.7" r="4.4"/><circle cx="389.6" cy="227.4" r="3.4"/><circle cx="408.2" cy="206.3" r="3.4"/><circle cx="383.0" cy="236.4" r="3.8"/><circle cx="376.3" cy="214.8" r="4.1"/><circle cx="381.5" cy="195.8" r="4.1"/><circle cx="409.6" cy="122.0" r="4.1"/><circle cx="399.6" cy="252.8" r="3.5"/><circle cx="377.6" cy="195.5" r="3.9"/><circle cx="427.5" cy="208.7" r="4.2"/><circle cx="381.5" cy="148.9" r="4.3"/><circle cx="371.7" cy="147.5" r="3.4"/><circle cx="441.3" cy="299.3" r="3.9"/><circle cx="456.4" cy="271.7" r="3.6"/><circle cx="434.7" cy="242.2" r="3.1"/><circle cx="449.6" cy="107.3" r="3.5"/><circle cx="427.5" cy="161.4" r="4.3"/><circle cx="414.9" cy="269.6" r="3.3"/><circle cx="448.0" cy="272.8" r="4.1"/><circle cx="448.0" cy="250.9" r="3.1"/><circle cx="448.9" cy="214.6" r="4.2"/><circle cx="365.3" cy="229.4" r="3.7"/><circle cx="463.9" cy="263.5" r="2.7"/><circle cx="431.2" cy="161.1" r="2.6"/><circle cx="481.9" cy="146.0" r="2.7"/><circle cx="360.9" cy="234.3" r="4.3"/><circle cx="417.0" cy="75.5" r="3.3"/><circle cx="417.0" cy="207.6" r="3.4"/><circle cx="369.8" cy="235.6" r="3.6"/><circle cx="397.5" cy="166.8" r="2.6"/><circle cx="354.9" cy="248.6" r="2.7"/><circle cx="354.2" cy="207.6" r="2.7"/><circle cx="371.1" cy="170.4" r="2.6"/><circle cx="467.1" cy="198.6" r="3.8"/><circle cx="397.0" cy="264.6" r="3.7"/><circle cx="478.3" cy="241.7" r="3.5"/><circle cx="357.5" cy="169.1" r="4.3"/><circle cx="373.5" cy="127.6" r="3.7"/><circle cx="384.5" cy="254.7" r="3.0"/><circle cx="385.0" cy="225.2" r="3.4"/><circle cx="438.2" cy="309.5" r="2.2"/><circle cx="384.0" cy="110.1" r="4.1"/><circle cx="370.4" cy="167.1" r="3.6"/><circle cx="431.8" cy="267.4" r="3.6"/><circle cx="456.3" cy="299.2" r="3.1"/><circle cx="340.4" cy="216.7" r="4.1"/><circle cx="368.4" cy="256.1" r="3.1"/><circle cx="392.6" cy="229.5" r="3.0"/><circle cx="416.4" cy="156.0" r="3.9"/><circle cx="466.8" cy="183.5" r="2.9"/><circle cx="410.2" cy="94.4" r="3.0"/><circle cx="479.3" cy="194.7" r="3.2"/><circle cx="373.5" cy="109.4" r="3.4"/><circle cx="446.4" cy="257.1" r="4.1"/><circle cx="387.5" cy="266.3" r="4.0"/><circle cx="485.6" cy="252.8" r="3.0"/><circle cx="359.0" cy="249.3" r="2.6"/><circle cx="401.1" cy="272.1" r="3.0"/><circle cx="456.3" cy="106.0" r="2.8"/><circle cx="406.0" cy="237.6" r="2.8"/><circle cx="434.3" cy="152.4" r="3.2"/><circle cx="476.4" cy="87.9" r="3.8"/><circle cx="380.5" cy="153.0" r="4.3"/><circle cx="452.6" cy="167.8" r="4.2"/><circle cx="405.8" cy="150.0" r="3.0"/><circle cx="399.7" cy="159.3" r="3.9"/><circle cx="439.7" cy="151.0" r="4.4"/><circle cx="401.1" cy="80.8" r="4.3"/><circle cx="446.5" cy="175.7" r="4.4"/><circle cx="413.9" cy="160.4" r="3.3"/><circle cx="392.2" cy="126.5" r="4.3"/><circle cx="337.2" cy="192.8" r="3.9"/><circle cx="389.4" cy="199.4" r="3.2"/><circle cx="404.5" cy="118.3" r="4.1"/><circle cx="419.7" cy="273.8" r="3.9"/><circle cx="420.0" cy="180.0" r="3.7"/><circle cx="410.4" cy="77.1" r="2.7"/><circle cx="370.0" cy="205.8" r="3.3"/><circle cx="425.8" cy="134.8" r="3.6"/><circle cx="401.0" cy="211.9" r="2.7"/><circle cx="474.0" cy="148.2" r="2.8"/><circle cx="437.7" cy="192.8" r="4.2"/><circle cx="415.8" cy="121.2" r="3.4"/><circle cx="420.3" cy="113.7" r="4.2"/><circle cx="406.9" cy="214.5" r="3.1"/><circle cx="479.6" cy="141.8" r="2.9"/><circle cx="418.4" cy="107.2" r="3.7"/><circle cx="400.5" cy="179.2" r="3.9"/><circle cx="468.3" cy="161.7" r="3.7"/><circle cx="501.2" cy="112.6" r="3.5"/><circle cx="449.0" cy="267.9" r="4.3"/><circle cx="458.4" cy="221.0" r="3.8"/><circle cx="400.4" cy="165.5" r="3.8"/><circle cx="363.9" cy="262.0" r="2.7"/><circle cx="342.0" cy="178.0" r="2.8"/><circle cx="346.4" cy="217.5" r="3.0"/><circle cx="461.8" cy="136.2" r="2.8"/><circle cx="485.7" cy="276.1" r="4.0"/><circle cx="458.3" cy="136.4" r="4.3"/><circle cx="452.2" cy="303.8" r="4.1"/><circle cx="439.8" cy="146.6" r="2.7"/><circle cx="401.7" cy="183.9" r="3.8"/><circle cx="359.6" cy="220.8" r="2.7"/><circle cx="426.3" cy="268.3" r="4.0"/><circle cx="406.6" cy="125.5" r="3.3"/><circle cx="344.3" cy="171.2" r="4.1"/><circle cx="474.2" cy="97.7" r="4.3"/><circle cx="347.4" cy="193.4" r="3.5"/><circle cx="428.1" cy="122.2" r="3.1"/><circle cx="353.7" cy="269.8" r="3.7"/><circle cx="424.7" cy="83.4" r="4.2"/><circle cx="391.2" cy="150.4" r="3.8"/><circle cx="456.3" cy="260.9" r="2.7"/><circle cx="476.9" cy="212.5" r="3.0"/><circle cx="363.0" cy="228.5" r="3.5"/><circle cx="363.2" cy="187.9" r="3.1"/><circle cx="408.5" cy="214.6" r="2.6"/><circle cx="340.2" cy="249.7" r="2.8"/><circle cx="405.6" cy="162.5" r="3.5"/><circle cx="343.0" cy="200.0" r="4.1"/><circle cx="378.9" cy="173.4" r="3.0"/><circle cx="381.5" cy="207.8" r="3.7"/><circle cx="389.1" cy="187.6" r="4.2"/><circle cx="432.8" cy="299.0" r="2.7"/><circle cx="468.2" cy="177.6" r="4.1"/><circle cx="476.3" cy="189.1" r="2.3"/><circle cx="361.5" cy="182.5" r="3.5"/><circle cx="386.2" cy="121.5" r="3.8"/><circle cx="473.1" cy="296.9" r="2.9"/><circle cx="476.1" cy="94.5" r="3.4"/><circle cx="403.6" cy="156.8" r="3.7"/><circle cx="367.2" cy="212.0" r="4.2"/><circle cx="343.1" cy="205.3" r="4.2"/><circle cx="458.4" cy="206.3" r="3.9"/><circle cx="337.9" cy="226.5" r="3.5"/><circle cx="370.4" cy="131.8" r="4.3"/><circle cx="374.8" cy="254.2" r="3.3"/><circle cx="456.4" cy="93.7" r="3.3"/><circle cx="438.7" cy="108.7" r="3.0"/><circle cx="396.0" cy="113.8" r="3.6"/><circle cx="433.8" cy="85.1" r="2.8"/><circle cx="439.5" cy="130.7" r="3.7"/><circle cx="395.0" cy="163.8" r="3.2"/><circle cx="417.0" cy="138.5" r="3.6"/><circle cx="367.3" cy="145.0" r="3.4"/><circle cx="422.2" cy="232.7" r="3.8"/><circle cx="460.4" cy="192.8" r="3.2"/><circle cx="431.2" cy="205.3" r="3.0"/><circle cx="434.3" cy="169.3" r="3.8"/><circle cx="437.6" cy="264.8" r="4.2"/><circle cx="471.4" cy="268.6" r="3.6"/><circle cx="428.7" cy="91.0" r="3.5"/><circle cx="444.5" cy="251.0" r="3.5"/><circle cx="384.6" cy="269.1" r="3.9"/><circle cx="413.2" cy="196.8" r="2.8"/><circle cx="414.5" cy="259.4" r="3.5"/><circle cx="439.2" cy="98.9" r="3.3"/><circle cx="457.1" cy="157.6" r="3.4"/><circle cx="410.5" cy="182.1" r="3.6"/><circle cx="396.0" cy="188.2" r="3.4"/><circle cx="474.8" cy="276.5" r="4.0"/><circle cx="484.8" cy="265.3" r="4.0"/><circle cx="333.6" cy="188.5" r="3.1"/><circle cx="465.3" cy="258.8" r="4.0"/><circle cx="358.8" cy="271.7" r="2.7"/><circle cx="391.6" cy="133.1" r="3.9"/><circle cx="442.0" cy="104.9" r="3.6"/><circle cx="370.2" cy="261.3" r="4.0"/><circle cx="378.4" cy="162.4" r="3.4"/><circle cx="392.5" cy="174.5" r="4.4"/><circle cx="473.8" cy="202.7" r="2.8"/><circle cx="385.1" cy="191.1" r="2.8"/><circle cx="335.4" cy="202.7" r="3.0"/><circle cx="414.6" cy="128.5" r="4.3"/><circle cx="425.6" cy="195.2" r="3.0"/><circle cx="384.8" cy="144.9" r="4.3"/><circle cx="479.7" cy="133.8" r="3.9"/><circle cx="386.5" cy="147.8" r="2.7"/><circle cx="461.3" cy="203.6" r="3.7"/><circle cx="435.3" cy="126.3" r="4.3"/><circle cx="413.5" cy="187.4" r="4.4"/><circle cx="359.0" cy="193.4" r="2.8"/><circle cx="418.0" cy="250.1" r="2.9"/><circle cx="426.4" cy="197.9" r="3.5"/><circle cx="441.4" cy="192.0" r="3.0"/><circle cx="448.8" cy="136.1" r="2.6"/><circle cx="420.9" cy="224.6" r="2.8"/><circle cx="357.6" cy="151.5" r="4.2"/><circle cx="461.3" cy="252.1" r="3.4"/><circle cx="433.7" cy="271.7" r="4.0"/><circle cx="374.2" cy="114.2" r="2.9"/><circle cx="440.5" cy="295.5" r="3.4"/><circle cx="463.3" cy="122.8" r="4.2"/><circle cx="425.9" cy="247.1" r="3.4"/><circle cx="470.4" cy="244.0" r="3.5"/><circle cx="463.0" cy="125.5" r="3.2"/><circle cx="368.9" cy="264.3" r="3.3"/><circle cx="363.0" cy="232.2" r="3.9"/><circle cx="422.4" cy="268.9" r="3.1"/><circle cx="391.8" cy="193.1" r="3.9"/><circle cx="402.1" cy="203.7" r="4.0"/><circle cx="473.7" cy="174.9" r="3.5"/><circle cx="451.0" cy="179.3" r="3.3"/><circle cx="423.1" cy="196.4" r="3.1"/><circle cx="398.4" cy="247.2" r="4.2"/><circle cx="467.1" cy="254.0" r="2.8"/><circle cx="485.8" cy="283.2" r="3.7"/><circle cx="425.2" cy="216.7" r="3.5"/><circle cx="466.1" cy="129.1" r="3.9"/><circle cx="397.6" cy="98.0" r="2.8"/><circle cx="400.9" cy="143.7" r="3.1"/><circle cx="390.3" cy="179.6" r="4.3"/><circle cx="396.9" cy="100.2" r="3.3"/><circle cx="375.3" cy="221.7" r="3.2"/><circle cx="434.1" cy="304.0" r="2.7"/><circle cx="389.6" cy="231.4" r="4.1"/><circle cx="373.1" cy="229.2" r="3.0"/><circle cx="430.9" cy="106.6" r="3.9"/><circle cx="470.9" cy="146.4" r="4.0"/><circle cx="406.7" cy="264.1" r="4.0"/><circle cx="353.2" cy="229.0" r="3.9"/><circle cx="396.2" cy="218.8" r="3.0"/><circle cx="385.9" cy="187.2" r="3.2"/><circle cx="441.6" cy="124.2" r="3.2"/><circle cx="417.6" cy="184.1" r="2.8"/><circle cx="384.3" cy="142.1" r="3.9"/><circle cx="384.0" cy="217.7" r="3.8"/><circle cx="379.4" cy="114.0" r="2.6"/><circle cx="452.2" cy="309.2" r="3.2"/><circle cx="391.9" cy="107.1" r="2.7"/><circle cx="424.4" cy="112.7" r="3.5"/><circle cx="396.3" cy="157.9" r="3.9"/><circle cx="421.0" cy="78.2" r="2.8"/><circle cx="423.2" cy="238.9" r="4.2"/><circle cx="382.1" cy="137.2" r="2.8"/><circle cx="392.3" cy="222.8" r="4.2"/><circle cx="441.5" cy="232.8" r="4.3"/><circle cx="369.1" cy="231.7" r="2.9"/><circle cx="462.7" cy="131.0" r="3.6"/><circle cx="458.6" cy="127.6" r="3.1"/><circle cx="463.9" cy="211.4" r="2.7"/><circle cx="477.3" cy="125.0" r="4.2"/><circle cx="396.1" cy="111.2" r="3.0"/><circle cx="452.9" cy="132.3" r="4.1"/><circle cx="472.6" cy="268.5" r="4.3"/><circle cx="384.0" cy="207.7" r="3.1"/><circle cx="409.3" cy="86.7" r="3.8"/><circle cx="440.7" cy="153.7" r="4.2"/><circle cx="456.6" cy="176.1" r="3.8"/><circle cx="390.3" cy="149.5" r="3.4"/><circle cx="370.9" cy="269.2" r="3.7"/><circle cx="436.3" cy="121.9" r="2.7"/><circle cx="455.7" cy="231.0" r="3.5"/><circle cx="439.4" cy="240.9" r="2.6"/><circle cx="421.9" cy="132.4" r="3.2"/><circle cx="398.8" cy="224.5" r="3.4"/><circle cx="437.9" cy="158.7" r="3.7"/><circle cx="414.0" cy="153.5" r="3.8"/><circle cx="468.4" cy="208.5" r="4.3"/><circle cx="451.2" cy="262.1" r="3.6"/><circle cx="382.4" cy="168.7" r="3.9"/><circle cx="463.0" cy="282.5" r="4.3"/><circle cx="468.7" cy="167.0" r="4.4"/><circle cx="398.1" cy="77.6" r="4.3"/><circle cx="485.4" cy="114.1" r="3.8"/><circle cx="412.5" cy="83.4" r="3.4"/><circle cx="378.0" cy="159.2" r="2.7"/><circle cx="456.2" cy="222.6" r="3.6"/><circle cx="392.6" cy="79.5" r="2.3"/><circle cx="414.3" cy="200.8" r="4.3"/><circle cx="434.6" cy="156.3" r="3.3"/><circle cx="430.0" cy="86.0" r="3.8"/><circle cx="428.0" cy="219.9" r="3.6"/><circle cx="466.0" cy="205.4" r="3.4"/><circle cx="346.2" cy="261.0" r="2.6"/><circle cx="450.7" cy="199.0" r="4.3"/><circle cx="375.0" cy="250.4" r="3.6"/><circle cx="422.5" cy="181.3" r="2.7"/><circle cx="419.1" cy="157.5" r="4.0"/><circle cx="391.0" cy="168.1" r="4.0"/><circle cx="468.8" cy="154.4" r="3.7"/><circle cx="404.4" cy="108.5" r="2.7"/><circle cx="417.3" cy="109.9" r="3.8"/><circle cx="457.7" cy="244.4" r="3.8"/><circle cx="429.7" cy="84.9" r="3.4"/><circle cx="428.7" cy="106.4" r="2.6"/><circle cx="432.1" cy="91.1" r="4.1"/><circle cx="375.0" cy="138.6" r="2.9"/><circle cx="399.3" cy="126.2" r="3.2"/><circle cx="465.1" cy="106.0" r="3.1"/><circle cx="418.4" cy="151.9" r="3.4"/><circle cx="403.6" cy="103.4" r="4.3"/><circle cx="421.5" cy="244.9" r="3.6"/><circle cx="415.0" cy="94.1" r="3.7"/><circle cx="371.4" cy="173.9" r="3.5"/><circle cx="394.8" cy="155.2" r="2.6"/><circle cx="452.8" cy="126.4" r="2.9"/><circle cx="403.8" cy="129.2" r="3.9"/><circle cx="412.2" cy="139.7" r="3.4"/><circle cx="333.4" cy="205.7" r="3.1"/><circle cx="407.2" cy="256.8" r="4.3"/><circle cx="414.4" cy="267.8" r="3.2"/><circle cx="470.5" cy="128.0" r="4.1"/><circle cx="388.2" cy="156.7" r="2.8"/><circle cx="378.2" cy="269.8" r="4.0"/><circle cx="353.6" cy="140.3" r="2.4"/><circle cx="438.5" cy="154.9" r="3.6"/><circle cx="401.7" cy="267.0" r="3.9"/><circle cx="445.4" cy="177.2" r="2.9"/><circle cx="368.7" cy="251.6" r="4.3"/><circle cx="433.3" cy="186.5" r="3.8"/><circle cx="418.2" cy="189.9" r="2.6"/><circle cx="415.2" cy="131.8" r="3.7"/><circle cx="492.8" cy="119.5" r="4.2"/><circle cx="432.4" cy="122.2" r="3.2"/><circle cx="389.1" cy="203.0" r="3.9"/><circle cx="464.0" cy="224.7" r="2.6"/><circle cx="479.0" cy="99.7" r="3.7"/><circle cx="399.0" cy="232.3" r="3.7"/><circle cx="376.7" cy="210.2" r="3.6"/><circle cx="454.5" cy="163.2" r="2.7"/><circle cx="438.8" cy="201.3" r="2.7"/><circle cx="397.3" cy="115.8" r="3.3"/><circle cx="436.0" cy="212.3" r="3.1"/><circle cx="383.6" cy="170.8" r="4.3"/><circle cx="439.8" cy="243.9" r="4.2"/><circle cx="451.8" cy="183.6" r="3.1"/><circle cx="473.7" cy="103.9" r="4.3"/><circle cx="387.1" cy="182.2" r="3.3"/><circle cx="396.6" cy="176.1" r="3.8"/><circle cx="458.5" cy="266.6" r="3.6"/><circle cx="468.5" cy="158.8" r="3.8"/><circle cx="465.3" cy="304.5" r="3.1"/><circle cx="433.9" cy="238.3" r="3.1"/><circle cx="366.4" cy="121.2" r="2.6"/><circle cx="399.1" cy="129.6" r="3.1"/><circle cx="475.4" cy="153.2" r="4.0"/><circle cx="446.8" cy="234.1" r="4.1"/><circle cx="388.2" cy="100.9" r="3.8"/><circle cx="363.7" cy="136.8" r="4.1"/><circle cx="468.9" cy="171.0" r="4.0"/><circle cx="349.1" cy="197.9" r="4.3"/><circle cx="372.5" cy="107.3" r="3.4"/><circle cx="393.1" cy="81.3" r="3.7"/><circle cx="469.1" cy="238.4" r="4.3"/><circle cx="426.1" cy="243.9" r="3.9"/><circle cx="360.7" cy="186.6" r="3.8"/><circle cx="373.2" cy="196.6" r="3.2"/><circle cx="414.5" cy="97.8" r="3.6"/><circle cx="444.3" cy="304.9" r="3.0"/><circle cx="481.4" cy="204.2" r="2.9"/><circle cx="377.5" cy="244.6" r="3.4"/><circle cx="406.3" cy="231.0" r="3.6"/><circle cx="359.3" cy="257.6" r="3.1"/><circle cx="392.6" cy="222.5" r="3.6"/><circle cx="413.0" cy="73.2" r="2.7"/><circle cx="440.6" cy="228.8" r="4.3"/><circle cx="395.2" cy="207.9" r="2.9"/><circle cx="455.3" cy="135.9" r="4.0"/><circle cx="386.9" cy="133.3" r="3.7"/><circle cx="443.1" cy="278.9" r="4.3"/><circle cx="352.4" cy="212.5" r="3.3"/><circle cx="447.3" cy="172.6" r="2.8"/><circle cx="348.4" cy="178.7" r="3.6"/><circle cx="432.5" cy="221.1" r="3.6"/><circle cx="421.6" cy="290.2" r="3.6"/><circle cx="461.2" cy="218.8" r="4.0"/><circle cx="436.6" cy="135.0" r="2.9"/><circle cx="465.1" cy="214.1" r="3.7"/><circle cx="477.0" cy="115.4" r="3.8"/><circle cx="484.0" cy="247.9" r="2.9"/><circle cx="474.0" cy="245.5" r="2.6"/><circle cx="374.1" cy="244.8" r="3.8"/><circle cx="497.8" cy="117.0" r="3.4"/><circle cx="451.7" cy="275.0" r="3.2"/><circle cx="401.8" cy="148.8" r="2.7"/><circle cx="400.5" cy="111.7" r="2.9"/><circle cx="464.0" cy="145.8" r="2.9"/><circle cx="434.7" cy="199.8" r="3.1"/><circle cx="356.1" cy="195.3" r="3.5"/><circle cx="432.9" cy="134.6" r="2.8"/><circle cx="399.4" cy="83.8" r="4.3"/><circle cx="465.7" cy="241.9" r="3.2"/><circle cx="371.9" cy="195.6" r="3.1"/><circle cx="448.8" cy="139.8" r="3.8"/><circle cx="424.0" cy="213.7" r="3.8"/><circle cx="458.4" cy="198.0" r="2.8"/><circle cx="365.2" cy="200.1" r="2.6"/><circle cx="393.1" cy="148.3" r="3.2"/><circle cx="377.0" cy="252.2" r="4.0"/><circle cx="428.2" cy="131.9" r="4.0"/><circle cx="421.6" cy="156.9" r="3.0"/><circle cx="426.2" cy="228.3" r="4.4"/><circle cx="387.1" cy="242.9" r="3.8"/><circle cx="434.8" cy="298.6" r="4.2"/><circle cx="373.9" cy="191.5" r="4.1"/><circle cx="422.3" cy="160.8" r="2.8"/><circle cx="446.0" cy="204.6" r="2.7"/><circle cx="441.4" cy="314.5" r="2.8"/><circle cx="479.0" cy="128.6" r="3.6"/><circle cx="427.0" cy="210.8" r="2.6"/><circle cx="394.1" cy="194.6" r="3.7"/><circle cx="461.9" cy="202.8" r="3.9"/><circle cx="410.2" cy="270.8" r="3.4"/><circle cx="412.9" cy="114.3" r="4.3"/><circle cx="449.1" cy="288.1" r="3.2"/><circle cx="456.8" cy="226.7" r="3.1"/><circle cx="454.0" cy="213.8" r="3.1"/><circle cx="477.2" cy="283.4" r="3.2"/><circle cx="393.5" cy="275.2" r="3.1"/><circle cx="439.0" cy="198.5" r="4.1"/><circle cx="424.5" cy="176.8" r="2.8"/><circle cx="474.9" cy="220.1" r="4.1"/><circle cx="459.5" cy="99.0" r="3.9"/><circle cx="347.3" cy="243.5" r="4.0"/><circle cx="349.1" cy="187.6" r="3.5"/><circle cx="425.7" cy="235.8" r="3.4"/><circle cx="353.0" cy="176.6" r="4.0"/><circle cx="399.6" cy="164.0" r="4.0"/><circle cx="464.2" cy="127.2" r="3.2"/><circle cx="412.4" cy="126.8" r="4.4"/><circle cx="457.2" cy="274.8" r="3.7"/><circle cx="445.9" cy="120.0" r="2.6"/></g>
<path d="M390.8,61.5 C391.7,60.0 393.1,57.8 396.2,56.2 C399.3,54.6 405.1,53.0 409.6,52.1 C414.1,51.2 419.1,50.3 423.1,50.8 C427.1,51.2 430.7,52.6 433.8,54.8 C436.9,57.0 440.5,61.3 441.9,64.2 C443.2,67.1 442.8,69.6 441.9,72.3 C441.0,75.0 437.7,78.1 436.5,80.4 C435.3,82.7 434.9,83.4 434.9,86.3 C434.9,89.2 435.1,92.9 436.5,97.8 C437.9,102.7 441.2,110.6 443.1,115.8 C445.0,121.0 446.1,124.2 448.0,128.8 C449.9,133.4 452.9,139.2 454.5,143.6 C456.1,148.0 457.2,150.9 457.8,155.0 C458.4,159.1 457.0,164.3 457.8,168.1 C458.6,171.9 460.5,174.6 462.7,177.9 C464.9,181.2 469.2,184.4 470.9,188.0 C472.6,191.6 472.1,196.4 473.1,199.6 C474.1,202.8 475.8,204.7 476.9,207.3 C478.0,209.9 479.8,212.8 479.8,215.0 C479.8,217.2 477.1,218.2 476.9,220.8 C476.7,223.4 479.1,227.5 478.8,230.4 C478.5,233.3 475.0,235.5 475.0,238.1 C475.0,240.7 479.1,242.6 478.8,245.8 C478.5,249.0 474.1,253.1 473.1,257.3 C472.2,261.5 474.1,267.3 473.1,270.8 C472.1,274.3 470.2,276.9 467.3,278.5 C464.4,280.1 460.0,278.8 455.8,280.4 C451.6,282.0 445.5,287.4 442.3,288.0 C439.1,288.6 439.4,286.4 436.5,284.2 C433.6,282.0 427.9,277.5 425.0,274.6 C422.1,271.7 419.2,269.8 419.2,266.9 C419.2,264.0 422.1,259.5 425.0,257.3 C427.9,255.1 433.9,255.8 436.5,253.5 C439.1,251.2 439.1,247.3 440.4,243.8 C441.7,240.3 442.0,235.5 444.2,232.3 C446.4,229.1 453.5,227.5 453.8,224.6 C454.1,221.7 448.4,218.2 446.2,215.0 C444.0,211.8 441.5,209.6 440.4,205.4 C439.3,201.2 440.1,192.3 439.4,190.0 C438.7,187.7 437.8,193.8 436.2,191.5 C434.6,189.2 431.8,181.3 430.0,176.2 C428.2,171.1 427.2,165.9 425.4,160.8 C423.6,155.7 421.8,149.2 419.2,145.4 C416.6,141.6 412.2,140.3 410.0,137.7 C407.8,135.1 406.8,132.6 406.2,130.0 C405.6,127.4 406.5,125.0 406.2,122.3 C405.9,119.6 405.3,116.3 404.4,113.7 C403.5,111.1 402.1,109.0 401.0,106.7 C399.9,104.4 398.7,101.8 397.5,99.8 C396.3,97.8 394.3,96.6 394.0,94.6 C393.7,92.6 395.5,90.3 395.8,88.0 C396.1,85.7 396.1,83.7 395.8,80.8 C395.5,77.9 394.9,73.0 394.0,70.4 C393.1,67.8 391.1,66.5 390.6,65.0 C390.1,63.5 389.9,63.0 390.8,61.5Z" fill="#b82226"/>
<g fill="url(#rB)" filter="url(#sb)"><circle cx="433.2" cy="71.0" r="3.6"/><circle cx="461.4" cy="268.3" r="3.4"/><circle cx="449.5" cy="234.9" r="4.3"/><circle cx="416.7" cy="59.3" r="3.9"/><circle cx="442.4" cy="192.1" r="3.5"/><circle cx="398.2" cy="72.4" r="3.5"/><circle cx="435.2" cy="162.5" r="2.7"/><circle cx="424.9" cy="67.9" r="3.4"/><circle cx="452.1" cy="282.4" r="3.0"/><circle cx="437.6" cy="255.1" r="3.5"/><circle cx="448.4" cy="252.3" r="4.4"/><circle cx="400.4" cy="104.8" r="2.6"/><circle cx="435.9" cy="166.5" r="4.1"/><circle cx="418.2" cy="101.0" r="2.7"/><circle cx="458.1" cy="219.9" r="3.6"/><circle cx="434.2" cy="94.8" r="3.3"/><circle cx="404.9" cy="61.0" r="4.0"/><circle cx="407.4" cy="76.0" r="3.7"/><circle cx="431.2" cy="178.7" r="3.3"/><circle cx="438.3" cy="162.1" r="2.9"/><circle cx="445.1" cy="123.9" r="2.6"/><circle cx="444.7" cy="249.4" r="4.3"/><circle cx="403.4" cy="75.2" r="2.6"/><circle cx="439.8" cy="182.6" r="4.2"/><circle cx="438.9" cy="145.1" r="3.6"/><circle cx="470.7" cy="251.0" r="3.3"/><circle cx="433.0" cy="143.2" r="3.3"/><circle cx="398.9" cy="95.1" r="2.7"/><circle cx="423.4" cy="102.8" r="3.4"/><circle cx="447.1" cy="266.7" r="4.0"/><circle cx="405.0" cy="71.3" r="3.9"/><circle cx="422.7" cy="131.9" r="4.2"/><circle cx="450.0" cy="195.5" r="2.9"/><circle cx="430.6" cy="168.3" r="3.5"/><circle cx="418.3" cy="57.4" r="2.9"/><circle cx="447.0" cy="180.4" r="2.6"/><circle cx="401.9" cy="69.6" r="3.4"/><circle cx="420.8" cy="88.5" r="3.0"/><circle cx="422.2" cy="79.9" r="3.9"/><circle cx="455.3" cy="232.2" r="3.7"/><circle cx="440.9" cy="139.4" r="3.9"/><circle cx="438.1" cy="103.0" r="3.1"/><circle cx="460.0" cy="277.7" r="3.8"/><circle cx="471.3" cy="268.2" r="3.5"/><circle cx="409.6" cy="88.7" r="3.3"/><circle cx="458.3" cy="179.0" r="3.3"/><circle cx="460.1" cy="208.5" r="2.8"/><circle cx="404.1" cy="111.7" r="3.2"/><circle cx="404.3" cy="102.0" r="3.6"/><circle cx="420.7" cy="78.9" r="2.9"/><circle cx="438.4" cy="123.5" r="3.4"/><circle cx="440.5" cy="283.7" r="2.9"/><circle cx="436.2" cy="71.4" r="2.8"/><circle cx="442.5" cy="265.9" r="2.8"/><circle cx="434.2" cy="113.4" r="3.5"/><circle cx="413.1" cy="131.4" r="3.9"/><circle cx="433.1" cy="91.4" r="3.7"/><circle cx="479.4" cy="215.8" r="3.5"/><circle cx="434.3" cy="171.0" r="2.9"/><circle cx="448.8" cy="166.1" r="4.3"/><circle cx="463.0" cy="226.6" r="3.2"/><circle cx="412.7" cy="78.0" r="3.8"/><circle cx="410.1" cy="91.3" r="2.8"/><circle cx="451.7" cy="218.1" r="3.1"/><circle cx="446.9" cy="193.8" r="3.1"/><circle cx="443.4" cy="155.5" r="3.8"/><circle cx="450.4" cy="207.8" r="3.2"/><circle cx="413.7" cy="125.0" r="3.2"/><circle cx="460.4" cy="225.0" r="3.1"/><circle cx="447.0" cy="175.6" r="3.0"/><circle cx="425.4" cy="96.1" r="2.9"/><circle cx="398.2" cy="68.6" r="3.9"/><circle cx="418.0" cy="134.4" r="3.2"/><circle cx="403.7" cy="82.8" r="2.6"/><circle cx="425.3" cy="269.3" r="3.1"/><circle cx="472.7" cy="211.7" r="3.2"/><circle cx="414.2" cy="98.1" r="3.3"/><circle cx="407.1" cy="53.0" r="3.0"/><circle cx="446.3" cy="235.3" r="2.8"/><circle cx="436.5" cy="62.3" r="3.5"/><circle cx="454.2" cy="263.0" r="3.3"/><circle cx="410.4" cy="118.4" r="2.7"/><circle cx="402.0" cy="99.9" r="3.3"/><circle cx="426.3" cy="145.8" r="3.6"/><circle cx="443.7" cy="258.9" r="3.2"/><circle cx="438.3" cy="67.3" r="3.1"/><circle cx="460.7" cy="198.2" r="3.1"/><circle cx="451.7" cy="157.2" r="2.6"/><circle cx="423.4" cy="142.6" r="3.3"/><circle cx="451.4" cy="153.9" r="3.7"/><circle cx="430.4" cy="60.3" r="2.6"/><circle cx="442.6" cy="274.9" r="4.1"/><circle cx="436.3" cy="276.3" r="4.0"/><circle cx="417.9" cy="78.5" r="3.3"/><circle cx="429.8" cy="259.4" r="4.4"/><circle cx="435.7" cy="98.0" r="2.4"/><circle cx="419.6" cy="98.3" r="4.3"/><circle cx="442.3" cy="135.0" r="3.2"/><circle cx="429.1" cy="157.7" r="3.1"/><circle cx="455.4" cy="167.6" r="2.8"/><circle cx="453.7" cy="246.0" r="4.3"/><circle cx="427.3" cy="56.8" r="4.1"/><circle cx="434.0" cy="150.9" r="4.1"/><circle cx="430.7" cy="79.9" r="3.8"/><circle cx="441.2" cy="281.6" r="2.8"/><circle cx="458.4" cy="275.7" r="3.8"/><circle cx="433.0" cy="265.9" r="4.2"/><circle cx="433.9" cy="178.1" r="2.8"/><circle cx="460.4" cy="235.8" r="3.6"/><circle cx="442.3" cy="251.2" r="3.4"/><circle cx="422.1" cy="111.4" r="4.0"/><circle cx="446.7" cy="239.4" r="3.7"/><circle cx="469.6" cy="231.6" r="3.6"/><circle cx="456.9" cy="173.6" r="3.0"/><circle cx="451.7" cy="178.5" r="4.4"/><circle cx="449.4" cy="202.0" r="3.1"/><circle cx="466.4" cy="224.7" r="3.2"/><circle cx="415.9" cy="65.6" r="3.6"/><circle cx="437.9" cy="189.8" r="3.2"/><circle cx="444.2" cy="267.9" r="3.8"/><circle cx="471.8" cy="228.2" r="4.2"/><circle cx="474.9" cy="236.9" r="2.6"/><circle cx="448.4" cy="136.0" r="2.6"/><circle cx="458.1" cy="191.6" r="2.7"/><circle cx="418.1" cy="97.2" r="3.1"/><circle cx="414.1" cy="97.4" r="3.0"/><circle cx="453.0" cy="256.7" r="2.9"/><circle cx="429.5" cy="108.4" r="2.9"/><circle cx="453.3" cy="209.5" r="3.9"/><circle cx="405.5" cy="93.6" r="4.1"/><circle cx="457.9" cy="201.5" r="4.2"/><circle cx="456.5" cy="238.1" r="3.3"/><circle cx="432.6" cy="261.2" r="4.3"/><circle cx="440.8" cy="120.3" r="3.1"/><circle cx="435.6" cy="150.5" r="3.6"/><circle cx="472.1" cy="263.6" r="2.8"/><circle cx="401.0" cy="95.8" r="3.8"/><circle cx="426.7" cy="77.6" r="2.7"/><circle cx="447.5" cy="241.6" r="3.3"/><circle cx="472.3" cy="271.7" r="3.4"/><circle cx="418.1" cy="71.2" r="2.8"/><circle cx="432.0" cy="129.1" r="3.0"/><circle cx="395.6" cy="57.3" r="2.6"/><circle cx="453.3" cy="190.5" r="2.7"/><circle cx="418.4" cy="136.9" r="2.9"/><circle cx="460.7" cy="248.2" r="4.0"/><circle cx="419.9" cy="120.7" r="2.9"/><circle cx="471.0" cy="201.5" r="4.3"/><circle cx="433.2" cy="73.7" r="3.3"/><circle cx="442.5" cy="170.0" r="3.4"/><circle cx="444.9" cy="271.3" r="4.1"/><circle cx="450.7" cy="201.1" r="3.8"/><circle cx="459.1" cy="194.1" r="4.3"/><circle cx="419.7" cy="81.4" r="2.7"/><circle cx="447.3" cy="142.2" r="2.8"/><circle cx="449.2" cy="209.3" r="3.2"/><circle cx="395.9" cy="65.4" r="3.9"/><circle cx="409.9" cy="98.8" r="3.3"/><circle cx="411.0" cy="108.0" r="3.7"/><circle cx="410.6" cy="56.0" r="3.6"/><circle cx="452.9" cy="159.8" r="4.0"/><circle cx="440.8" cy="195.9" r="2.8"/><circle cx="442.4" cy="179.7" r="4.1"/><circle cx="473.3" cy="234.3" r="2.8"/><circle cx="406.6" cy="122.4" r="2.6"/><circle cx="434.3" cy="59.3" r="4.1"/><circle cx="435.0" cy="184.5" r="3.0"/><circle cx="446.2" cy="131.6" r="3.0"/><circle cx="451.5" cy="255.4" r="3.5"/><circle cx="475.0" cy="248.0" r="3.9"/><circle cx="462.6" cy="215.8" r="2.8"/><circle cx="400.7" cy="101.3" r="3.4"/><circle cx="448.5" cy="247.3" r="3.5"/><circle cx="460.0" cy="273.7" r="3.1"/><circle cx="444.7" cy="206.6" r="3.0"/><circle cx="463.7" cy="229.8" r="2.7"/><circle cx="400.4" cy="61.6" r="2.9"/><circle cx="451.7" cy="268.5" r="3.5"/><circle cx="426.3" cy="54.8" r="2.7"/><circle cx="435.7" cy="128.3" r="2.6"/><circle cx="410.1" cy="61.3" r="3.3"/><circle cx="412.0" cy="109.8" r="3.7"/><circle cx="451.2" cy="145.6" r="2.9"/><circle cx="413.5" cy="87.2" r="3.0"/><circle cx="445.5" cy="281.3" r="3.7"/><circle cx="400.2" cy="83.6" r="4.2"/><circle cx="466.1" cy="210.1" r="2.7"/><circle cx="462.4" cy="187.3" r="3.8"/><circle cx="422.5" cy="115.1" r="2.9"/><circle cx="453.0" cy="239.7" r="4.2"/><circle cx="417.6" cy="103.8" r="3.9"/><circle cx="475.0" cy="231.2" r="2.8"/><circle cx="417.0" cy="114.3" r="4.0"/><circle cx="473.3" cy="217.1" r="3.1"/><circle cx="436.5" cy="158.0" r="4.3"/><circle cx="456.8" cy="229.1" r="3.6"/><circle cx="436.4" cy="181.3" r="2.7"/><circle cx="399.7" cy="90.4" r="3.3"/><circle cx="427.7" cy="260.3" r="3.3"/><circle cx="461.6" cy="245.1" r="3.8"/><circle cx="457.2" cy="234.2" r="4.0"/><circle cx="465.2" cy="208.5" r="4.0"/><circle cx="461.3" cy="185.2" r="2.9"/><circle cx="395.8" cy="93.9" r="2.9"/><circle cx="464.2" cy="217.4" r="3.8"/><circle cx="424.1" cy="132.1" r="4.2"/><circle cx="462.0" cy="270.5" r="3.6"/><circle cx="406.9" cy="79.7" r="3.9"/><circle cx="464.3" cy="212.5" r="4.2"/><circle cx="450.2" cy="278.3" r="2.9"/><circle cx="462.9" cy="258.8" r="3.9"/><circle cx="464.8" cy="243.7" r="3.3"/><circle cx="435.9" cy="152.8" r="4.1"/><circle cx="462.5" cy="197.1" r="4.1"/><circle cx="462.0" cy="254.4" r="3.1"/><circle cx="420.2" cy="67.2" r="3.4"/><circle cx="436.1" cy="272.3" r="2.6"/><circle cx="436.8" cy="144.0" r="2.7"/><circle cx="468.0" cy="277.4" r="2.7"/><circle cx="419.7" cy="141.1" r="3.4"/><circle cx="455.1" cy="216.0" r="3.0"/><circle cx="455.9" cy="217.2" r="3.6"/><circle cx="477.8" cy="228.2" r="3.7"/><circle cx="425.9" cy="154.7" r="3.0"/><circle cx="448.6" cy="149.7" r="2.7"/><circle cx="422.4" cy="92.2" r="3.6"/><circle cx="457.2" cy="261.0" r="3.2"/><circle cx="448.5" cy="172.7" r="2.9"/><circle cx="455.4" cy="223.0" r="4.1"/><circle cx="450.2" cy="272.3" r="3.4"/><circle cx="414.3" cy="111.5" r="2.9"/><circle cx="446.4" cy="277.7" r="3.0"/><circle cx="450.6" cy="274.5" r="4.0"/><circle cx="468.0" cy="246.0" r="3.2"/><circle cx="468.0" cy="218.5" r="4.0"/><circle cx="438.6" cy="153.6" r="3.1"/><circle cx="466.2" cy="265.3" r="3.3"/><circle cx="464.7" cy="253.1" r="4.2"/><circle cx="429.7" cy="84.3" r="4.4"/><circle cx="416.5" cy="71.6" r="4.1"/><circle cx="424.0" cy="65.6" r="3.5"/><circle cx="476.0" cy="214.5" r="4.3"/><circle cx="441.8" cy="285.2" r="2.8"/><circle cx="442.2" cy="149.5" r="4.2"/><circle cx="460.8" cy="265.4" r="3.4"/><circle cx="431.9" cy="92.9" r="3.1"/><circle cx="450.7" cy="187.1" r="3.6"/><circle cx="415.3" cy="131.0" r="3.3"/><circle cx="457.0" cy="185.6" r="2.9"/><circle cx="432.3" cy="67.3" r="3.9"/><circle cx="450.3" cy="142.3" r="3.9"/><circle cx="431.5" cy="127.4" r="4.3"/><circle cx="431.8" cy="70.6" r="3.1"/><circle cx="441.4" cy="140.8" r="4.0"/><circle cx="461.6" cy="247.4" r="2.8"/><circle cx="424.2" cy="123.5" r="4.2"/><circle cx="452.3" cy="229.2" r="3.5"/><circle cx="473.7" cy="222.7" r="3.3"/><circle cx="445.2" cy="134.0" r="4.2"/><circle cx="432.7" cy="123.5" r="3.6"/><circle cx="442.4" cy="189.6" r="4.2"/><circle cx="475.8" cy="217.5" r="2.7"/><circle cx="454.2" cy="227.0" r="4.1"/><circle cx="407.9" cy="87.6" r="3.8"/><circle cx="422.7" cy="83.2" r="4.3"/><circle cx="469.4" cy="194.5" r="3.4"/><circle cx="452.6" cy="271.5" r="4.2"/><circle cx="436.4" cy="136.7" r="3.3"/><circle cx="439.8" cy="67.7" r="2.7"/><circle cx="428.8" cy="65.4" r="3.6"/><circle cx="429.6" cy="99.1" r="4.3"/><circle cx="403.3" cy="109.1" r="2.9"/><circle cx="463.9" cy="190.8" r="4.3"/><circle cx="440.7" cy="267.2" r="4.3"/><circle cx="461.7" cy="235.7" r="3.8"/><circle cx="468.5" cy="200.0" r="3.7"/><circle cx="438.3" cy="262.8" r="3.3"/><circle cx="431.8" cy="55.2" r="3.5"/><circle cx="444.3" cy="182.4" r="2.8"/><circle cx="428.5" cy="104.5" r="3.9"/><circle cx="397.4" cy="76.1" r="2.8"/><circle cx="418.3" cy="111.6" r="4.3"/><circle cx="432.7" cy="167.0" r="4.4"/><circle cx="435.1" cy="135.6" r="3.9"/><circle cx="443.8" cy="188.6" r="3.1"/><circle cx="476.1" cy="211.6" r="3.9"/><circle cx="426.4" cy="106.5" r="2.6"/><circle cx="394.7" cy="69.4" r="2.7"/><circle cx="433.7" cy="273.7" r="2.9"/><circle cx="444.1" cy="175.4" r="3.5"/><circle cx="454.3" cy="148.3" r="3.0"/><circle cx="449.6" cy="170.0" r="4.1"/><circle cx="464.0" cy="274.3" r="3.9"/><circle cx="453.3" cy="223.8" r="2.7"/><circle cx="415.5" cy="60.3" r="4.2"/><circle cx="413.5" cy="117.8" r="4.3"/><circle cx="408.2" cy="84.5" r="3.1"/><circle cx="424.5" cy="137.6" r="2.9"/><circle cx="431.1" cy="159.3" r="2.6"/><circle cx="449.2" cy="145.0" r="3.3"/><circle cx="424.0" cy="93.5" r="3.0"/><circle cx="429.9" cy="72.6" r="4.1"/><circle cx="474.5" cy="232.4" r="4.0"/><circle cx="422.8" cy="153.1" r="2.9"/><circle cx="414.8" cy="134.4" r="4.0"/><circle cx="468.5" cy="253.8" r="3.7"/><circle cx="430.6" cy="255.9" r="3.4"/><circle cx="466.6" cy="232.8" r="3.4"/><circle cx="433.8" cy="104.5" r="2.8"/><circle cx="418.9" cy="73.2" r="4.1"/><circle cx="411.4" cy="137.5" r="3.3"/><circle cx="419.9" cy="147.0" r="3.4"/><circle cx="428.5" cy="118.6" r="4.2"/><circle cx="411.2" cy="92.4" r="3.8"/><circle cx="443.1" cy="271.4" r="3.1"/><circle cx="434.6" cy="113.5" r="3.7"/><circle cx="420.2" cy="106.7" r="3.7"/><circle cx="444.2" cy="263.6" r="2.8"/><circle cx="461.4" cy="204.9" r="3.6"/><circle cx="411.4" cy="136.3" r="2.6"/><circle cx="407.9" cy="115.9" r="3.4"/><circle cx="466.2" cy="214.4" r="3.9"/><circle cx="391.5" cy="63.6" r="3.4"/><circle cx="462.7" cy="221.2" r="4.0"/><circle cx="435.0" cy="84.1" r="2.9"/><circle cx="441.9" cy="166.7" r="3.2"/><circle cx="428.9" cy="258.5" r="4.4"/><circle cx="429.8" cy="269.0" r="4.1"/><circle cx="410.6" cy="64.5" r="3.1"/><circle cx="433.6" cy="166.5" r="3.6"/><circle cx="418.7" cy="93.2" r="3.8"/><circle cx="400.6" cy="79.2" r="3.1"/><circle cx="410.2" cy="125.7" r="2.8"/><circle cx="440.4" cy="168.8" r="3.6"/><circle cx="427.7" cy="62.3" r="3.2"/><circle cx="444.1" cy="158.6" r="3.6"/><circle cx="451.6" cy="180.3" r="4.2"/><circle cx="411.2" cy="84.1" r="3.2"/><circle cx="432.6" cy="119.4" r="4.2"/><circle cx="433.9" cy="106.5" r="4.0"/><circle cx="440.3" cy="125.7" r="3.9"/><circle cx="449.0" cy="240.6" r="3.2"/><circle cx="443.9" cy="129.8" r="2.8"/><circle cx="444.7" cy="198.2" r="3.2"/><circle cx="412.6" cy="67.6" r="4.4"/><circle cx="465.4" cy="199.5" r="2.9"/><circle cx="426.7" cy="265.9" r="3.4"/><circle cx="444.0" cy="172.0" r="3.1"/><circle cx="450.4" cy="137.9" r="3.4"/><circle cx="424.7" cy="58.0" r="4.0"/><circle cx="437.8" cy="174.5" r="3.8"/><circle cx="463.1" cy="265.8" r="4.0"/><circle cx="466.8" cy="260.8" r="3.7"/><circle cx="449.2" cy="261.9" r="4.2"/><circle cx="439.2" cy="105.9" r="2.4"/><circle cx="449.7" cy="200.8" r="3.5"/><circle cx="450.7" cy="183.8" r="2.8"/><circle cx="398.9" cy="87.0" r="3.4"/><circle cx="438.0" cy="252.2" r="2.9"/><circle cx="422.6" cy="60.3" r="4.1"/><circle cx="447.3" cy="161.5" r="3.4"/><circle cx="453.5" cy="179.1" r="4.1"/><circle cx="447.8" cy="184.2" r="3.1"/><circle cx="451.1" cy="253.4" r="2.9"/><circle cx="412.3" cy="80.8" r="3.3"/><circle cx="470.9" cy="258.8" r="4.2"/><circle cx="416.7" cy="53.5" r="3.6"/><circle cx="435.5" cy="78.3" r="2.9"/><circle cx="449.0" cy="152.9" r="3.2"/><circle cx="435.2" cy="121.1" r="3.7"/><circle cx="395.6" cy="63.3" r="4.0"/><circle cx="466.7" cy="268.1" r="3.5"/><circle cx="458.0" cy="254.6" r="3.1"/><circle cx="463.2" cy="255.4" r="3.2"/><circle cx="456.1" cy="161.8" r="3.2"/><circle cx="437.3" cy="116.2" r="4.0"/><circle cx="441.9" cy="147.2" r="3.2"/><circle cx="440.2" cy="131.1" r="4.1"/><circle cx="440.9" cy="174.8" r="4.2"/><circle cx="439.5" cy="74.1" r="2.6"/><circle cx="450.4" cy="261.5" r="3.2"/><circle cx="401.8" cy="64.9" r="3.5"/><circle cx="407.8" cy="58.0" r="2.9"/><circle cx="457.9" cy="210.6" r="4.2"/><circle cx="406.3" cy="128.8" r="3.3"/><circle cx="439.4" cy="157.7" r="2.7"/><circle cx="474.0" cy="253.4" r="3.6"/><circle cx="442.4" cy="201.6" r="2.6"/><circle cx="406.2" cy="66.7" r="2.8"/><circle cx="440.1" cy="256.7" r="2.8"/><circle cx="444.0" cy="165.3" r="4.0"/><circle cx="458.6" cy="241.4" r="3.6"/><circle cx="445.8" cy="210.5" r="3.5"/><circle cx="453.6" cy="194.3" r="3.6"/><circle cx="471.1" cy="214.0" r="2.8"/><circle cx="423.7" cy="265.8" r="3.0"/><circle cx="439.0" cy="276.8" r="3.8"/><circle cx="459.5" cy="255.5" r="3.9"/><circle cx="435.0" cy="113.2" r="3.3"/><circle cx="407.2" cy="108.7" r="4.3"/><circle cx="435.1" cy="147.2" r="4.1"/><circle cx="412.9" cy="123.3" r="3.0"/><circle cx="470.7" cy="190.5" r="2.7"/><circle cx="466.8" cy="240.9" r="3.9"/><circle cx="441.4" cy="67.3" r="3.5"/><circle cx="443.1" cy="137.1" r="3.7"/><circle cx="462.4" cy="240.3" r="2.7"/><circle cx="416.7" cy="102.9" r="2.8"/><circle cx="471.8" cy="259.7" r="3.2"/><circle cx="431.5" cy="78.6" r="3.7"/><circle cx="438.0" cy="261.2" r="3.3"/><circle cx="469.4" cy="203.1" r="3.7"/><circle cx="429.5" cy="163.3" r="4.1"/><circle cx="449.2" cy="229.2" r="2.4"/><circle cx="466.7" cy="223.4" r="3.2"/><circle cx="453.4" cy="171.3" r="3.8"/><circle cx="442.4" cy="286.9" r="3.5"/><circle cx="455.2" cy="208.0" r="2.8"/><circle cx="424.4" cy="125.9" r="3.6"/><circle cx="468.6" cy="223.8" r="3.2"/><circle cx="409.7" cy="105.7" r="4.2"/><circle cx="446.7" cy="202.6" r="3.9"/><circle cx="444.6" cy="246.9" r="3.2"/><circle cx="458.3" cy="175.0" r="3.1"/><circle cx="454.6" cy="146.8" r="2.6"/><circle cx="435.1" cy="99.1" r="3.3"/><circle cx="410.6" cy="72.0" r="3.5"/><circle cx="453.5" cy="281.5" r="3.5"/><circle cx="398.8" cy="55.6" r="3.7"/><circle cx="423.2" cy="54.8" r="3.5"/><circle cx="453.3" cy="165.5" r="3.8"/><circle cx="427.1" cy="133.3" r="3.9"/><circle cx="418.3" cy="82.7" r="4.0"/><circle cx="455.0" cy="250.4" r="3.3"/><circle cx="431.8" cy="86.9" r="3.0"/><circle cx="458.9" cy="187.8" r="4.3"/><circle cx="447.8" cy="283.9" r="2.4"/><circle cx="444.8" cy="161.2" r="2.7"/><circle cx="424.7" cy="117.6" r="3.6"/><circle cx="454.0" cy="157.8" r="4.3"/><circle cx="429.9" cy="113.7" r="3.4"/><circle cx="434.0" cy="268.0" r="3.6"/><circle cx="466.1" cy="188.4" r="4.3"/><circle cx="455.5" cy="244.8" r="3.9"/><circle cx="420.2" cy="127.6" r="4.1"/><circle cx="426.9" cy="95.8" r="3.8"/><circle cx="426.6" cy="86.3" r="3.1"/><circle cx="447.4" cy="127.8" r="2.7"/><circle cx="427.2" cy="81.1" r="2.6"/><circle cx="417.5" cy="122.9" r="2.8"/><circle cx="449.4" cy="265.8" r="3.5"/><circle cx="424.9" cy="133.5" r="4.3"/><circle cx="425.2" cy="90.5" r="3.4"/><circle cx="474.2" cy="245.8" r="3.1"/><circle cx="433.1" cy="128.8" r="4.1"/><circle cx="414.4" cy="62.6" r="2.9"/><circle cx="444.9" cy="196.8" r="4.1"/><circle cx="468.5" cy="206.6" r="3.9"/><circle cx="410.4" cy="95.0" r="4.3"/><circle cx="395.0" cy="75.8" r="3.0"/><circle cx="424.8" cy="101.0" r="4.2"/><circle cx="472.2" cy="243.4" r="3.2"/><circle cx="454.0" cy="167.9" r="2.7"/><circle cx="452.8" cy="204.9" r="3.6"/><circle cx="420.4" cy="137.6" r="3.5"/><circle cx="429.1" cy="147.8" r="3.2"/><circle cx="442.4" cy="259.6" r="2.8"/><circle cx="452.6" cy="213.0" r="3.0"/><circle cx="426.6" cy="87.3" r="2.8"/><circle cx="415.9" cy="107.1" r="2.9"/><circle cx="420.5" cy="67.5" r="4.0"/><circle cx="458.2" cy="269.4" r="2.6"/><circle cx="429.8" cy="110.3" r="2.8"/><circle cx="391.2" cy="62.9" r="2.3"/><circle cx="460.6" cy="191.6" r="3.9"/><circle cx="445.8" cy="148.8" r="3.0"/><circle cx="442.3" cy="251.9" r="4.0"/><circle cx="432.4" cy="132.9" r="3.7"/><circle cx="427.7" cy="127.9" r="3.5"/><circle cx="406.3" cy="68.7" r="3.7"/><circle cx="404.8" cy="97.3" r="3.9"/><circle cx="440.4" cy="173.1" r="4.0"/><circle cx="423.1" cy="121.9" r="2.9"/><circle cx="414.7" cy="81.6" r="4.0"/><circle cx="428.4" cy="150.9" r="3.8"/><circle cx="428.5" cy="276.5" r="2.5"/><circle cx="467.1" cy="272.1" r="3.5"/><circle cx="432.1" cy="139.2" r="2.8"/><circle cx="446.2" cy="137.1" r="3.3"/><circle cx="429.9" cy="153.3" r="3.6"/><circle cx="436.3" cy="283.1" r="3.5"/><circle cx="467.6" cy="258.6" r="3.2"/><circle cx="423.2" cy="73.2" r="3.8"/><circle cx="427.7" cy="272.6" r="4.4"/><circle cx="402.9" cy="56.5" r="2.6"/><circle cx="456.1" cy="188.5" r="3.1"/><circle cx="431.6" cy="157.1" r="3.2"/><circle cx="412.4" cy="113.4" r="3.7"/><circle cx="413.0" cy="53.1" r="2.6"/><circle cx="425.7" cy="113.7" r="2.8"/><circle cx="434.4" cy="281.6" r="3.0"/><circle cx="428.7" cy="143.8" r="2.9"/><circle cx="436.0" cy="279.3" r="4.0"/><circle cx="420.9" cy="264.7" r="3.0"/><circle cx="466.7" cy="185.9" r="3.3"/><circle cx="458.2" cy="203.1" r="3.3"/><circle cx="431.3" cy="122.6" r="3.1"/><circle cx="471.7" cy="236.0" r="2.9"/><circle cx="465.9" cy="249.3" r="3.6"/><circle cx="446.6" cy="206.3" r="3.0"/><circle cx="473.6" cy="201.5" r="3.2"/><circle cx="424.8" cy="148.4" r="4.2"/><circle cx="401.0" cy="87.7" r="3.9"/><circle cx="446.4" cy="244.2" r="3.6"/><circle cx="459.5" cy="230.2" r="3.7"/><circle cx="473.7" cy="209.0" r="3.0"/><circle cx="464.7" cy="235.9" r="3.4"/><circle cx="450.4" cy="236.5" r="3.2"/><circle cx="400.3" cy="72.6" r="2.6"/></g>
<path d="M354.6,137.7 C357.5,135.8 362.0,132.3 366.2,130.8 C370.4,129.3 375.4,128.5 380.0,128.5 C384.6,128.5 389.6,129.7 393.8,130.8 C398.0,132.0 402.3,133.5 405.4,135.4 C408.5,137.3 411.1,140.0 412.3,142.3 C413.5,144.6 413.1,146.9 412.3,149.2 C411.5,151.5 409.2,153.5 407.7,156.2 C406.2,158.9 403.9,161.9 403.1,165.4 C402.3,168.9 403.9,173.4 403.1,176.9 C402.3,180.4 401.2,184.3 398.5,186.2 C395.8,188.1 390.8,188.5 386.9,188.5 C383.0,188.5 378.8,187.4 375.4,186.2 C371.9,185.0 368.9,183.4 366.2,181.5 C363.5,179.6 360.8,176.9 359.2,174.6 C357.6,172.3 357.7,170.4 356.9,167.7 C356.1,165.0 355.8,161.6 354.6,158.5 C353.5,155.4 351.0,151.9 350.0,149.2 C349.0,146.5 348.0,144.2 348.8,142.3 C349.6,140.4 351.7,139.6 354.6,137.7Z" fill="#3a9a2c"/>
<g fill="url(#gB)" filter="url(#sb)"><circle cx="383.1" cy="186.2" r="3.2"/><circle cx="370.9" cy="139.9" r="4.3"/><circle cx="388.9" cy="149.6" r="3.6"/><circle cx="374.3" cy="181.0" r="4.2"/><circle cx="361.6" cy="161.2" r="3.8"/><circle cx="400.0" cy="142.5" r="2.7"/><circle cx="364.8" cy="146.0" r="3.1"/><circle cx="402.5" cy="176.9" r="3.7"/><circle cx="394.1" cy="166.4" r="3.0"/><circle cx="379.8" cy="160.5" r="2.8"/><circle cx="382.7" cy="136.4" r="3.4"/><circle cx="362.7" cy="165.8" r="4.1"/><circle cx="392.1" cy="144.8" r="4.3"/><circle cx="380.2" cy="160.7" r="3.2"/><circle cx="367.2" cy="161.1" r="4.1"/><circle cx="371.6" cy="134.1" r="3.6"/><circle cx="363.5" cy="160.4" r="3.9"/><circle cx="366.1" cy="135.4" r="2.8"/><circle cx="386.2" cy="158.5" r="4.4"/><circle cx="367.5" cy="151.0" r="4.0"/><circle cx="364.3" cy="152.6" r="3.1"/><circle cx="358.0" cy="159.4" r="3.0"/><circle cx="385.5" cy="148.0" r="3.5"/><circle cx="365.9" cy="141.2" r="4.1"/><circle cx="407.7" cy="144.5" r="4.1"/><circle cx="381.2" cy="171.0" r="3.6"/><circle cx="352.2" cy="143.3" r="3.1"/><circle cx="394.5" cy="145.6" r="3.2"/><circle cx="386.7" cy="149.5" r="3.8"/><circle cx="405.1" cy="137.7" r="3.3"/><circle cx="387.6" cy="179.4" r="3.3"/><circle cx="401.6" cy="139.5" r="4.1"/><circle cx="383.2" cy="130.2" r="2.3"/><circle cx="371.0" cy="179.1" r="4.3"/><circle cx="388.6" cy="148.8" r="4.4"/><circle cx="380.9" cy="147.3" r="3.2"/><circle cx="391.1" cy="181.2" r="2.9"/><circle cx="399.9" cy="148.6" r="3.7"/><circle cx="382.9" cy="141.8" r="3.7"/><circle cx="382.6" cy="129.7" r="3.5"/><circle cx="373.0" cy="166.4" r="4.2"/><circle cx="392.0" cy="172.0" r="2.8"/><circle cx="385.4" cy="176.3" r="2.9"/><circle cx="394.8" cy="173.2" r="3.5"/><circle cx="371.4" cy="163.8" r="4.0"/><circle cx="364.5" cy="174.7" r="3.4"/><circle cx="402.2" cy="137.4" r="4.0"/><circle cx="394.5" cy="140.3" r="4.1"/><circle cx="394.7" cy="157.2" r="2.9"/><circle cx="378.4" cy="138.9" r="4.3"/><circle cx="392.6" cy="176.9" r="2.7"/><circle cx="393.5" cy="152.7" r="3.4"/><circle cx="400.2" cy="160.3" r="3.8"/><circle cx="376.9" cy="170.1" r="3.9"/><circle cx="409.1" cy="153.3" r="3.5"/><circle cx="400.3" cy="161.4" r="3.0"/><circle cx="391.0" cy="164.7" r="4.4"/><circle cx="388.8" cy="140.8" r="3.8"/><circle cx="374.4" cy="155.3" r="4.0"/><circle cx="357.2" cy="136.6" r="3.7"/><circle cx="385.4" cy="138.7" r="3.1"/><circle cx="380.7" cy="155.7" r="3.7"/><circle cx="394.4" cy="169.5" r="3.6"/><circle cx="378.5" cy="145.2" r="4.3"/><circle cx="393.4" cy="143.7" r="4.2"/><circle cx="399.9" cy="152.7" r="2.8"/><circle cx="397.0" cy="177.7" r="3.2"/><circle cx="365.7" cy="152.9" r="3.0"/><circle cx="397.9" cy="170.5" r="3.1"/><circle cx="357.1" cy="155.2" r="2.7"/><circle cx="357.0" cy="145.7" r="3.1"/><circle cx="369.5" cy="179.9" r="2.8"/><circle cx="396.8" cy="145.8" r="4.0"/><circle cx="374.9" cy="130.7" r="2.8"/><circle cx="367.5" cy="131.0" r="2.2"/><circle cx="373.4" cy="147.3" r="3.9"/><circle cx="362.8" cy="170.1" r="3.5"/><circle cx="385.7" cy="166.1" r="3.6"/><circle cx="369.3" cy="166.0" r="3.7"/><circle cx="397.5" cy="135.0" r="3.4"/><circle cx="363.2" cy="144.5" r="3.7"/><circle cx="371.1" cy="159.8" r="3.2"/><circle cx="369.9" cy="142.7" r="4.0"/><circle cx="374.4" cy="176.6" r="4.2"/><circle cx="359.1" cy="170.2" r="3.2"/><circle cx="380.5" cy="186.4" r="2.4"/><circle cx="386.8" cy="131.8" r="3.2"/><circle cx="378.6" cy="182.2" r="3.2"/><circle cx="398.5" cy="183.4" r="3.6"/><circle cx="383.6" cy="166.6" r="3.5"/><circle cx="352.6" cy="154.2" r="3.4"/><circle cx="385.8" cy="135.0" r="3.0"/><circle cx="379.3" cy="165.0" r="4.0"/><circle cx="361.6" cy="144.4" r="3.9"/><circle cx="365.9" cy="179.7" r="2.2"/><circle cx="374.3" cy="151.5" r="2.8"/><circle cx="393.5" cy="181.2" r="2.9"/><circle cx="370.2" cy="154.2" r="3.6"/><circle cx="396.1" cy="163.6" r="3.7"/><circle cx="353.3" cy="145.5" r="3.9"/><circle cx="369.0" cy="135.6" r="3.5"/><circle cx="356.1" cy="150.8" r="2.8"/><circle cx="356.9" cy="157.4" r="2.8"/><circle cx="353.6" cy="141.0" r="3.9"/><circle cx="379.4" cy="131.4" r="3.7"/><circle cx="374.2" cy="142.8" r="3.8"/><circle cx="356.9" cy="142.9" r="3.3"/><circle cx="397.5" cy="155.7" r="3.3"/><circle cx="395.9" cy="136.4" r="3.7"/><circle cx="377.2" cy="134.1" r="3.4"/><circle cx="405.8" cy="149.1" r="3.7"/><circle cx="399.9" cy="164.5" r="3.2"/><circle cx="377.7" cy="173.6" r="3.3"/><circle cx="408.8" cy="152.8" r="2.8"/><circle cx="361.6" cy="146.8" r="4.0"/><circle cx="392.8" cy="155.3" r="3.2"/><circle cx="369.7" cy="172.0" r="3.2"/><circle cx="394.0" cy="131.8" r="3.3"/><circle cx="375.2" cy="163.2" r="3.2"/><circle cx="394.3" cy="183.9" r="3.4"/><circle cx="397.6" cy="138.9" r="3.4"/><circle cx="387.9" cy="181.6" r="3.1"/><circle cx="359.3" cy="141.3" r="3.0"/><circle cx="378.8" cy="158.2" r="4.2"/><circle cx="361.5" cy="165.8" r="4.0"/><circle cx="361.2" cy="139.6" r="4.4"/><circle cx="371.5" cy="173.9" r="3.6"/><circle cx="369.5" cy="158.9" r="3.8"/><circle cx="405.5" cy="144.7" r="3.8"/><circle cx="406.5" cy="146.7" r="4.3"/><circle cx="372.0" cy="168.7" r="2.8"/><circle cx="380.1" cy="183.4" r="4.2"/><circle cx="402.0" cy="154.6" r="3.4"/><circle cx="366.0" cy="169.8" r="3.5"/><circle cx="377.0" cy="149.1" r="3.3"/><circle cx="356.7" cy="162.5" r="3.1"/><circle cx="390.0" cy="163.8" r="4.3"/><circle cx="352.4" cy="151.0" r="2.7"/><circle cx="360.6" cy="155.6" r="4.2"/><circle cx="371.8" cy="131.1" r="2.5"/><circle cx="387.1" cy="168.7" r="4.0"/><circle cx="405.5" cy="154.9" r="3.9"/><circle cx="365.9" cy="178.9" r="3.0"/><circle cx="383.6" cy="150.3" r="3.9"/><circle cx="361.1" cy="150.9" r="4.3"/><circle cx="383.1" cy="156.1" r="3.1"/><circle cx="384.0" cy="163.9" r="3.8"/><circle cx="387.8" cy="187.2" r="2.7"/><circle cx="386.9" cy="141.6" r="3.4"/><circle cx="380.0" cy="179.3" r="3.0"/><circle cx="410.7" cy="148.6" r="3.6"/><circle cx="369.5" cy="148.1" r="2.8"/><circle cx="386.1" cy="174.1" r="2.8"/><circle cx="389.4" cy="135.4" r="2.8"/><circle cx="391.5" cy="160.5" r="4.2"/><circle cx="400.2" cy="174.2" r="4.0"/><circle cx="385.8" cy="170.5" r="3.4"/><circle cx="393.3" cy="162.8" r="3.4"/><circle cx="389.8" cy="154.5" r="3.7"/><circle cx="381.1" cy="172.3" r="2.9"/><circle cx="403.2" cy="158.9" r="3.8"/><circle cx="376.3" cy="138.6" r="4.1"/></g>
<ellipse cx="431" cy="301" rx="2" ry="1.3" fill="#e8c020"/>
<ellipse cx="435" cy="216" rx="1.3" ry="2.6" fill="#fff"/>
<ellipse cx="452" cy="222.7" rx="1.5" ry="1.2" fill="#fff"/>
<path d="M137.5,256.5 q2.5,-1.2 4.5,0.3" stroke="#ddd" stroke-width="1.6" fill="none"/>
<path d="M151.5,250.5 q-1.8,1.5 -0.6,3.8" stroke="#ddd" stroke-width="1.6" fill="none"/>
<text transform="translate(67.1,125.9) rotate(-103)" font-size="17" style="fill:#111">CRIg<tspan font-size="10.8" dy="-2.2">EX</tspan></text>
<text transform="translate(105.3,211.1) rotate(-115.5)" font-size="17.5" style="fill:#111">CFH<tspan font-size="11.8" dy="0">SCR1-5</tspan></text>
<text transform="translate(98.9,306.6) rotate(-99.5)" font-size="16.5" style="fill:#111">IgG4 Fc<tspan font-size="10.5" dy="0"></tspan></text>
<text transform="translate(236.7,129.1) rotate(-81)" font-size="17" style="fill:#111">CRIg<tspan font-size="10.8" dy="0">EX</tspan></text>
<text transform="translate(195.1,216.6) rotate(-68)" font-size="17.5" style="fill:#111">CFH<tspan font-size="11.8" dy="0">SCR1-5</tspan></text>
<text transform="translate(200.5,310.6) rotate(-83)" font-size="16.5" style="fill:#111">IgG4 Fc<tspan font-size="10.5" dy="0"></tspan></text>
<text x="305" y="66.2" font-size="16.5" style="fill:#b0143a">CFH<tspan font-size="11.4" letter-spacing="0.75">SCR1-4</tspan></text>
<text x="282.3" y="150.6" font-size="16.5" style="fill:#3c9f3a">CRIg<tspan font-size="10.6" letter-spacing="0.6">EX</tspan></text>
<text x="294" y="259.8" font-size="16.5" style="fill:#2b9cd4">C3b</text>
<text x="14.5" y="35" class="lab">A</text>
<text x="282.5" y="35" class="lab">B</text>
<text x="74.8" y="358" class="lab">C</text>
<text x="78.5" y="680.5" class="lab">D</text>
<text x="78.5" y="1003.5" class="lab">E</text>
<text x="257.7" y="384.8" font-size="19.5" textLength="77.9" lengthAdjust="spacingAndGlyphs">NHS/AP</text>
<text x="147.8" y="707.9" font-size="18.8" textLength="265" lengthAdjust="spacingAndGlyphs">CP: Lysis of sensitized sRBCs</text>
<text x="204.8" y="1030.4" font-size="18.3" textLength="167.1" lengthAdjust="spacingAndGlyphs">AP: Lysis of rRBCs</text>
<text transform="translate(92.4,550.5) rotate(-90)" style="stroke:#111;stroke-width:0.45" font-size="19.6" textLength="113.4" lengthAdjust="spacingAndGlyphs">AP acitivity (%BL)</text>
<text transform="translate(95.6,860) rotate(-90)" style="stroke:#111;stroke-width:0.45" font-size="19.6" textLength="76.2" lengthAdjust="spacingAndGlyphs">% Total lysis</text>
<text transform="translate(95.6,1182.3) rotate(-90)" style="stroke:#111;stroke-width:0.45" font-size="19.6" textLength="76.9" lengthAdjust="spacingAndGlyphs">% Total lysis</text>
<text x="263.4" y="642.3" style="stroke:#111;stroke-width:0.4" font-size="17.5" textLength="64.5" lengthAdjust="spacingAndGlyphs">Drug (nM)</text>
<text x="254" y="966.2" style="stroke:#111;stroke-width:0.4" font-size="17.2" textLength="60" lengthAdjust="spacingAndGlyphs">Drug(nM)</text>
<text x="257" y="1291.2" style="stroke:#111;stroke-width:0.4" font-size="17.2" textLength="60" lengthAdjust="spacingAndGlyphs">Drug(nM)</text>
<path d="M151.9,395.8 V591.6" stroke="#111" stroke-width="2" fill="none"/>
<path d="M145.4,590.60 H151.9" stroke="#111" stroke-width="1.7"/>
<text x="138.5" y="595.80" text-anchor="end" class="tk">0</text>
<path d="M145.4,559.35 H151.9" stroke="#111" stroke-width="1.7"/>
<text x="138.5" y="564.55" text-anchor="end" class="tk">20</text>
<path d="M145.4,528.10 H151.9" stroke="#111" stroke-width="1.7"/>
<text x="138.5" y="533.30" text-anchor="end" class="tk">40</text>
<path d="M145.4,496.85 H151.9" stroke="#111" stroke-width="1.7"/>
<text x="138.5" y="502.05" text-anchor="end" class="tk">60</text>
<path d="M145.4,465.60 H151.9" stroke="#111" stroke-width="1.7"/>
<text x="138.5" y="470.80" text-anchor="end" class="tk">80</text>
<path d="M145.4,434.35 H151.9" stroke="#111" stroke-width="1.7"/>
<text x="138.5" y="439.55" text-anchor="end" class="tk">100</text>
<path d="M145.4,403.10 H151.9" stroke="#111" stroke-width="1.7"/>
<text x="138.5" y="408.30" text-anchor="end" class="tk">120</text>
<path d="M145.5,590.60 H440.6" stroke="#111" stroke-width="2" fill="none"/>
<path d="M163.72,590.60 V593.80" stroke="#111" stroke-width="1.3"/>
<path d="M170.80,590.60 V593.80" stroke="#111" stroke-width="1.3"/>
<path d="M175.83,590.60 V593.80" stroke="#111" stroke-width="1.3"/>
<path d="M179.73,590.60 V593.80" stroke="#111" stroke-width="1.3"/>
<path d="M182.92,590.60 V593.80" stroke="#111" stroke-width="1.3"/>
<path d="M185.62,590.60 V593.80" stroke="#111" stroke-width="1.3"/>
<path d="M187.95,590.60 V593.80" stroke="#111" stroke-width="1.3"/>
<path d="M190.01,590.60 V593.80" stroke="#111" stroke-width="1.3"/>
<path d="M191.85,590.60 V596.60" stroke="#111" stroke-width="1.3"/>
<path d="M203.97,590.60 V593.80" stroke="#111" stroke-width="1.3"/>
<path d="M211.05,590.60 V593.80" stroke="#111" stroke-width="1.3"/>
<path d="M216.08,590.60 V593.80" stroke="#111" stroke-width="1.3"/>
<path d="M219.98,590.60 V593.80" stroke="#111" stroke-width="1.3"/>
<path d="M223.17,590.60 V593.80" stroke="#111" stroke-width="1.3"/>
<path d="M225.87,590.60 V593.80" stroke="#111" stroke-width="1.3"/>
<path d="M228.20,590.60 V593.80" stroke="#111" stroke-width="1.3"/>
<path d="M230.26,590.60 V593.80" stroke="#111" stroke-width="1.3"/>
<path d="M232.10,590.60 V596.60" stroke="#111" stroke-width="1.3"/>
<path d="M244.22,590.60 V593.80" stroke="#111" stroke-width="1.3"/>
<path d="M251.30,590.60 V593.80" stroke="#111" stroke-width="1.3"/>
<path d="M256.33,590.60 V593.80" stroke="#111" stroke-width="1.3"/>
<path d="M260.23,590.60 V593.80" stroke="#111" stroke-width="1.3"/>
<path d="M263.42,590.60 V593.80" stroke="#111" stroke-width="1.3"/>
<path d="M266.12,590.60 V593.80" stroke="#111" stroke-width="1.3"/>
<path d="M268.45,590.60 V593.80" stroke="#111" stroke-width="1.3"/>
<path d="M270.51,590.60 V593.80" stroke="#111" stroke-width="1.3"/>
<path d="M272.35,590.60 V596.60" stroke="#111" stroke-width="1.3"/>
<path d="M284.47,590.60 V593.80" stroke="#111" stroke-width="1.3"/>
<path d="M291.55,590.60 V593.80" stroke="#111" stroke-width="1.3"/>
<path d="M296.58,590.60 V593.80" stroke="#111" stroke-width="1.3"/>
<path d="M300.48,590.60 V593.80" stroke="#111" stroke-width="1.3"/>
<path d="M303.67,590.60 V593.80" stroke="#111" stroke-width="1.3"/>
<path d="M306.37,590.60 V593.80" stroke="#111" stroke-width="1.3"/>
<path d="M308.70,590.60 V593.80" stroke="#111" stroke-width="1.3"/>
<path d="M310.76,590.60 V593.80" stroke="#111" stroke-width="1.3"/>
<path d="M312.60,590.60 V596.60" stroke="#111" stroke-width="1.3"/>
<path d="M324.72,590.60 V593.80" stroke="#111" stroke-width="1.3"/>
<path d="M331.80,590.60 V593.80" stroke="#111" stroke-width="1.3"/>
<path d="M336.83,590.60 V593.80" stroke="#111" stroke-width="1.3"/>
<path d="M340.73,590.60 V593.80" stroke="#111" stroke-width="1.3"/>
<path d="M343.92,590.60 V593.80" stroke="#111" stroke-width="1.3"/>
<path d="M346.62,590.60 V593.80" stroke="#111" stroke-width="1.3"/>
<path d="M348.95,590.60 V593.80" stroke="#111" stroke-width="1.3"/>
<path d="M351.01,590.60 V593.80" stroke="#111" stroke-width="1.3"/>
<path d="M352.85,590.60 V596.60" stroke="#111" stroke-width="1.3"/>
<path d="M364.97,590.60 V593.80" stroke="#111" stroke-width="1.3"/>
<path d="M372.05,590.60 V593.80" stroke="#111" stroke-width="1.3"/>
<path d="M377.08,590.60 V593.80" stroke="#111" stroke-width="1.3"/>
<path d="M380.98,590.60 V593.80" stroke="#111" stroke-width="1.3"/>
<path d="M384.17,590.60 V593.80" stroke="#111" stroke-width="1.3"/>
<path d="M386.87,590.60 V593.80" stroke="#111" stroke-width="1.3"/>
<path d="M389.20,590.60 V593.80" stroke="#111" stroke-width="1.3"/>
<path d="M391.26,590.60 V593.80" stroke="#111" stroke-width="1.3"/>
<path d="M393.10,590.60 V596.60" stroke="#111" stroke-width="1.3"/>
<path d="M405.22,590.60 V593.80" stroke="#111" stroke-width="1.3"/>
<path d="M412.30,590.60 V593.80" stroke="#111" stroke-width="1.3"/>
<path d="M417.33,590.60 V593.80" stroke="#111" stroke-width="1.3"/>
<path d="M421.23,590.60 V593.80" stroke="#111" stroke-width="1.3"/>
<path d="M424.42,590.60 V593.80" stroke="#111" stroke-width="1.3"/>
<path d="M427.12,590.60 V593.80" stroke="#111" stroke-width="1.3"/>
<path d="M429.45,590.60 V593.80" stroke="#111" stroke-width="1.3"/>
<path d="M431.51,590.60 V593.80" stroke="#111" stroke-width="1.3"/>
<path d="M433.35,590.60 V596.60" stroke="#111" stroke-width="1.3"/>
<text x="153.00" y="613.6" text-anchor="middle" class="tk">0.001</text>
<text x="194.00" y="613.6" text-anchor="middle" class="tk">0.01</text>
<text x="272.40" y="613.6" text-anchor="middle" class="tk">1</text>
<text x="352.90" y="613.6" text-anchor="middle" class="tk">100</text>
<text x="434.20" y="613.6" text-anchor="middle" class="tk">10000</text>
<path d="M207.50,423.57 V455.60 M203.50,423.57 H211.50 M203.50,455.60 H211.50" stroke="#1b4c88" stroke-width="1.8" fill="none"/>
<path d="M232.50,447.01 V469.04 M228.50,447.01 H236.50 M228.50,469.04 H236.50" stroke="#1b4c88" stroke-width="1.8" fill="none"/>
<path d="M248.50,484.66 V505.13 M244.50,484.66 H252.50 M244.50,505.13 H252.50" stroke="#1b4c88" stroke-width="1.8" fill="none"/>
<path d="M260.40,538.26 V553.57 M256.40,538.26 H264.40 M256.40,553.57 H264.40" stroke="#1b4c88" stroke-width="1.8" fill="none"/>
<path d="M191.70,409.35 V428.73 M187.70,409.35 H195.70 M187.70,428.73 H195.70" stroke="#1b4c88" stroke-width="1.8" fill="none"/>
<path d="M220.00,418.73 V437.48 M216.00,418.73 H224.00 M216.00,437.48 H224.00" stroke="#1b4c88" stroke-width="1.8" fill="none"/>
<path d="M248.50,443.26 V457.32 M244.50,443.26 H252.50 M244.50,457.32 H252.50" stroke="#1b4c88" stroke-width="1.8" fill="none"/>
<path d="M260.40,464.98 V476.85 M256.40,464.98 H264.40 M256.40,476.85 H264.40" stroke="#1b4c88" stroke-width="1.8" fill="none"/>
<path d="M272.00,483.73 V499.98 M268.00,483.73 H276.00 M268.00,499.98 H276.00" stroke="#1b4c88" stroke-width="1.8" fill="none"/>
<path d="M288.30,532.32 V542.94 M284.30,532.32 H292.30 M284.30,542.94 H292.30" stroke="#1b4c88" stroke-width="1.8" fill="none"/>
<path d="M232.50,417.94 V423.88 M228.50,417.94 H236.50 M228.50,423.88 H236.50" stroke="#1b4c88" stroke-width="1.8" fill="none"/>
<path d="M272.00,419.04 V427.01 M268.00,419.04 H276.00 M268.00,427.01 H276.00" stroke="#1b4c88" stroke-width="1.8" fill="none"/>
<path d="M312.50,463.57 V478.10 M308.50,463.57 H316.50 M308.50,478.10 H316.50" stroke="#1b4c88" stroke-width="1.8" fill="none"/>
<path d="M272.00,435.60 V446.07 M268.00,435.60 H276.00 M268.00,446.07 H276.00" stroke="#1b4c88" stroke-width="1.8" fill="none"/>
<path d="M312.50,437.48 V449.98 M308.50,437.48 H316.50 M308.50,449.98 H316.50" stroke="#1b4c88" stroke-width="1.8" fill="none"/>
<path d="M328.80,444.19 V461.54 M324.80,444.19 H332.80 M324.80,461.54 H332.80" stroke="#1b4c88" stroke-width="1.8" fill="none"/>
<path d="M340.40,462.48 V472.01 M336.40,462.48 H344.40 M336.40,472.01 H344.40" stroke="#1b4c88" stroke-width="1.8" fill="none"/>
<path d="M351.90,489.98 V502.48 M347.90,489.98 H355.90 M347.90,502.48 H355.90" stroke="#1b4c88" stroke-width="1.8" fill="none"/>
<path d="M369.00,544.82 V560.13 M365.00,544.82 H373.00 M365.00,560.13 H373.00" stroke="#1b4c88" stroke-width="1.8" fill="none"/>
<path d="M312.50,420.76 V446.85 M308.50,420.76 H316.50 M308.50,446.85 H316.50" stroke="#1b4c88" stroke-width="1.8" fill="none"/>
<path d="M328.80,444.04 V451.85 M324.80,444.04 H332.80 M324.80,451.85 H332.80" stroke="#1b4c88" stroke-width="1.8" fill="none"/>
<path d="M381.50,529.35 V544.82 M377.50,529.35 H385.50 M377.50,544.82 H385.50" stroke="#1b4c88" stroke-width="1.8" fill="none"/>
<path d="M393.20,546.69 V568.73 M389.20,546.69 H397.20 M389.20,568.73 H397.20" stroke="#1b4c88" stroke-width="1.8" fill="none"/>
<path d="M151.90,441.69 L153.24,441.69 L154.57,441.69 L155.91,441.69 L157.25,441.69 L158.58,441.69 L159.92,441.69 L161.26,441.69 L162.59,441.70 L163.93,441.70 L165.27,441.70 L166.60,441.70 L167.94,441.70 L169.28,441.70 L170.61,441.70 L171.95,441.70 L173.29,441.70 L174.62,441.70 L175.96,441.70 L177.30,441.70 L178.63,441.70 L179.97,441.71 L181.31,441.71 L182.64,441.71 L183.98,441.71 L185.32,441.72 L186.65,441.72 L187.99,441.73 L189.33,441.73 L190.66,441.74 L192.00,441.75 L193.34,441.76 L194.67,441.77 L196.01,441.79 L197.35,441.81 L198.68,441.83 L200.02,441.85 L201.36,441.88 L202.69,441.92 L204.03,441.96 L205.37,442.01 L206.70,442.07 L208.04,442.13 L209.38,442.22 L210.71,442.31 L212.05,442.43 L213.39,442.57 L214.72,442.73 L216.06,442.92 L217.40,443.15 L218.73,443.42 L220.07,443.74 L221.41,444.11 L222.74,444.55 L224.08,445.08 L225.42,445.69 L226.75,446.42 L228.09,447.27 L229.43,448.27 L230.76,449.44 L232.10,450.80 L233.44,452.38 L234.77,454.21 L236.11,456.33 L237.45,458.75 L238.78,461.52 L240.12,464.66 L241.46,468.20 L242.79,472.15 L244.13,476.53 L245.47,481.32 L246.80,486.51 L248.14,492.08 L249.48,497.96 L250.81,504.10 L252.15,510.41 L253.49,516.82 L254.82,523.21 L256.16,529.52 L257.50,535.63 L258.83,541.49 L260.17,547.01 L261.51,552.17 L262.84,556.92 L264.18,561.25 L265.52,565.16 L266.85,568.66 L268.19,571.76 L269.53,574.49 L270.86,576.89 L272.20,578.97 L273.54,580.78 L274.87,582.34 L276.21,583.68 L277.55,584.83 L278.88,585.81 L280.22,586.65 L281.56,587.36 L282.89,587.97 L284.23,588.48 L285.57,588.92 L286.90,589.29 L288.24,589.60 L289.58,589.86 L290.91,590.09 L292.25,590.28 L293.59,590.44 L294.92,590.57 L296.26,590.60 L297.60,590.60 L298.93,590.60 L300.27,590.60 L301.61,590.60 L302.94,590.60 L304.28,590.60 L305.62,590.60 L306.95,590.60 L308.29,590.60 L309.63,590.60 L310.96,590.60 L312.30,590.60" stroke="#1b4c88" stroke-width="1.9" fill="none"/>
<path d="M151.90,436.23 L153.24,436.24 L154.58,436.24 L155.92,436.24 L157.26,436.24 L158.60,436.24 L159.94,436.24 L161.28,436.24 L162.62,436.25 L163.96,436.25 L165.30,436.25 L166.64,436.25 L167.98,436.26 L169.32,436.26 L170.66,436.26 L172.00,436.27 L173.34,436.27 L174.68,436.28 L176.02,436.28 L177.36,436.29 L178.70,436.30 L180.04,436.31 L181.38,436.31 L182.72,436.32 L184.06,436.34 L185.40,436.35 L186.74,436.36 L188.08,436.37 L189.42,436.39 L190.76,436.41 L192.10,436.43 L193.44,436.45 L194.78,436.47 L196.12,436.50 L197.46,436.53 L198.80,436.56 L200.14,436.60 L201.48,436.64 L202.82,436.69 L204.16,436.74 L205.50,436.79 L206.84,436.85 L208.18,436.92 L209.52,436.99 L210.86,437.07 L212.20,437.17 L213.54,437.27 L214.88,437.38 L216.22,437.50 L217.56,437.64 L218.90,437.79 L220.24,437.95 L221.58,438.14 L222.92,438.34 L224.26,438.57 L225.60,438.82 L226.94,439.09 L228.28,439.39 L229.62,439.73 L230.96,440.09 L232.30,440.50 L233.64,440.94 L234.98,441.44 L236.32,441.98 L237.66,442.57 L239.00,443.22 L240.34,443.94 L241.68,444.73 L243.02,445.59 L244.36,446.53 L245.70,447.55 L247.04,448.68 L248.38,449.90 L249.72,451.22 L251.06,452.67 L252.40,454.23 L253.74,455.92 L255.08,457.74 L256.42,459.70 L257.76,461.80 L259.10,464.05 L260.44,466.46 L261.78,469.01 L263.12,471.71 L264.46,474.57 L265.80,477.58 L267.14,480.72 L268.48,484.01 L269.82,487.42 L271.16,490.94 L272.50,494.56 L273.84,498.28 L275.18,502.05 L276.52,505.88 L277.86,509.74 L279.20,513.62 L280.54,517.48 L281.88,521.31 L283.22,525.10 L284.56,528.81 L285.90,532.45 L287.24,535.98 L288.58,539.40 L289.92,542.69 L291.26,545.85 L292.60,548.87 L293.94,551.74 L295.28,554.46 L296.62,557.03 L297.96,559.44 L299.30,561.71 L300.64,563.82 L301.98,565.79 L303.32,567.63 L304.66,569.33 L306.00,570.90 L307.34,572.35 L308.68,573.69 L310.02,574.92 L311.36,576.05 L312.70,577.09" stroke="#1b4c88" stroke-width="1.9" fill="none"/>
<path d="M151.90,432.32 L153.68,432.32 L155.46,432.32 L157.24,432.32 L159.02,432.32 L160.80,432.32 L162.58,432.32 L164.35,432.32 L166.13,432.32 L167.91,432.32 L169.69,432.32 L171.47,432.32 L173.25,432.32 L175.03,432.32 L176.81,432.32 L178.59,432.32 L180.37,432.32 L182.15,432.32 L183.93,432.32 L185.70,432.32 L187.48,432.32 L189.26,432.32 L191.04,432.32 L192.82,432.32 L194.60,432.32 L196.38,432.32 L198.16,432.32 L199.94,432.32 L201.72,432.32 L203.50,432.32 L205.28,432.32 L207.05,432.32 L208.83,432.33 L210.61,432.33 L212.39,432.33 L214.17,432.33 L215.95,432.33 L217.73,432.33 L219.51,432.34 L221.29,432.34 L223.07,432.34 L224.85,432.35 L226.62,432.35 L228.40,432.36 L230.18,432.36 L231.96,432.37 L233.74,432.38 L235.52,432.39 L237.30,432.40 L239.08,432.41 L240.86,432.42 L242.64,432.44 L244.42,432.46 L246.20,432.49 L247.97,432.51 L249.75,432.54 L251.53,432.58 L253.31,432.62 L255.09,432.67 L256.87,432.73 L258.65,432.79 L260.43,432.87 L262.21,432.96 L263.99,433.06 L265.77,433.18 L267.55,433.32 L269.32,433.49 L271.10,433.67 L272.88,433.89 L274.66,434.14 L276.44,434.43 L278.22,434.77 L280.00,435.16 L281.78,435.61 L283.56,436.14 L285.34,436.74 L287.12,437.43 L288.90,438.23 L290.67,439.15 L292.45,440.21 L294.23,441.42 L296.01,442.80 L297.79,444.37 L299.57,446.16 L301.35,448.19 L303.13,450.48 L304.91,453.06 L306.69,455.94 L308.47,459.14 L310.25,462.69 L312.02,466.59 L313.80,470.85 L315.58,475.46 L317.36,480.42 L319.14,485.69 L320.92,491.25 L322.70,497.06 L324.48,503.06 L326.26,509.18 L328.04,515.37 L329.82,521.55 L331.60,527.65 L333.38,533.62 L335.15,539.38 L336.93,544.89 L338.71,550.11 L340.49,555.01 L342.27,559.55 L344.05,563.75 L345.83,567.58 L347.61,571.07 L349.39,574.21 L351.17,577.03 L352.95,579.56 L354.72,581.80 L356.50,583.78 L358.28,585.53 L360.06,587.06 L361.84,588.41 L363.62,589.59 L365.40,590.60" stroke="#1b4c88" stroke-width="1.9" fill="none"/>
<path d="M151.90,439.66 L154.01,439.66 L156.12,439.66 L158.23,439.66 L160.34,439.66 L162.45,439.66 L164.56,439.66 L166.68,439.66 L168.79,439.66 L170.90,439.66 L173.01,439.66 L175.12,439.66 L177.23,439.66 L179.34,439.66 L181.45,439.66 L183.56,439.66 L185.67,439.66 L187.78,439.66 L189.90,439.66 L192.01,439.66 L194.12,439.66 L196.23,439.66 L198.34,439.66 L200.45,439.66 L202.56,439.66 L204.67,439.66 L206.78,439.66 L208.89,439.66 L211.00,439.66 L213.11,439.66 L215.22,439.66 L217.34,439.66 L219.45,439.66 L221.56,439.66 L223.67,439.66 L225.78,439.66 L227.89,439.66 L230.00,439.66 L232.11,439.66 L234.22,439.66 L236.33,439.67 L238.44,439.67 L240.56,439.67 L242.67,439.67 L244.78,439.67 L246.89,439.67 L249.00,439.67 L251.11,439.67 L253.22,439.68 L255.33,439.68 L257.44,439.68 L259.55,439.69 L261.66,439.69 L263.77,439.70 L265.88,439.70 L268.00,439.71 L270.11,439.72 L272.22,439.74 L274.33,439.75 L276.44,439.77 L278.55,439.79 L280.66,439.82 L282.77,439.85 L284.88,439.89 L286.99,439.94 L289.10,440.00 L291.22,440.07 L293.33,440.15 L295.44,440.25 L297.55,440.37 L299.66,440.52 L301.77,440.70 L303.88,440.91 L305.99,441.17 L308.10,441.48 L310.21,441.85 L312.32,442.30 L314.43,442.83 L316.54,443.48 L318.66,444.25 L320.77,445.17 L322.88,446.26 L324.99,447.56 L327.10,449.11 L329.21,450.93 L331.32,453.07 L333.43,455.58 L335.54,458.49 L337.65,461.85 L339.76,465.70 L341.88,470.06 L343.99,474.96 L346.10,480.39 L348.21,486.34 L350.32,492.76 L352.43,499.59 L354.54,506.73 L356.65,514.06 L358.76,521.47 L360.87,528.82 L362.98,535.99 L365.09,542.85 L367.20,549.33 L369.32,555.33 L371.43,560.82 L373.54,565.78 L375.65,570.21 L377.76,574.11 L379.87,577.53 L381.98,580.49 L384.09,583.03 L386.20,585.22 L388.31,587.07 L390.42,588.65 L392.53,589.97 L394.65,590.60 L396.76,590.60 L398.87,590.60 L400.98,590.60 L403.09,590.60 L405.20,590.60" stroke="#1b4c88" stroke-width="1.9" fill="none"/>
<path d="M151.90,428.73 L154.01,428.73 L156.12,428.73 L158.23,428.73 L160.34,428.74 L162.45,428.74 L164.56,428.74 L166.68,428.74 L168.79,428.74 L170.90,428.74 L173.01,428.74 L175.12,428.75 L177.23,428.75 L179.34,428.75 L181.45,428.75 L183.56,428.76 L185.67,428.76 L187.78,428.76 L189.90,428.77 L192.01,428.77 L194.12,428.78 L196.23,428.78 L198.34,428.79 L200.45,428.79 L202.56,428.80 L204.67,428.81 L206.78,428.82 L208.89,428.82 L211.00,428.84 L213.11,428.85 L215.22,428.86 L217.34,428.87 L219.45,428.89 L221.56,428.90 L223.67,428.92 L225.78,428.94 L227.89,428.97 L230.00,428.99 L232.11,429.02 L234.22,429.05 L236.33,429.08 L238.44,429.12 L240.56,429.16 L242.67,429.20 L244.78,429.25 L246.89,429.31 L249.00,429.37 L251.11,429.43 L253.22,429.51 L255.33,429.59 L257.44,429.67 L259.55,429.77 L261.66,429.88 L263.77,430.00 L265.88,430.12 L268.00,430.27 L270.11,430.43 L272.22,430.60 L274.33,430.79 L276.44,431.00 L278.55,431.23 L280.66,431.48 L282.77,431.76 L284.88,432.07 L286.99,432.41 L289.10,432.78 L291.22,433.19 L293.33,433.63 L295.44,434.12 L297.55,434.66 L299.66,435.25 L301.77,435.89 L303.88,436.60 L305.99,437.37 L308.10,438.21 L310.21,439.13 L312.32,440.13 L314.43,441.22 L316.54,442.41 L318.66,443.70 L320.77,445.09 L322.88,446.61 L324.99,448.24 L327.10,450.01 L329.21,451.91 L331.32,453.95 L333.43,456.14 L335.54,458.48 L337.65,460.98 L339.76,463.63 L341.88,466.45 L343.99,469.43 L346.10,472.56 L348.21,475.85 L350.32,479.30 L352.43,482.89 L354.54,486.61 L356.65,490.46 L358.76,494.42 L360.87,498.47 L362.98,502.60 L365.09,506.80 L367.20,511.04 L369.32,515.30 L371.43,519.56 L373.54,523.80 L375.65,528.00 L377.76,532.15 L379.87,536.22 L381.98,540.20 L384.09,544.07 L386.20,547.82 L388.31,551.43 L390.42,554.90 L392.53,558.22 L394.65,561.39 L396.76,564.40 L398.87,567.24 L400.98,569.93 L403.09,572.45 L405.20,574.82" stroke="#1b4c88" stroke-width="1.9" fill="none"/>
<circle cx="151.90" cy="440.60" r="3.50" fill="none" stroke="#1b4c88" stroke-width="1.8"/>
<circle cx="272.00" cy="440.44" r="3.50" fill="none" stroke="#1b4c88" stroke-width="1.8"/>
<circle cx="312.50" cy="443.26" r="3.50" fill="none" stroke="#1b4c88" stroke-width="1.8"/>
<circle cx="328.80" cy="455.76" r="3.50" fill="none" stroke="#1b4c88" stroke-width="1.8"/>
<circle cx="340.40" cy="467.32" r="3.50" fill="none" stroke="#1b4c88" stroke-width="1.8"/>
<circle cx="351.90" cy="495.29" r="3.50" fill="none" stroke="#1b4c88" stroke-width="1.8"/>
<circle cx="369.00" cy="552.48" r="3.50" fill="none" stroke="#1b4c88" stroke-width="1.8"/>
<circle cx="380.80" cy="585.13" r="3.50" fill="none" stroke="#1b4c88" stroke-width="1.8"/>
<circle cx="393.20" cy="590.60" r="3.50" fill="none" stroke="#1b4c88" stroke-width="1.8"/>
<circle cx="405.20" cy="590.60" r="3.50" fill="none" stroke="#1b4c88" stroke-width="1.8"/>
<path d="M151.90,436.23 L156.21,444.24 L147.59,444.24Z" fill="#1b4c88"/>
<path d="M191.70,438.89 L196.01,446.89 L187.39,446.89Z" fill="#1b4c88"/>
<path d="M207.50,441.23 L211.81,449.24 L203.19,449.24Z" fill="#1b4c88"/>
<path d="M232.50,442.17 L236.81,450.17 L228.19,450.17Z" fill="#1b4c88"/>
<path d="M248.50,491.54 L252.81,499.55 L244.19,499.55Z" fill="#1b4c88"/>
<path d="M260.40,540.92 L264.71,548.92 L256.09,548.92Z" fill="#1b4c88"/>
<path d="M272.00,574.51 L276.31,582.52 L267.69,582.52Z" fill="#1b4c88"/>
<path d="M287.30,585.76 L291.61,593.77 L282.99,593.77Z" fill="#1b4c88"/>
<path d="M300.80,585.76 L305.11,593.77 L296.49,593.77Z" fill="#1b4c88"/>
<path d="M312.30,585.76 L316.61,593.77 L307.99,593.77Z" fill="#1b4c88"/>
<circle cx="151.90" cy="438.26" r="4.40" fill="#1b4c88"/>
<circle cx="191.70" cy="428.73" r="4.40" fill="#1b4c88"/>
<circle cx="207.50" cy="431.23" r="4.40" fill="#1b4c88"/>
<circle cx="220.00" cy="430.60" r="4.40" fill="#1b4c88"/>
<circle cx="232.50" cy="436.54" r="4.40" fill="#1b4c88"/>
<circle cx="248.50" cy="450.44" r="4.40" fill="#1b4c88"/>
<circle cx="260.40" cy="470.76" r="4.40" fill="#1b4c88"/>
<circle cx="272.00" cy="491.38" r="4.40" fill="#1b4c88"/>
<circle cx="288.30" cy="539.04" r="4.40" fill="#1b4c88"/>
<circle cx="300.80" cy="562.16" r="4.40" fill="#1b4c88"/>
<circle cx="312.70" cy="578.57" r="4.40" fill="#1b4c88"/>
<circle cx="151.90" cy="434.35" r="4.40" fill="#1b4c88"/>
<circle cx="232.50" cy="423.88" r="4.40" fill="#1b4c88"/>
<circle cx="272.00" cy="427.01" r="4.40" fill="#1b4c88"/>
<circle cx="284.40" cy="435.60" r="4.40" fill="#1b4c88"/>
<circle cx="300.80" cy="447.94" r="4.40" fill="#1b4c88"/>
<circle cx="312.50" cy="470.29" r="4.40" fill="#1b4c88"/>
<circle cx="324.00" cy="499.35" r="4.40" fill="#1b4c88"/>
<circle cx="340.40" cy="555.44" r="4.40" fill="#1b4c88"/>
<circle cx="352.90" cy="579.35" r="4.40" fill="#1b4c88"/>
<circle cx="365.40" cy="590.60" r="4.40" fill="#1b4c88"/>
<path d="M151.90,429.05 L155.64,432.79 L151.90,436.53 L148.16,432.79Z" fill="#1b4c88"/>
<path d="M272.00,425.92 L275.74,429.66 L272.00,433.40 L268.26,429.66Z" fill="#1b4c88"/>
<path d="M312.50,429.99 L316.24,433.73 L312.50,437.47 L308.76,433.73Z" fill="#1b4c88"/>
<path d="M328.80,448.11 L332.54,451.85 L328.80,455.59 L325.06,451.85Z" fill="#1b4c88"/>
<path d="M351.90,483.74 L355.64,487.48 L351.90,491.22 L348.16,487.48Z" fill="#1b4c88"/>
<path d="M369.20,509.83 L372.94,513.57 L369.20,517.31 L365.46,513.57Z" fill="#1b4c88"/>
<path d="M381.50,533.74 L385.24,537.48 L381.50,541.22 L377.76,537.48Z" fill="#1b4c88"/>
<path d="M393.20,554.05 L396.94,557.79 L393.20,561.53 L389.46,557.79Z" fill="#1b4c88"/>
<path d="M405.20,573.11 L408.94,576.85 L405.20,580.59 L401.46,576.85Z" fill="#1b4c88"/>
<path d="M151.7,729.6 V913.9" stroke="#111" stroke-width="2" fill="none"/>
<path d="M145.2,912.90 H151.7" stroke="#111" stroke-width="1.7"/>
<text x="138.5" y="918.10" text-anchor="end" class="tk">0</text>
<path d="M145.2,883.63 H151.7" stroke="#111" stroke-width="1.7"/>
<text x="138.5" y="888.83" text-anchor="end" class="tk">20</text>
<path d="M145.2,854.36 H151.7" stroke="#111" stroke-width="1.7"/>
<text x="138.5" y="859.56" text-anchor="end" class="tk">40</text>
<path d="M145.2,825.09 H151.7" stroke="#111" stroke-width="1.7"/>
<text x="138.5" y="830.29" text-anchor="end" class="tk">60</text>
<path d="M145.2,795.82 H151.7" stroke="#111" stroke-width="1.7"/>
<text x="138.5" y="801.02" text-anchor="end" class="tk">80</text>
<path d="M145.2,766.55 H151.7" stroke="#111" stroke-width="1.7"/>
<text x="138.5" y="771.75" text-anchor="end" class="tk">100</text>
<path d="M145.2,737.28 H151.7" stroke="#111" stroke-width="1.7"/>
<text x="138.5" y="742.48" text-anchor="end" class="tk">120</text>
<path d="M145.0,912.90 H416.7" stroke="#111" stroke-width="2" fill="none"/>
<path d="M164.78,912.90 V916.10" stroke="#111" stroke-width="1.3"/>
<path d="M172.54,912.90 V916.10" stroke="#111" stroke-width="1.3"/>
<path d="M178.05,912.90 V916.10" stroke="#111" stroke-width="1.3"/>
<path d="M182.32,912.90 V916.10" stroke="#111" stroke-width="1.3"/>
<path d="M185.82,912.90 V916.10" stroke="#111" stroke-width="1.3"/>
<path d="M188.77,912.90 V916.10" stroke="#111" stroke-width="1.3"/>
<path d="M191.33,912.90 V916.10" stroke="#111" stroke-width="1.3"/>
<path d="M193.58,912.90 V916.10" stroke="#111" stroke-width="1.3"/>
<path d="M195.60,912.90 V918.90" stroke="#111" stroke-width="1.3"/>
<path d="M208.88,912.90 V916.10" stroke="#111" stroke-width="1.3"/>
<path d="M216.64,912.90 V916.10" stroke="#111" stroke-width="1.3"/>
<path d="M222.15,912.90 V916.10" stroke="#111" stroke-width="1.3"/>
<path d="M226.42,912.90 V916.10" stroke="#111" stroke-width="1.3"/>
<path d="M229.92,912.90 V916.10" stroke="#111" stroke-width="1.3"/>
<path d="M232.87,912.90 V916.10" stroke="#111" stroke-width="1.3"/>
<path d="M235.43,912.90 V916.10" stroke="#111" stroke-width="1.3"/>
<path d="M237.68,912.90 V916.10" stroke="#111" stroke-width="1.3"/>
<path d="M239.70,912.90 V918.90" stroke="#111" stroke-width="1.3"/>
<path d="M252.98,912.90 V916.10" stroke="#111" stroke-width="1.3"/>
<path d="M260.74,912.90 V916.10" stroke="#111" stroke-width="1.3"/>
<path d="M266.25,912.90 V916.10" stroke="#111" stroke-width="1.3"/>
<path d="M270.52,912.90 V916.10" stroke="#111" stroke-width="1.3"/>
<path d="M274.02,912.90 V916.10" stroke="#111" stroke-width="1.3"/>
<path d="M276.97,912.90 V916.10" stroke="#111" stroke-width="1.3"/>
<path d="M279.53,912.90 V916.10" stroke="#111" stroke-width="1.3"/>
<path d="M281.78,912.90 V916.10" stroke="#111" stroke-width="1.3"/>
<path d="M283.80,912.90 V918.90" stroke="#111" stroke-width="1.3"/>
<path d="M297.08,912.90 V916.10" stroke="#111" stroke-width="1.3"/>
<path d="M304.84,912.90 V916.10" stroke="#111" stroke-width="1.3"/>
<path d="M310.35,912.90 V916.10" stroke="#111" stroke-width="1.3"/>
<path d="M314.62,912.90 V916.10" stroke="#111" stroke-width="1.3"/>
<path d="M318.12,912.90 V916.10" stroke="#111" stroke-width="1.3"/>
<path d="M321.07,912.90 V916.10" stroke="#111" stroke-width="1.3"/>
<path d="M323.63,912.90 V916.10" stroke="#111" stroke-width="1.3"/>
<path d="M325.88,912.90 V916.10" stroke="#111" stroke-width="1.3"/>
<path d="M327.90,912.90 V918.90" stroke="#111" stroke-width="1.3"/>
<path d="M341.18,912.90 V916.10" stroke="#111" stroke-width="1.3"/>
<path d="M348.94,912.90 V916.10" stroke="#111" stroke-width="1.3"/>
<path d="M354.45,912.90 V916.10" stroke="#111" stroke-width="1.3"/>
<path d="M358.72,912.90 V916.10" stroke="#111" stroke-width="1.3"/>
<path d="M362.22,912.90 V916.10" stroke="#111" stroke-width="1.3"/>
<path d="M365.17,912.90 V916.10" stroke="#111" stroke-width="1.3"/>
<path d="M367.73,912.90 V916.10" stroke="#111" stroke-width="1.3"/>
<path d="M369.98,912.90 V916.10" stroke="#111" stroke-width="1.3"/>
<path d="M372.00,912.90 V918.90" stroke="#111" stroke-width="1.3"/>
<path d="M385.28,912.90 V916.10" stroke="#111" stroke-width="1.3"/>
<path d="M393.04,912.90 V916.10" stroke="#111" stroke-width="1.3"/>
<path d="M398.55,912.90 V916.10" stroke="#111" stroke-width="1.3"/>
<path d="M402.82,912.90 V916.10" stroke="#111" stroke-width="1.3"/>
<path d="M406.32,912.90 V916.10" stroke="#111" stroke-width="1.3"/>
<path d="M409.27,912.90 V916.10" stroke="#111" stroke-width="1.3"/>
<path d="M411.83,912.90 V916.10" stroke="#111" stroke-width="1.3"/>
<path d="M414.08,912.90 V916.10" stroke="#111" stroke-width="1.3"/>
<path d="M416.10,912.90 V918.90" stroke="#111" stroke-width="1.3"/>
<text x="195.60" y="937.6" text-anchor="middle" class="tk">1</text>
<text x="284.20" y="937.6" text-anchor="middle" class="tk">100</text>
<text x="372.40" y="937.6" text-anchor="middle" class="tk">10000</text>
<path d="M203.70,770.21 V777.97 M199.70,770.21 H207.70 M199.70,777.97 H207.70" stroke="#1b4c88" stroke-width="1.8" fill="none"/>
<path d="M224.80,773.87 V786.16 M220.80,773.87 H228.80 M220.80,786.16 H228.80" stroke="#1b4c88" stroke-width="1.8" fill="none"/>
<path d="M246.20,786.16 V798.60 M242.20,786.16 H250.20 M242.20,798.60 H250.20" stroke="#1b4c88" stroke-width="1.8" fill="none"/>
<path d="M266.90,794.80 V808.26 M262.90,794.80 H270.90 M262.90,808.26 H270.90" stroke="#1b4c88" stroke-width="1.8" fill="none"/>
<path d="M287.50,817.04 V829.48 M283.50,817.04 H291.50 M283.50,829.48 H291.50" stroke="#1b4c88" stroke-width="1.8" fill="none"/>
<path d="M309.00,832.41 V842.65 M305.00,832.41 H313.00 M305.00,842.65 H313.00" stroke="#1b4c88" stroke-width="1.8" fill="none"/>
<path d="M330.00,858.02 V875.43 M326.00,858.02 H334.00 M326.00,875.43 H334.00" stroke="#1b4c88" stroke-width="1.8" fill="none"/>
<path d="M350.80,875.43 V890.36 M346.80,875.43 H354.80 M346.80,890.36 H354.80" stroke="#1b4c88" stroke-width="1.8" fill="none"/>
<path d="M224.80,758.50 V767.87 M220.80,758.50 H228.80 M220.80,767.87 H228.80" stroke="#1b4c88" stroke-width="1.8" fill="none"/>
<path d="M246.20,760.26 V774.60 M242.20,760.26 H250.20 M242.20,774.60 H250.20" stroke="#1b4c88" stroke-width="1.8" fill="none"/>
<path d="M330.00,830.36 V843.09 M326.00,830.36 H334.00 M326.00,843.09 H334.00" stroke="#1b4c88" stroke-width="1.8" fill="none"/>
<path d="M372.00,871.92 V885.83 M368.00,871.92 H376.00 M368.00,885.83 H376.00" stroke="#1b4c88" stroke-width="1.8" fill="none"/>
<path d="M266.90,759.23 V764.06 M262.90,759.23 H270.90 M262.90,764.06 H270.90" stroke="#1b4c88" stroke-width="1.8" fill="none"/>
<path d="M287.50,760.70 V766.84 M283.50,760.70 H291.50 M283.50,766.84 H291.50" stroke="#1b4c88" stroke-width="1.8" fill="none"/>
<path d="M308.70,765.09 V775.62 M304.70,765.09 H312.70 M304.70,775.62 H312.70" stroke="#1b4c88" stroke-width="1.8" fill="none"/>
<path d="M351.00,803.14 V816.31 M347.00,803.14 H355.00 M347.00,816.31 H355.00" stroke="#1b4c88" stroke-width="1.8" fill="none"/>
<path d="M330.00,781.18 V789.97 M326.00,781.18 H334.00 M326.00,789.97 H334.00" stroke="#1b4c88" stroke-width="1.8" fill="none"/>
<path d="M372.70,771.53 V786.01 M368.70,771.53 H376.70 M368.70,786.01 H376.70" stroke="#1b4c88" stroke-width="1.8" fill="none"/>
<path d="M372.30,836.80 V847.04 M368.30,836.80 H376.30 M368.30,847.04 H376.30" stroke="#1b4c88" stroke-width="1.8" fill="none"/>
<path d="M151.70,767.60 L153.54,767.75 L155.37,767.91 L157.21,768.07 L159.04,768.24 L160.88,768.42 L162.72,768.60 L164.55,768.80 L166.39,769.00 L168.22,769.21 L170.06,769.42 L171.89,769.65 L173.73,769.89 L175.57,770.13 L177.40,770.39 L179.24,770.66 L181.07,770.94 L182.91,771.23 L184.75,771.53 L186.58,771.84 L188.42,772.17 L190.25,772.51 L192.09,772.87 L193.92,773.23 L195.76,773.62 L197.60,774.01 L199.43,774.43 L201.27,774.86 L203.10,775.31 L204.94,775.77 L206.77,776.25 L208.61,776.75 L210.45,777.27 L212.28,777.81 L214.12,778.37 L215.95,778.95 L217.79,779.55 L219.63,780.18 L221.46,780.82 L223.30,781.49 L225.13,782.19 L226.97,782.90 L228.81,783.65 L230.64,784.41 L232.48,785.21 L234.31,786.03 L236.15,786.87 L237.98,787.75 L239.82,788.65 L241.66,789.58 L243.49,790.54 L245.33,791.53 L247.16,792.54 L249.00,793.59 L250.83,794.67 L252.67,795.78 L254.51,796.92 L256.34,798.08 L258.18,799.28 L260.01,800.51 L261.85,801.78 L263.69,803.07 L265.52,804.39 L267.36,805.74 L269.19,807.12 L271.03,808.53 L272.87,809.97 L274.70,811.44 L276.54,812.94 L278.37,814.46 L280.21,816.01 L282.04,817.59 L283.88,819.19 L285.72,820.81 L287.55,822.46 L289.39,824.12 L291.22,825.81 L293.06,827.52 L294.89,829.24 L296.73,830.98 L298.57,832.73 L300.40,834.50 L302.24,836.28 L304.07,838.07 L305.91,839.86 L307.75,841.67 L309.58,843.47 L311.42,845.29 L313.25,847.10 L315.09,848.91 L316.92,850.72 L318.76,852.52 L320.60,854.32 L322.43,856.11 L324.27,857.89 L326.10,859.67 L327.94,861.43 L329.78,863.17 L331.61,864.90 L333.45,866.61 L335.28,868.31 L337.12,869.98 L338.96,871.64 L340.79,873.27 L342.63,874.88 L344.46,876.46 L346.30,878.02 L348.13,879.56 L349.97,881.06 L351.81,882.54 L353.64,883.99 L355.48,885.42 L357.31,886.81 L359.15,888.17 L360.99,889.51 L362.82,890.81 L364.66,892.08 L366.49,893.33 L368.33,894.54 L370.16,895.72 L372.00,896.87" stroke="#1b4c88" stroke-width="1.9" fill="none"/>
<path d="M151.70,765.00 L153.54,765.02 L155.37,765.03 L157.21,765.05 L159.04,765.07 L160.88,765.09 L162.72,765.11 L164.55,765.13 L166.39,765.16 L168.22,765.18 L170.06,765.21 L171.89,765.24 L173.73,765.27 L175.57,765.30 L177.40,765.34 L179.24,765.38 L181.07,765.42 L182.91,765.46 L184.75,765.51 L186.58,765.56 L188.42,765.61 L190.25,765.67 L192.09,765.73 L193.92,765.79 L195.76,765.86 L197.60,765.94 L199.43,766.01 L201.27,766.10 L203.10,766.19 L204.94,766.28 L206.77,766.38 L208.61,766.49 L210.45,766.61 L212.28,766.73 L214.12,766.86 L215.95,767.00 L217.79,767.15 L219.63,767.31 L221.46,767.48 L223.30,767.66 L225.13,767.86 L226.97,768.06 L228.81,768.28 L230.64,768.51 L232.48,768.76 L234.31,769.02 L236.15,769.31 L237.98,769.60 L239.82,769.92 L241.66,770.26 L243.49,770.62 L245.33,771.00 L247.16,771.40 L249.00,771.83 L250.83,772.29 L252.67,772.77 L254.51,773.28 L256.34,773.83 L258.18,774.40 L260.01,775.01 L261.85,775.66 L263.69,776.34 L265.52,777.06 L267.36,777.82 L269.19,778.62 L271.03,779.47 L272.87,780.36 L274.70,781.29 L276.54,782.28 L278.37,783.32 L280.21,784.40 L282.04,785.55 L283.88,786.74 L285.72,787.99 L287.55,789.30 L289.39,790.66 L291.22,792.08 L293.06,793.56 L294.89,795.09 L296.73,796.69 L298.57,798.34 L300.40,800.05 L302.24,801.82 L304.07,803.65 L305.91,805.52 L307.75,807.45 L309.58,809.43 L311.42,811.46 L313.25,813.53 L315.09,815.64 L316.92,817.79 L318.76,819.97 L320.60,822.18 L322.43,824.42 L324.27,826.68 L326.10,828.96 L327.94,831.25 L329.78,833.54 L331.61,835.84 L333.45,838.13 L335.28,840.41 L337.12,842.69 L338.96,844.94 L340.79,847.17 L342.63,849.37 L344.46,851.55 L346.30,853.68 L348.13,855.78 L349.97,857.83 L351.81,859.84 L353.64,861.81 L355.48,863.72 L357.31,865.58 L359.15,867.38 L360.99,869.13 L362.82,870.82 L364.66,872.45 L366.49,874.03 L368.33,875.54 L370.16,877.00 L372.00,878.40" stroke="#1b4c88" stroke-width="1.9" fill="none"/>
<path d="M151.70,765.08 L153.54,765.08 L155.37,765.08 L157.21,765.08 L159.04,765.08 L160.88,765.08 L162.72,765.08 L164.55,765.09 L166.39,765.09 L168.22,765.09 L170.06,765.09 L171.89,765.09 L173.73,765.09 L175.57,765.09 L177.40,765.09 L179.24,765.09 L181.07,765.10 L182.91,765.10 L184.75,765.10 L186.58,765.10 L188.42,765.10 L190.25,765.11 L192.09,765.11 L193.92,765.11 L195.76,765.12 L197.60,765.12 L199.43,765.12 L201.27,765.13 L203.10,765.13 L204.94,765.14 L206.77,765.14 L208.61,765.15 L210.45,765.15 L212.28,765.16 L214.12,765.17 L215.95,765.18 L217.79,765.19 L219.63,765.20 L221.46,765.21 L223.30,765.22 L225.13,765.23 L226.97,765.25 L228.81,765.26 L230.64,765.28 L232.48,765.30 L234.31,765.32 L236.15,765.34 L237.98,765.36 L239.82,765.39 L241.66,765.42 L243.49,765.45 L245.33,765.49 L247.16,765.52 L249.00,765.56 L250.83,765.61 L252.67,765.66 L254.51,765.71 L256.34,765.77 L258.18,765.83 L260.01,765.90 L261.85,765.97 L263.69,766.06 L265.52,766.15 L267.36,766.24 L269.19,766.35 L271.03,766.47 L272.87,766.59 L274.70,766.73 L276.54,766.88 L278.37,767.04 L280.21,767.22 L282.04,767.41 L283.88,767.62 L285.72,767.85 L287.55,768.10 L289.39,768.37 L291.22,768.67 L293.06,768.99 L294.89,769.34 L296.73,769.72 L298.57,770.13 L300.40,770.57 L302.24,771.05 L304.07,771.58 L305.91,772.14 L307.75,772.76 L309.58,773.42 L311.42,774.14 L313.25,774.91 L315.09,775.74 L316.92,776.64 L318.76,777.60 L320.60,778.64 L322.43,779.75 L324.27,780.94 L326.10,782.22 L327.94,783.58 L329.78,785.03 L331.61,786.58 L333.45,788.22 L335.28,789.95 L337.12,791.79 L338.96,793.73 L340.79,795.78 L342.63,797.92 L344.46,800.16 L346.30,802.50 L348.13,804.94 L349.97,807.46 L351.81,810.08 L353.64,812.77 L355.48,815.53 L357.31,818.36 L359.15,821.24 L360.99,824.17 L362.82,827.14 L364.66,830.12 L366.49,833.12 L368.33,836.13 L370.16,839.12 L372.00,842.09" stroke="#1b4c88" stroke-width="1.9" fill="none"/>
<path d="M151.70,766.44 L153.65,766.45 L155.60,766.46 L157.55,766.47 L159.50,766.48 L161.45,766.49 L163.41,766.50 L165.36,766.51 L167.31,766.52 L169.26,766.53 L171.21,766.54 L173.16,766.55 L175.11,766.57 L177.06,766.58 L179.01,766.60 L180.96,766.62 L182.91,766.64 L184.86,766.65 L186.81,766.67 L188.77,766.70 L190.72,766.72 L192.67,766.74 L194.62,766.77 L196.57,766.80 L198.52,766.83 L200.47,766.86 L202.42,766.89 L204.37,766.93 L206.32,766.97 L208.27,767.01 L210.22,767.05 L212.18,767.10 L214.13,767.14 L216.08,767.19 L218.03,767.25 L219.98,767.31 L221.93,767.37 L223.88,767.43 L225.83,767.50 L227.78,767.58 L229.73,767.66 L231.68,767.74 L233.63,767.83 L235.59,767.92 L237.54,768.02 L239.49,768.13 L241.44,768.24 L243.39,768.36 L245.34,768.49 L247.29,768.62 L249.24,768.77 L251.19,768.92 L253.14,769.08 L255.09,769.25 L257.05,769.43 L259.00,769.63 L260.95,769.83 L262.90,770.05 L264.85,770.28 L266.80,770.52 L268.75,770.78 L270.70,771.06 L272.65,771.35 L274.60,771.66 L276.55,771.99 L278.50,772.33 L280.46,772.70 L282.41,773.09 L284.36,773.50 L286.31,773.94 L288.26,774.40 L290.21,774.89 L292.16,775.41 L294.11,775.96 L296.06,776.54 L298.01,777.15 L299.96,777.79 L301.91,778.47 L303.87,779.19 L305.82,779.95 L307.77,780.75 L309.72,781.60 L311.67,782.48 L313.62,783.42 L315.57,784.40 L317.52,785.44 L319.47,786.53 L321.42,787.67 L323.37,788.87 L325.32,790.12 L327.27,791.44 L329.23,792.82 L331.18,794.26 L333.13,795.77 L335.08,797.35 L337.03,798.99 L338.98,800.70 L340.93,802.49 L342.88,804.34 L344.83,806.27 L346.78,808.27 L348.73,810.34 L350.69,812.48 L352.64,814.70 L354.59,816.99 L356.54,819.35 L358.49,821.78 L360.44,824.27 L362.39,826.83 L364.34,829.46 L366.29,832.14 L368.24,834.89 L370.19,837.68 L372.14,840.53 L374.10,843.42 L376.05,846.36 L378.00,849.33 L379.95,852.33 L381.90,855.36 L383.85,858.41 L385.80,861.47" stroke="#1b4c88" stroke-width="1.9" fill="none"/>
<circle cx="151.70" cy="766.55" r="3.50" fill="none" stroke="#1b4c88" stroke-width="1.8"/>
<circle cx="246.20" cy="765.82" r="3.50" fill="none" stroke="#1b4c88" stroke-width="1.8"/>
<circle cx="266.90" cy="764.06" r="3.50" fill="none" stroke="#1b4c88" stroke-width="1.8"/>
<circle cx="287.50" cy="766.84" r="3.50" fill="none" stroke="#1b4c88" stroke-width="1.8"/>
<circle cx="308.70" cy="775.62" r="3.50" fill="none" stroke="#1b4c88" stroke-width="1.8"/>
<circle cx="330.00" cy="784.11" r="3.50" fill="none" stroke="#1b4c88" stroke-width="1.8"/>
<circle cx="351.00" cy="809.14" r="3.50" fill="none" stroke="#1b4c88" stroke-width="1.8"/>
<circle cx="372.00" cy="842.07" r="3.50" fill="none" stroke="#1b4c88" stroke-width="1.8"/>
<path d="M151.70,761.71 L156.01,769.72 L147.39,769.72Z" fill="#1b4c88"/>
<path d="M203.70,770.78 L208.01,778.79 L199.39,778.79Z" fill="#1b4c88"/>
<path d="M224.80,777.52 L229.11,785.52 L220.49,785.52Z" fill="#1b4c88"/>
<path d="M246.20,789.96 L250.51,797.96 L241.89,797.96Z" fill="#1b4c88"/>
<path d="M266.90,798.74 L271.21,806.74 L262.59,806.74Z" fill="#1b4c88"/>
<path d="M287.50,818.79 L291.81,826.79 L283.19,826.79Z" fill="#1b4c88"/>
<path d="M309.00,832.69 L313.31,840.70 L304.69,840.70Z" fill="#1b4c88"/>
<path d="M330.00,862.40 L334.31,870.41 L325.69,870.41Z" fill="#1b4c88"/>
<path d="M350.80,878.64 L355.11,886.65 L346.49,886.65Z" fill="#1b4c88"/>
<path d="M372.00,890.21 L376.31,898.21 L367.69,898.21Z" fill="#1b4c88"/>
<circle cx="151.70" cy="766.55" r="4.40" fill="#1b4c88"/>
<circle cx="224.80" cy="767.87" r="4.40" fill="#1b4c88"/>
<circle cx="246.20" cy="767.87" r="4.40" fill="#1b4c88"/>
<circle cx="266.90" cy="779.43" r="4.40" fill="#1b4c88"/>
<circle cx="287.50" cy="788.94" r="4.40" fill="#1b4c88"/>
<circle cx="308.70" cy="808.26" r="4.40" fill="#1b4c88"/>
<circle cx="330.00" cy="835.77" r="4.40" fill="#1b4c88"/>
<circle cx="351.20" cy="856.56" r="4.40" fill="#1b4c88"/>
<circle cx="372.00" cy="879.53" r="4.40" fill="#1b4c88"/>
<path d="M266.90,765.01 L270.64,768.75 L266.90,772.49 L263.16,768.75Z" fill="#1b4c88"/>
<path d="M287.50,771.88 L291.24,775.62 L287.50,779.36 L283.76,775.62Z" fill="#1b4c88"/>
<path d="M308.70,781.40 L312.44,785.14 L308.70,788.88 L304.96,785.14Z" fill="#1b4c88"/>
<path d="M330.00,780.52 L333.74,784.26 L330.00,788.00 L326.26,784.26Z" fill="#1b4c88"/>
<path d="M351.00,799.84 L354.74,803.58 L351.00,807.32 L347.26,803.58Z" fill="#1b4c88"/>
<path d="M372.70,775.40 L376.44,779.14 L372.70,782.88 L368.96,779.14Z" fill="#1b4c88"/>
<circle cx="151.70" cy="766.55" r="4.40" fill="#1b4c88"/>
<circle cx="372.30" cy="842.36" r="4.40" fill="#1b4c88"/>
<circle cx="385.80" cy="860.80" r="4.40" fill="#1b4c88"/>
<path d="M151.9,1048.8 V1237.2" stroke="#111" stroke-width="2" fill="none"/>
<path d="M145.4,1236.20 H151.9" stroke="#111" stroke-width="1.7"/>
<text x="138.5" y="1241.40" text-anchor="end" class="tk">0</text>
<path d="M145.4,1210.37 H151.9" stroke="#111" stroke-width="1.7"/>
<text x="138.5" y="1215.57" text-anchor="end" class="tk">20</text>
<path d="M145.4,1184.54 H151.9" stroke="#111" stroke-width="1.7"/>
<text x="138.5" y="1189.74" text-anchor="end" class="tk">40</text>
<path d="M145.4,1158.72 H151.9" stroke="#111" stroke-width="1.7"/>
<text x="138.5" y="1163.92" text-anchor="end" class="tk">60</text>
<path d="M145.4,1132.89 H151.9" stroke="#111" stroke-width="1.7"/>
<text x="138.5" y="1138.09" text-anchor="end" class="tk">80</text>
<path d="M145.4,1107.06 H151.9" stroke="#111" stroke-width="1.7"/>
<text x="138.5" y="1112.26" text-anchor="end" class="tk">100</text>
<path d="M145.4,1081.23 H151.9" stroke="#111" stroke-width="1.7"/>
<text x="138.5" y="1086.43" text-anchor="end" class="tk">120</text>
<path d="M145.4,1055.40 H151.9" stroke="#111" stroke-width="1.7"/>
<text x="138.5" y="1060.60" text-anchor="end" class="tk">140</text>
<path d="M145.5,1236.20 H423.8" stroke="#111" stroke-width="2" fill="none"/>
<path d="M151.50,1236.20 V1242.20" stroke="#111" stroke-width="1.3"/>
<path d="M167.82,1236.20 V1239.40" stroke="#111" stroke-width="1.3"/>
<path d="M177.36,1236.20 V1239.40" stroke="#111" stroke-width="1.3"/>
<path d="M184.13,1236.20 V1239.40" stroke="#111" stroke-width="1.3"/>
<path d="M189.38,1236.20 V1239.40" stroke="#111" stroke-width="1.3"/>
<path d="M193.68,1236.20 V1239.40" stroke="#111" stroke-width="1.3"/>
<path d="M197.30,1236.20 V1239.40" stroke="#111" stroke-width="1.3"/>
<path d="M200.45,1236.20 V1239.40" stroke="#111" stroke-width="1.3"/>
<path d="M203.22,1236.20 V1239.40" stroke="#111" stroke-width="1.3"/>
<path d="M205.70,1236.20 V1242.20" stroke="#111" stroke-width="1.3"/>
<path d="M222.02,1236.20 V1239.40" stroke="#111" stroke-width="1.3"/>
<path d="M231.56,1236.20 V1239.40" stroke="#111" stroke-width="1.3"/>
<path d="M238.33,1236.20 V1239.40" stroke="#111" stroke-width="1.3"/>
<path d="M243.58,1236.20 V1239.40" stroke="#111" stroke-width="1.3"/>
<path d="M247.88,1236.20 V1239.40" stroke="#111" stroke-width="1.3"/>
<path d="M251.50,1236.20 V1239.40" stroke="#111" stroke-width="1.3"/>
<path d="M254.65,1236.20 V1239.40" stroke="#111" stroke-width="1.3"/>
<path d="M257.42,1236.20 V1239.40" stroke="#111" stroke-width="1.3"/>
<path d="M259.90,1236.20 V1242.20" stroke="#111" stroke-width="1.3"/>
<path d="M276.22,1236.20 V1239.40" stroke="#111" stroke-width="1.3"/>
<path d="M285.76,1236.20 V1239.40" stroke="#111" stroke-width="1.3"/>
<path d="M292.53,1236.20 V1239.40" stroke="#111" stroke-width="1.3"/>
<path d="M297.78,1236.20 V1239.40" stroke="#111" stroke-width="1.3"/>
<path d="M302.08,1236.20 V1239.40" stroke="#111" stroke-width="1.3"/>
<path d="M305.70,1236.20 V1239.40" stroke="#111" stroke-width="1.3"/>
<path d="M308.85,1236.20 V1239.40" stroke="#111" stroke-width="1.3"/>
<path d="M311.62,1236.20 V1239.40" stroke="#111" stroke-width="1.3"/>
<path d="M314.10,1236.20 V1242.20" stroke="#111" stroke-width="1.3"/>
<path d="M330.42,1236.20 V1239.40" stroke="#111" stroke-width="1.3"/>
<path d="M339.96,1236.20 V1239.40" stroke="#111" stroke-width="1.3"/>
<path d="M346.73,1236.20 V1239.40" stroke="#111" stroke-width="1.3"/>
<path d="M351.98,1236.20 V1239.40" stroke="#111" stroke-width="1.3"/>
<path d="M356.28,1236.20 V1239.40" stroke="#111" stroke-width="1.3"/>
<path d="M359.90,1236.20 V1239.40" stroke="#111" stroke-width="1.3"/>
<path d="M363.05,1236.20 V1239.40" stroke="#111" stroke-width="1.3"/>
<path d="M365.82,1236.20 V1239.40" stroke="#111" stroke-width="1.3"/>
<path d="M368.30,1236.20 V1242.20" stroke="#111" stroke-width="1.3"/>
<path d="M384.62,1236.20 V1239.40" stroke="#111" stroke-width="1.3"/>
<path d="M394.16,1236.20 V1239.40" stroke="#111" stroke-width="1.3"/>
<path d="M400.93,1236.20 V1239.40" stroke="#111" stroke-width="1.3"/>
<path d="M406.18,1236.20 V1239.40" stroke="#111" stroke-width="1.3"/>
<path d="M410.48,1236.20 V1239.40" stroke="#111" stroke-width="1.3"/>
<path d="M414.10,1236.20 V1239.40" stroke="#111" stroke-width="1.3"/>
<path d="M417.25,1236.20 V1239.40" stroke="#111" stroke-width="1.3"/>
<path d="M420.02,1236.20 V1239.40" stroke="#111" stroke-width="1.3"/>
<path d="M422.50,1236.20 V1242.20" stroke="#111" stroke-width="1.3"/>
<text x="152.00" y="1263.4" text-anchor="middle" class="tk">0.1</text>
<text x="205.70" y="1263.4" text-anchor="middle" class="tk">1</text>
<text x="259.90" y="1263.4" text-anchor="middle" class="tk">10</text>
<text x="314.10" y="1263.4" text-anchor="middle" class="tk">100</text>
<text x="369.00" y="1263.4" text-anchor="middle" class="tk">1000</text>
<text x="422.70" y="1263.4" text-anchor="middle" class="tk">10000</text>
<path d="M248.70,1094.92 V1099.57 M244.70,1094.92 H252.70 M244.70,1099.57 H252.70" stroke="#1b4c88" stroke-width="1.8" fill="none"/>
<path d="M265.60,1078.65 V1107.06 M261.60,1078.65 H269.60 M261.60,1107.06 H269.60" stroke="#1b4c88" stroke-width="1.8" fill="none"/>
<path d="M313.70,1176.02 V1187.13 M309.70,1176.02 H317.70 M309.70,1187.13 H317.70" stroke="#1b4c88" stroke-width="1.8" fill="none"/>
<path d="M271.00,1084.85 V1125.27 M267.00,1084.85 H275.00 M267.00,1125.27 H275.00" stroke="#1b4c88" stroke-width="1.8" fill="none"/>
<path d="M286.40,1084.46 V1125.27 M282.40,1084.46 H290.40 M282.40,1125.27 H290.40" stroke="#1b4c88" stroke-width="1.8" fill="none"/>
<path d="M303.30,1087.69 V1109.64 M299.30,1087.69 H307.30 M299.30,1109.64 H307.30" stroke="#1b4c88" stroke-width="1.8" fill="none"/>
<path d="M351.50,1203.14 V1216.57 M347.50,1203.14 H355.50 M347.50,1216.57 H355.50" stroke="#1b4c88" stroke-width="1.8" fill="none"/>
<path d="M281.70,1088.98 V1123.85 M277.70,1088.98 H285.70 M277.70,1123.85 H285.70" stroke="#1b4c88" stroke-width="1.8" fill="none"/>
<path d="M319.40,1131.60 V1144.51 M315.40,1131.60 H323.40 M315.40,1144.51 H323.40" stroke="#1b4c88" stroke-width="1.8" fill="none"/>
<path d="M335.80,1182.35 V1219.15 M331.80,1182.35 H339.80 M331.80,1219.15 H339.80" stroke="#1b4c88" stroke-width="1.8" fill="none"/>
<path d="M351.90,1172.66 V1192.94 M347.90,1172.66 H355.90 M347.90,1192.94 H355.90" stroke="#1b4c88" stroke-width="1.8" fill="none"/>
<path d="M368.50,1204.43 V1216.05 M364.50,1204.43 H372.50 M364.50,1216.05 H372.50" stroke="#1b4c88" stroke-width="1.8" fill="none"/>
<path d="M318.80,1095.05 V1115.20 M314.80,1095.05 H322.80 M314.80,1115.20 H322.80" stroke="#1b4c88" stroke-width="1.8" fill="none"/>
<path d="M335.20,1103.70 V1122.94 M331.20,1103.70 H339.20 M331.20,1122.94 H339.20" stroke="#1b4c88" stroke-width="1.8" fill="none"/>
<path d="M351.90,1114.55 V1135.21 M347.90,1114.55 H355.90 M347.90,1135.21 H355.90" stroke="#1b4c88" stroke-width="1.8" fill="none"/>
<path d="M368.50,1142.96 V1167.88 M364.50,1142.96 H372.50 M364.50,1167.88 H372.50" stroke="#1b4c88" stroke-width="1.8" fill="none"/>
<path d="M384.60,1201.46 V1216.96 M380.60,1201.46 H388.60 M380.60,1216.96 H388.60" stroke="#1b4c88" stroke-width="1.8" fill="none"/>
<path d="M151.50,1100.34 L153.12,1100.34 L154.75,1100.34 L156.37,1100.34 L157.99,1100.34 L159.62,1100.34 L161.24,1100.34 L162.86,1100.34 L164.49,1100.34 L166.11,1100.34 L167.73,1100.34 L169.36,1100.34 L170.98,1100.34 L172.60,1100.34 L174.23,1100.34 L175.85,1100.34 L177.47,1100.34 L179.10,1100.34 L180.72,1100.34 L182.34,1100.34 L183.97,1100.34 L185.59,1100.34 L187.21,1100.34 L188.84,1100.34 L190.46,1100.34 L192.08,1100.34 L193.71,1100.34 L195.33,1100.34 L196.95,1100.34 L198.58,1100.34 L200.20,1100.34 L201.82,1100.34 L203.45,1100.34 L205.07,1100.34 L206.69,1100.34 L208.32,1100.34 L209.94,1100.34 L211.56,1100.34 L213.19,1100.34 L214.81,1100.34 L216.43,1100.34 L218.06,1100.34 L219.68,1100.34 L221.30,1100.34 L222.93,1100.34 L224.55,1100.34 L226.17,1100.35 L227.80,1100.35 L229.42,1100.35 L231.04,1100.35 L232.67,1100.35 L234.29,1100.35 L235.91,1100.35 L237.54,1100.35 L239.16,1100.35 L240.78,1100.35 L242.41,1100.35 L244.03,1100.35 L245.65,1100.35 L247.28,1100.35 L248.90,1100.36 L250.52,1100.36 L252.15,1100.36 L253.77,1100.37 L255.39,1100.37 L257.02,1100.38 L258.64,1100.39 L260.26,1100.40 L261.89,1100.42 L263.51,1100.44 L265.13,1100.47 L266.76,1100.51 L268.38,1100.55 L270.00,1100.61 L271.63,1100.68 L273.25,1100.78 L274.87,1100.90 L276.50,1101.05 L278.12,1101.25 L279.74,1101.50 L281.37,1101.82 L282.99,1102.23 L284.61,1102.75 L286.24,1103.41 L287.86,1104.24 L289.48,1105.30 L291.11,1106.62 L292.73,1108.27 L294.35,1110.33 L295.98,1112.87 L297.60,1115.98 L299.22,1119.73 L300.85,1124.21 L302.47,1129.46 L304.09,1135.51 L305.72,1142.31 L307.34,1149.79 L308.96,1157.77 L310.59,1166.07 L312.21,1174.43 L313.83,1182.60 L315.46,1190.36 L317.08,1197.52 L318.70,1203.95 L320.33,1209.60 L321.95,1214.47 L323.57,1218.58 L325.20,1222.00 L326.82,1224.81 L328.44,1227.10 L330.07,1228.95 L331.69,1230.43 L333.31,1231.62 L334.94,1232.55 L336.56,1233.30 L338.18,1233.88 L339.81,1234.34 L341.43,1234.71 L343.05,1234.99 L344.68,1235.21 L346.30,1235.39" stroke="#1b4c88" stroke-width="1.9" fill="none"/>
<path d="M151.50,1105.77 L153.31,1105.77 L155.12,1105.77 L156.93,1105.77 L158.73,1105.77 L160.54,1105.77 L162.35,1105.77 L164.16,1105.77 L165.97,1105.77 L167.78,1105.77 L169.58,1105.77 L171.39,1105.77 L173.20,1105.77 L175.01,1105.77 L176.82,1105.77 L178.62,1105.77 L180.43,1105.77 L182.24,1105.77 L184.05,1105.77 L185.86,1105.77 L187.67,1105.77 L189.47,1105.77 L191.28,1105.77 L193.09,1105.77 L194.90,1105.77 L196.71,1105.77 L198.52,1105.77 L200.32,1105.77 L202.13,1105.77 L203.94,1105.77 L205.75,1105.77 L207.56,1105.77 L209.37,1105.77 L211.18,1105.77 L212.98,1105.77 L214.79,1105.77 L216.60,1105.77 L218.41,1105.77 L220.22,1105.77 L222.03,1105.77 L223.83,1105.77 L225.64,1105.77 L227.45,1105.77 L229.26,1105.77 L231.07,1105.77 L232.88,1105.77 L234.68,1105.77 L236.49,1105.77 L238.30,1105.78 L240.11,1105.78 L241.92,1105.78 L243.72,1105.78 L245.53,1105.78 L247.34,1105.79 L249.15,1105.79 L250.96,1105.79 L252.77,1105.80 L254.57,1105.81 L256.38,1105.82 L258.19,1105.83 L260.00,1105.84 L261.81,1105.85 L263.62,1105.87 L265.43,1105.89 L267.23,1105.92 L269.04,1105.95 L270.85,1105.99 L272.66,1106.04 L274.47,1106.10 L276.27,1106.17 L278.08,1106.26 L279.89,1106.36 L281.70,1106.49 L283.51,1106.65 L285.32,1106.84 L287.12,1107.07 L288.93,1107.34 L290.74,1107.68 L292.55,1108.08 L294.36,1108.57 L296.17,1109.16 L297.98,1109.87 L299.78,1110.73 L301.59,1111.75 L303.40,1112.97 L305.21,1114.42 L307.02,1116.13 L308.82,1118.15 L310.63,1120.51 L312.44,1123.24 L314.25,1126.39 L316.06,1129.98 L317.87,1134.03 L319.68,1138.52 L321.48,1143.45 L323.29,1148.77 L325.10,1154.42 L326.91,1160.30 L328.72,1166.33 L330.52,1172.38 L332.33,1178.34 L334.14,1184.10 L335.95,1189.57 L337.76,1194.67 L339.57,1199.36 L341.38,1203.60 L343.18,1207.39 L344.99,1210.72 L346.80,1213.64 L348.61,1216.16 L350.42,1218.32 L352.23,1220.16 L354.03,1221.72 L355.84,1223.03 L357.65,1224.13 L359.46,1225.06 L361.27,1225.83 L363.07,1226.47 L364.88,1227.00 L366.69,1227.44 L368.50,1227.80" stroke="#1b4c88" stroke-width="1.9" fill="none"/>
<path d="M151.50,1106.67 L153.31,1106.67 L155.12,1106.67 L156.93,1106.67 L158.73,1106.67 L160.54,1106.67 L162.35,1106.67 L164.16,1106.67 L165.97,1106.67 L167.78,1106.67 L169.58,1106.67 L171.39,1106.67 L173.20,1106.67 L175.01,1106.67 L176.82,1106.67 L178.62,1106.67 L180.43,1106.67 L182.24,1106.67 L184.05,1106.67 L185.86,1106.67 L187.67,1106.67 L189.47,1106.67 L191.28,1106.67 L193.09,1106.67 L194.90,1106.67 L196.71,1106.67 L198.52,1106.67 L200.32,1106.67 L202.13,1106.67 L203.94,1106.67 L205.75,1106.67 L207.56,1106.67 L209.37,1106.67 L211.18,1106.67 L212.98,1106.67 L214.79,1106.67 L216.60,1106.67 L218.41,1106.67 L220.22,1106.67 L222.03,1106.67 L223.83,1106.67 L225.64,1106.67 L227.45,1106.67 L229.26,1106.67 L231.07,1106.67 L232.88,1106.67 L234.68,1106.67 L236.49,1106.67 L238.30,1106.67 L240.11,1106.67 L241.92,1106.67 L243.72,1106.67 L245.53,1106.67 L247.34,1106.67 L249.15,1106.67 L250.96,1106.67 L252.77,1106.67 L254.57,1106.67 L256.38,1106.67 L258.19,1106.67 L260.00,1106.68 L261.81,1106.68 L263.62,1106.68 L265.43,1106.68 L267.23,1106.68 L269.04,1106.68 L270.85,1106.69 L272.66,1106.69 L274.47,1106.70 L276.27,1106.71 L278.08,1106.72 L279.89,1106.73 L281.70,1106.75 L283.51,1106.78 L285.32,1106.81 L287.12,1106.86 L288.93,1106.93 L290.74,1107.01 L292.55,1107.12 L294.36,1107.27 L296.17,1107.47 L297.98,1107.74 L299.78,1108.10 L301.59,1108.57 L303.40,1109.19 L305.21,1110.02 L307.02,1111.10 L308.82,1112.52 L310.63,1114.36 L312.44,1116.74 L314.25,1119.76 L316.06,1123.55 L317.87,1128.22 L319.68,1133.85 L321.48,1140.46 L323.29,1147.97 L325.10,1156.21 L326.91,1164.90 L328.72,1173.70 L330.52,1182.25 L332.33,1190.23 L334.14,1197.39 L335.95,1203.60 L337.76,1208.84 L339.57,1213.15 L341.38,1216.62 L343.18,1219.36 L344.99,1221.51 L346.80,1223.17 L348.61,1224.44 L350.42,1225.42 L352.23,1226.15 L354.03,1226.71 L355.84,1227.13 L357.65,1227.45 L359.46,1227.69 L361.27,1227.87 L363.07,1228.00 L364.88,1228.10 L366.69,1228.18 L368.50,1228.23" stroke="#1b4c88" stroke-width="1.9" fill="none"/>
<path d="M151.50,1107.58 L153.44,1107.58 L155.38,1107.58 L157.33,1107.58 L159.27,1107.58 L161.21,1107.58 L163.16,1107.58 L165.10,1107.59 L167.04,1107.59 L168.98,1107.59 L170.93,1107.59 L172.87,1107.59 L174.81,1107.59 L176.75,1107.59 L178.69,1107.60 L180.64,1107.60 L182.58,1107.60 L184.52,1107.60 L186.47,1107.60 L188.41,1107.61 L190.35,1107.61 L192.29,1107.61 L194.24,1107.62 L196.18,1107.62 L198.12,1107.63 L200.06,1107.63 L202.00,1107.64 L203.95,1107.65 L205.89,1107.65 L207.83,1107.66 L209.78,1107.67 L211.72,1107.68 L213.66,1107.69 L215.60,1107.70 L217.55,1107.72 L219.49,1107.73 L221.43,1107.75 L223.37,1107.76 L225.31,1107.78 L227.26,1107.81 L229.20,1107.83 L231.14,1107.86 L233.09,1107.89 L235.03,1107.92 L236.97,1107.95 L238.91,1107.99 L240.86,1108.04 L242.80,1108.09 L244.74,1108.14 L246.68,1108.20 L248.62,1108.26 L250.57,1108.34 L252.51,1108.42 L254.45,1108.50 L256.39,1108.60 L258.34,1108.71 L260.28,1108.83 L262.22,1108.96 L264.17,1109.10 L266.11,1109.26 L268.05,1109.44 L269.99,1109.63 L271.94,1109.84 L273.88,1110.08 L275.82,1110.34 L277.76,1110.62 L279.71,1110.93 L281.65,1111.28 L283.59,1111.66 L285.53,1112.08 L287.48,1112.53 L289.42,1113.04 L291.36,1113.59 L293.30,1114.19 L295.25,1114.86 L297.19,1115.58 L299.13,1116.37 L301.07,1117.24 L303.01,1118.18 L304.96,1119.21 L306.90,1120.33 L308.84,1121.55 L310.78,1122.87 L312.73,1124.29 L314.67,1125.83 L316.61,1127.50 L318.56,1129.28 L320.50,1131.20 L322.44,1133.25 L324.38,1135.44 L326.33,1137.76 L328.27,1140.23 L330.21,1142.84 L332.15,1145.58 L334.10,1148.46 L336.04,1151.47 L337.98,1154.60 L339.92,1157.84 L341.87,1161.19 L343.81,1164.62 L345.75,1168.13 L347.69,1171.70 L349.63,1175.30 L351.58,1178.94 L353.52,1182.58 L355.46,1186.21 L357.41,1189.80 L359.35,1193.35 L361.29,1196.84 L363.23,1200.25 L365.18,1203.56 L367.12,1206.77 L369.06,1209.87 L371.00,1212.84 L372.95,1215.68 L374.89,1218.38 L376.83,1220.95 L378.77,1223.37 L380.72,1225.66 L382.66,1227.80 L384.60,1229.81" stroke="#1b4c88" stroke-width="1.9" fill="none"/>
<path d="M151.50,1104.22 L153.58,1104.22 L155.65,1104.22 L157.73,1104.22 L159.80,1104.22 L161.88,1104.22 L163.96,1104.22 L166.03,1104.22 L168.11,1104.22 L170.18,1104.22 L172.26,1104.22 L174.33,1104.22 L176.41,1104.22 L178.49,1104.22 L180.56,1104.22 L182.64,1104.22 L184.71,1104.22 L186.79,1104.22 L188.87,1104.22 L190.94,1104.22 L193.02,1104.22 L195.09,1104.22 L197.17,1104.22 L199.24,1104.22 L201.32,1104.22 L203.40,1104.22 L205.47,1104.22 L207.55,1104.22 L209.62,1104.22 L211.70,1104.22 L213.78,1104.22 L215.85,1104.22 L217.93,1104.22 L220.00,1104.22 L222.08,1104.22 L224.15,1104.22 L226.23,1104.22 L228.31,1104.22 L230.38,1104.22 L232.46,1104.22 L234.53,1104.22 L236.61,1104.22 L238.69,1104.22 L240.76,1104.22 L242.84,1104.22 L244.91,1104.22 L246.99,1104.22 L249.06,1104.22 L251.14,1104.22 L253.22,1104.22 L255.29,1104.22 L257.37,1104.22 L259.44,1104.23 L261.52,1104.23 L263.60,1104.23 L265.67,1104.23 L267.75,1104.23 L269.82,1104.24 L271.90,1104.24 L273.97,1104.24 L276.05,1104.25 L278.13,1104.25 L280.20,1104.26 L282.28,1104.27 L284.35,1104.28 L286.43,1104.29 L288.50,1104.31 L290.58,1104.32 L292.66,1104.34 L294.73,1104.37 L296.81,1104.40 L298.88,1104.43 L300.96,1104.48 L303.04,1104.53 L305.11,1104.59 L307.19,1104.66 L309.26,1104.75 L311.34,1104.85 L313.42,1104.98 L315.49,1105.13 L317.57,1105.30 L319.64,1105.52 L321.72,1105.77 L323.79,1106.07 L325.87,1106.43 L327.95,1106.86 L330.02,1107.37 L332.10,1107.98 L334.17,1108.69 L336.25,1109.54 L338.33,1110.55 L340.40,1111.73 L342.48,1113.11 L344.55,1114.74 L346.63,1116.63 L348.70,1118.82 L350.78,1121.35 L352.86,1124.25 L354.93,1127.54 L357.01,1131.26 L359.08,1135.40 L361.16,1139.98 L363.24,1144.98 L365.31,1150.38 L367.39,1156.11 L369.46,1162.11 L371.54,1168.30 L373.61,1174.59 L375.69,1180.87 L377.77,1187.04 L379.84,1193.02 L381.92,1198.71 L383.99,1204.05 L386.07,1209.00 L388.14,1213.53 L390.22,1217.62 L392.30,1221.28 L394.37,1224.52 L396.45,1227.37 L398.52,1229.85 L400.60,1232.01" stroke="#1b4c88" stroke-width="1.9" fill="none"/>
<circle cx="151.50" cy="1107.06" r="3.50" fill="none" stroke="#1b4c88" stroke-width="1.8"/>
<circle cx="318.80" cy="1104.61" r="3.50" fill="none" stroke="#1b4c88" stroke-width="1.8"/>
<circle cx="335.20" cy="1113.26" r="3.50" fill="none" stroke="#1b4c88" stroke-width="1.8"/>
<circle cx="351.90" cy="1124.62" r="3.50" fill="none" stroke="#1b4c88" stroke-width="1.8"/>
<circle cx="368.50" cy="1155.36" r="3.50" fill="none" stroke="#1b4c88" stroke-width="1.8"/>
<circle cx="384.60" cy="1209.21" r="3.50" fill="none" stroke="#1b4c88" stroke-width="1.8"/>
<circle cx="400.60" cy="1230.39" r="3.50" fill="none" stroke="#1b4c88" stroke-width="1.8"/>
<path d="M151.50,1102.22 L155.81,1110.23 L147.19,1110.23Z" fill="#1b4c88"/>
<path d="M248.70,1094.73 L253.01,1102.74 L244.39,1102.74Z" fill="#1b4c88"/>
<path d="M265.60,1086.72 L269.91,1094.73 L261.29,1094.73Z" fill="#1b4c88"/>
<path d="M297.90,1112.94 L302.21,1120.95 L293.59,1120.95Z" fill="#1b4c88"/>
<path d="M313.70,1176.22 L318.01,1184.23 L309.39,1184.23Z" fill="#1b4c88"/>
<path d="M330.00,1226.19 L334.31,1234.20 L325.69,1234.20Z" fill="#1b4c88"/>
<path d="M346.30,1228.91 L350.61,1236.91 L341.99,1236.91Z" fill="#1b4c88"/>
<circle cx="151.50" cy="1107.06" r="4.40" fill="#1b4c88"/>
<circle cx="271.00" cy="1109.00" r="4.40" fill="#1b4c88"/>
<circle cx="286.40" cy="1103.06" r="4.40" fill="#1b4c88"/>
<circle cx="303.30" cy="1109.64" r="4.40" fill="#1b4c88"/>
<circle cx="319.40" cy="1139.35" r="4.40" fill="#1b4c88"/>
<circle cx="335.80" cy="1189.58" r="4.40" fill="#1b4c88"/>
<circle cx="351.50" cy="1216.57" r="4.40" fill="#1b4c88"/>
<circle cx="368.50" cy="1230.00" r="4.40" fill="#1b4c88"/>
<circle cx="151.50" cy="1107.06" r="4.40" fill="#1b4c88"/>
<circle cx="303.30" cy="1097.63" r="4.40" fill="#1b4c88"/>
<circle cx="319.40" cy="1135.47" r="4.40" fill="#1b4c88"/>
<circle cx="335.80" cy="1202.11" r="4.40" fill="#1b4c88"/>
<circle cx="351.50" cy="1224.19" r="4.40" fill="#1b4c88"/>
<circle cx="368.50" cy="1230.39" r="4.40" fill="#1b4c88"/>
<path d="M151.50,1103.32 L155.24,1107.06 L151.50,1110.80 L147.76,1107.06Z" fill="#1b4c88"/>
<path d="M271.00,1112.62 L274.74,1116.36 L271.00,1120.10 L267.26,1116.36Z" fill="#1b4c88"/>
<path d="M286.40,1114.04 L290.14,1117.78 L286.40,1121.52 L282.66,1117.78Z" fill="#1b4c88"/>
<path d="M335.80,1141.67 L339.54,1145.41 L335.80,1149.15 L332.06,1145.41Z" fill="#1b4c88"/>
<path d="M351.90,1178.61 L355.64,1182.35 L351.90,1186.09 L348.16,1182.35Z" fill="#1b4c88"/>
<path d="M368.50,1207.41 L372.24,1211.15 L368.50,1214.89 L364.76,1211.15Z" fill="#1b4c88"/>
<path d="M384.60,1224.32 L388.34,1228.06 L384.60,1231.80 L380.86,1228.06Z" fill="#1b4c88"/>
<path d="M188.7,1318.5 H210.4" stroke="#1b4c88" stroke-width="1.9"/>
<path d="M199.55,1314.21 L203.37,1321.31 L195.73,1321.31Z" fill="#1b4c88"/>
<text x="214.6" y="1323.3" font-size="15" textLength="50" lengthAdjust="spacingAndGlyphs">CG001</text>
<path d="M280.2,1318.8 H301.8" stroke="#1b4c88" stroke-width="1.9"/>
<circle cx="291.00" cy="1318.80" r="3.30" fill="#1b4c88"/>
<text x="306.8" y="1323.6" font-size="15" textLength="81.7" lengthAdjust="spacingAndGlyphs">FH-CRIg-Fc</text>
<path d="M132.9,1343.1 H154.0" stroke="#1b4c88" stroke-width="1.9"/>
<path d="M143.45,1339.78 L146.76,1343.10 L143.45,1346.41 L140.13,1343.10Z" fill="#1b4c88"/>
<text x="158.8" y="1347.9" font-size="15" textLength="55.8" lengthAdjust="spacingAndGlyphs">CRIg-Fc</text>
<path d="M228.7,1343.1 H249.8" stroke="#1b4c88" stroke-width="1.9"/>
<circle cx="239.25" cy="1343.10" r="3.00" fill="none" stroke="#1b4c88" stroke-width="1.8"/>
<text x="254.6" y="1347.9" font-size="15" textLength="41.4" lengthAdjust="spacingAndGlyphs">FH-Fc</text>
<path d="M309.2,1343.1 H330.8" stroke="#1b4c88" stroke-width="1.9"/>
<circle cx="320.00" cy="1343.10" r="3.30" fill="#1b4c88"/>
<text x="335.4" y="1347.9" font-size="15" textLength="107.7" lengthAdjust="spacingAndGlyphs">CRIg-Fc+FH-Fc</text>
<g shape-rendering="crispEdges"><rect x="0" y="0" width="1" height="1366" fill="#000"/><rect x="1" y="0" width="1" height="1366" fill="#999"/><rect x="519" y="0" width="1" height="1366" fill="#000"/><rect x="518" y="0" width="1" height="1366" fill="#999"/><rect x="0" y="0" width="520" height="1" fill="#000"/><rect x="1" y="1" width="518" height="1" fill="#bbb"/><rect x="0" y="1365" width="520" height="1" fill="#000"/><rect x="1" y="1364" width="518" height="1" fill="#444"/></g>
</svg>
</body></html>
